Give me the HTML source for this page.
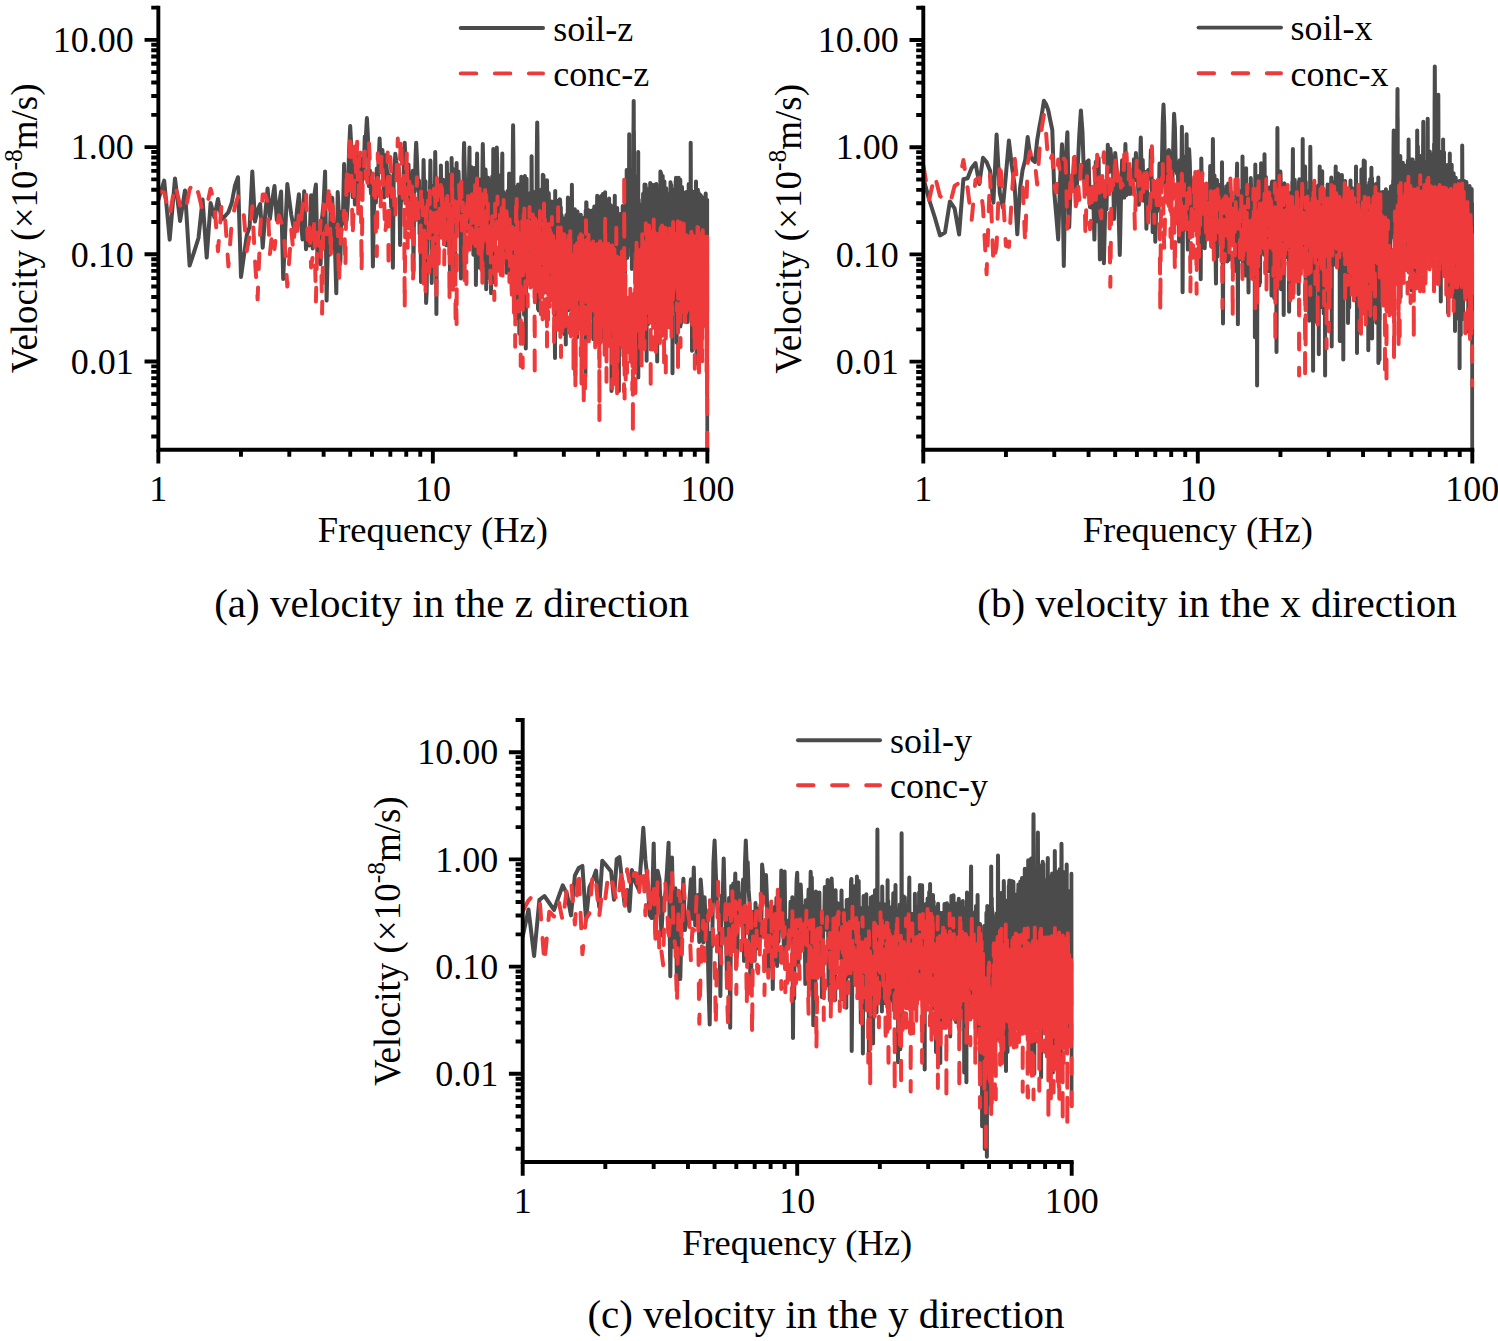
<!DOCTYPE html>
<html><head><meta charset="utf-8"><style>
html,body{margin:0;padding:0;background:#fff;}
svg{display:block;}
text{font-family:"Liberation Serif",serif;fill:#000;}
</style></head><body>
<svg width="1498" height="1341" viewBox="0 0 1498 1341">
<clipPath id="clipa"><rect x="158.35" y="-22.370415535178836" width="551.0" height="472.0704155351788"/></clipPath>
<g clip-path="url(#clipa)" fill="none" stroke-width="4.0" stroke-linejoin="round" stroke-linecap="round">
<path d="M158.3 200.0L164.2 180.6L169.7 239.7L175.0 178.4L180.1 220.9L185.0 190.4L189.6 265.6L194.1 252.0L198.5 238.0L202.6 199.4L206.7 257.6L210.6 203.0L214.4 217.3L218.0 199.0L221.6 219.5L225.1 216.0L228.4 212.2L231.7 203.0L234.9 186.0L238.0 177.2L241.0 277.0L243.9 256.0L246.8 235.2L249.6 226.8L252.3 171.5L255.0 221.6L257.6 210.0L260.2 204.0L262.7 247.7L265.2 215.0L267.6 188.5L269.9 219.0L272.3 200.0L274.5 186.0L276.8 220.0L278.9 205.0L281.1 191.5L283.2 279.0L285.3 230.0L287.3 184.0L289.3 200.0L291.3 215.0L293.2 225.0L295.1 231.7L297.0 210.0L298.9 194.2L300.7 217.3L302.5 239.4L304.2 191.2L306.0 249.3L307.7 233.0L309.4 245.4L311.1 195.3L312.7 248.4L314.3 195.5L315.9 184.5L317.5 258.8L319.1 260.4L320.6 264.3L322.1 217.4L323.6 202.7L325.1 171.4L326.6 300.6L328.0 239.1L329.4 254.8L330.8 202.8L332.2 197.6L333.6 229.7L335.0 248.2L336.3 293.2L337.7 192.0L339.0 216.2L340.3 263.4L341.6 211.7L342.8 223.7L344.1 164.0L345.4 202.5L346.6 220.5L347.8 203.7L349.0 152.2L350.2 126.1L351.4 149.3L352.6 197.1L353.7 160.2L354.9 204.5L356.0 148.2L357.2 203.8L358.3 157.2L359.4 169.9L360.5 166.6L361.6 190.3L362.7 158.2L363.7 171.2L364.8 136.6L365.8 138.1L366.9 118.0L367.9 136.4L368.9 186.1L369.9 170.5L371.0 193.5L372.0 187.7L372.9 266.5L373.9 210.6L374.9 186.2L375.9 202.5L376.8 168.4L377.8 180.3L378.7 159.7L379.6 138.6L380.6 162.7L381.5 163.6L382.4 149.9L383.3 163.7L384.2 197.5L385.1 191.5L386.0 155.1L386.9 170.6L387.7 173.2L388.6 189.0L389.5 175.3L390.3 183.4L391.2 206.8L392.0 194.2L392.9 267.7L393.7 174.9L394.5 170.3L395.3 153.7L396.1 160.6L397.0 165.5L397.8 167.3L398.6 167.3L399.3 182.9L400.1 244.9L400.9 199.1L401.7 200.9L402.5 197.5L403.2 184.4L404.0 162.3L404.7 142.7L405.5 161.0L406.2 155.4L407.0 186.1L407.7 169.6L408.5 164.6L409.2 192.3L409.9 219.6L410.6 180.9L411.4 219.9L412.1 197.7L412.8 170.8L413.5 271.0L414.2 189.9L414.9 182.9L415.6 155.7L416.2 142.7L416.9 157.7L417.6 176.3L418.3 191.2L419.0 180.4L419.6 233.9L420.3 192.0L421.0 282.0L421.6 209.9L422.3 216.4L422.9 202.3L423.6 159.9L424.2 194.1L424.8 262.0L425.5 181.2L426.1 302.9L426.7 291.5L427.4 193.2L428.0 214.1L428.6 195.2L429.2 195.5L429.8 204.2L430.4 160.5L431.0 204.0L431.7 283.0L432.3 190.5L432.9 226.7L433.4 201.4L434.0 185.5L434.6 253.2L435.2 152.0L435.8 192.4L436.4 313.9L437.0 189.7L437.5 241.5L438.1 214.0L438.7 234.9L439.2 216.2L439.8 196.9L440.4 229.3L440.9 165.5L441.5 202.8L442.0 197.8L442.6 205.1L443.1 179.8L443.7 187.7L444.2 211.5L444.8 199.2L445.3 234.0L445.8 215.1L446.4 245.3L446.9 162.4L447.4 215.1L447.9 192.9L448.5 233.4L449.0 190.4L449.5 174.9L450.0 280.1L450.5 210.7L451.1 232.6L451.6 158.1L452.1 216.6L452.6 168.6L453.1 186.1L453.6 222.3L454.1 213.6L454.6 184.0L455.1 274.5L455.6 183.7L456.1 209.3L456.6 163.0L457.0 227.1L457.5 193.3L458.0 182.2L458.5 171.6L459.0 185.9L459.5 187.3L459.9 211.8L460.4 205.7L460.9 278.5L461.3 276.8L461.8 237.3L462.3 223.3L462.7 245.0L463.2 269.7L463.7 158.5L464.1 143.1L464.6 164.3L465.0 178.9L465.5 217.5L465.9 193.3L466.4 193.6L466.8 195.4L467.3 179.7L467.7 231.3L468.2 222.3L468.6 218.5L469.1 170.5L469.5 147.6L469.9 225.8L470.4 185.7L470.8 202.6L471.2 167.0L471.7 178.4L472.1 190.8L472.5 204.8L473.0 208.3L473.4 254.7L473.8 198.3L474.2 167.9L474.7 243.7L475.1 176.1L475.5 180.1L475.9 285.0L476.3 234.0L476.7 200.1L477.1 153.6L477.6 203.6L478.0 200.4L478.4 253.2L478.8 205.9L479.2 179.3L479.6 267.8L480.0 221.5L480.4 183.3L480.8 183.0L481.2 209.6L481.6 180.8L482.0 222.6L482.4 171.8L482.8 144.0L483.2 164.6L483.5 239.6L483.9 265.2L484.3 226.7L484.7 229.0L485.1 188.1L485.5 169.4L485.9 177.6L486.2 289.2L486.6 224.9L487.0 278.9L487.4 202.3L487.8 236.7L488.1 177.7L488.5 188.6L488.9 197.4L489.3 217.4L489.6 218.0L490.0 213.6L490.4 208.1L490.7 219.7L491.1 293.2L491.5 210.8L491.8 249.9L492.2 176.4L492.5 205.7L492.9 218.9L493.3 149.0L493.6 195.9L494.0 206.9L494.3 282.1L494.7 227.0L495.1 221.4L495.4 178.0L495.8 175.9L496.1 193.1L496.5 186.6L496.8 147.6L497.2 162.1L497.5 205.0L497.8 177.0L498.2 227.0L498.5 175.0L498.9 178.6L499.2 180.3L499.6 198.2L499.9 221.6L500.2 247.1L500.6 198.0L500.9 199.3L501.3 250.5L501.6 239.2L501.9 185.9L502.3 153.6L502.6 252.0L502.9 190.9L503.3 226.8L503.6 192.6L503.9 196.5L504.2 215.7L504.6 218.0L504.9 214.6L505.2 219.7L505.5 194.2L505.9 244.6L506.2 199.5L506.5 272.7L506.8 217.8L507.2 201.6L507.5 191.0L507.8 215.6L508.1 207.3L508.4 227.6L508.7 216.8L509.1 173.4L509.4 254.4L509.7 176.4L510.0 253.6L510.3 251.1L510.6 278.3L510.9 232.2L511.2 190.1L511.5 212.8L511.9 212.7L512.2 229.2L512.5 208.3L512.8 155.2L513.1 125.2L513.4 154.9L513.7 221.4L514.0 212.1L514.3 186.4L514.6 303.0L514.9 235.9L515.2 256.1L515.5 206.9L515.8 289.6L516.1 252.7L516.4 318.6L516.7 194.2L517.0 216.7L517.3 209.5L517.6 228.7L517.8 198.9L518.1 184.5L518.4 217.0L518.7 231.5L519.0 209.8L519.3 333.8L519.6 211.7L519.9 203.4L520.2 254.2L520.4 216.7L520.7 201.5L521.0 202.7L521.3 176.7L521.6 302.4L521.9 233.1L522.1 202.3L522.4 240.4L522.7 197.3L523.0 206.0L523.3 223.7L523.5 212.3L523.8 208.5L524.1 314.7L524.4 193.4L524.7 230.7L524.9 176.0L525.2 185.0L525.5 197.3L525.8 348.4L526.0 243.3L526.3 266.9L526.6 178.7L526.8 238.2L527.1 216.3L527.4 214.5L527.7 241.5L527.9 206.1L528.2 222.6L528.5 202.4L528.7 212.9L529.0 224.5L529.3 193.4L529.5 203.9L529.8 215.4L530.1 219.7L530.3 254.9L530.6 235.2L530.8 227.6L531.1 268.8L531.4 197.6L531.6 156.3L531.9 213.8L532.1 191.9L532.4 227.4L532.7 229.1L532.9 191.5L533.2 244.0L533.4 227.7L533.7 216.6L533.9 283.7L534.2 266.6L534.5 200.4L534.7 195.5L535.0 283.3L535.2 194.7L535.5 250.0L535.7 208.3L536.0 212.3L536.2 228.2L536.5 287.8L536.7 165.6L537.0 137.8L537.2 122.4L537.5 141.1L537.7 206.8L538.0 309.1L538.2 205.0L538.5 245.3L538.7 310.5L538.9 251.8L539.2 244.9L539.4 246.7L539.7 258.6L539.9 206.0L540.2 236.2L540.4 258.4L540.6 276.5L540.9 281.9L541.1 281.4L541.4 189.4L541.6 214.9L541.8 221.4L542.1 278.0L542.3 218.6L542.6 206.3L542.8 174.8L543.0 208.6L543.3 255.9L543.5 175.5L543.7 198.3L544.0 211.0L544.2 229.1L544.4 215.5L544.7 276.5L544.9 203.1L545.1 232.3L545.4 256.5L545.6 292.3L545.8 274.6L546.1 197.0L546.3 259.0L546.5 244.2L546.8 221.6L547.0 180.2L547.2 201.1L547.4 253.5L547.7 192.0L547.9 213.8L548.1 209.4L548.4 253.5L548.6 217.9L548.8 193.3L549.0 219.1L549.3 215.9L549.5 250.5L549.7 215.6L549.9 248.0L550.2 233.2L550.4 280.0L550.6 253.0L550.8 223.1L551.0 229.3L551.3 228.4L551.5 276.4L551.7 201.4L551.9 225.1L552.1 234.1L552.4 226.3L552.6 239.9L552.8 231.5L553.0 225.0L553.2 249.0L553.4 218.9L553.7 241.3L553.9 254.1L554.1 202.4L554.3 219.2L554.5 302.2L554.7 316.0L555.0 358.0L555.2 191.1L555.4 269.0L555.6 298.0L555.8 286.1L556.0 253.6L556.2 249.4L556.4 254.4L556.7 240.2L556.9 263.5L557.1 234.4L557.3 213.4L557.5 200.9L557.7 288.7L557.9 259.4L558.1 209.9L558.3 269.6L558.5 220.1L558.7 246.9L559.0 224.5L559.2 213.8L559.4 210.6L559.6 199.4L559.8 200.1L560.0 199.4L560.2 202.4L560.4 272.5L560.6 237.8L560.8 207.2L561.0 238.6L561.2 240.2L561.4 236.6L561.6 214.9L561.8 232.2L562.0 280.5L562.2 228.7L562.4 237.8L562.6 298.2L562.8 217.9L563.0 258.5L563.2 236.8L563.4 266.5L563.6 227.9L563.8 241.7L564.0 228.7L564.2 280.4L564.4 293.3L564.6 249.6L564.8 334.5L565.0 260.1L565.2 274.0L565.4 287.8L565.6 222.1L565.8 344.6L566.0 231.0L566.2 239.0L566.4 215.0L566.6 273.1L566.8 227.3L567.0 256.2L567.2 218.4L567.3 228.6L567.5 231.0L567.7 220.1L567.9 197.5L568.1 266.1L568.3 310.2L568.5 219.5L568.7 214.1L568.9 228.8L569.1 205.7L569.3 253.1L569.4 230.5L569.6 245.4L569.8 293.1L570.0 282.1L570.2 298.4L570.4 303.8L570.6 248.1L570.8 241.0L571.0 198.8L571.1 208.7L571.3 242.9L571.5 281.6L571.7 236.0L571.9 184.8L572.1 219.4L572.3 266.5L572.4 214.8L572.6 218.5L572.8 225.4L573.0 250.7L573.2 278.5L573.4 220.4L573.5 250.0L573.7 244.2L573.9 237.7L574.1 248.6L574.3 275.2L574.5 220.6L574.6 242.0L574.8 209.2L575.0 243.3L575.2 272.0L575.4 375.1L575.5 240.6L575.7 227.2L575.9 249.2L576.1 232.9L576.3 211.8L576.4 244.8L576.6 273.8L576.8 292.1L577.0 337.4L577.2 233.0L577.3 224.2L577.5 211.5L577.7 238.3L577.9 275.5L578.0 223.1L578.2 283.2L578.4 263.1L578.6 220.4L578.7 254.9L578.9 278.1L579.1 307.1L579.3 217.2L579.4 278.7L579.6 271.6L579.8 224.3L580.0 228.4L580.1 320.3L580.3 233.6L580.5 228.1L580.7 264.9L580.8 214.8L581.0 243.1L581.2 233.6L581.3 248.1L581.5 253.3L581.7 256.8L581.9 239.4L582.0 293.4L582.2 282.3L582.4 308.9L582.5 240.7L582.7 266.9L582.9 239.6L583.0 228.1L583.2 258.6L583.4 315.4L583.6 277.5L583.7 228.8L583.9 224.3L584.1 272.8L584.2 264.6L584.4 288.8L584.6 217.2L584.7 288.6L584.9 240.5L585.1 228.3L585.2 233.8L585.4 376.2L585.6 322.3L585.7 210.4L585.9 231.8L586.1 267.0L586.2 202.2L586.4 202.4L586.5 204.4L586.7 290.9L586.9 233.6L587.0 232.5L587.2 277.3L587.4 232.6L587.5 269.8L587.7 236.6L587.9 231.1L588.0 238.0L588.2 220.4L588.3 209.9L588.5 292.4L588.7 291.8L588.8 244.0L589.0 264.6L589.1 290.7L589.3 238.7L589.5 267.4L589.6 272.8L589.8 210.8L589.9 218.0L590.1 272.4L590.3 267.0L590.4 222.6L590.6 284.2L590.7 279.9L590.9 234.8L591.1 235.4L591.2 215.3L591.4 243.6L591.5 215.3L591.7 251.7L591.8 259.1L592.0 255.2L592.2 210.5L592.3 259.0L592.5 273.6L592.6 219.1L592.8 256.7L592.9 283.8L593.1 224.2L593.2 306.3L593.4 339.2L593.6 268.9L593.7 294.8L593.9 231.0L594.0 264.0L594.2 311.5L594.3 206.4L594.5 284.8L594.6 228.3L594.8 281.6L594.9 262.0L595.1 281.8L595.2 241.5L595.4 245.4L595.6 311.4L595.7 211.4L595.9 221.5L596.0 341.5L596.2 307.6L596.3 220.7L596.5 342.4L596.6 231.3L596.8 301.3L596.9 305.2L597.1 201.8L597.2 195.8L597.4 236.4L597.5 315.1L597.7 281.2L597.8 241.2L598.0 293.5L598.1 235.1L598.3 238.2L598.4 225.4L598.6 330.9L598.7 283.3L598.9 247.2L599.0 231.6L599.2 335.9L599.3 242.0L599.4 227.1L599.6 244.1L599.7 271.4L599.9 278.1L600.0 216.9L600.2 322.2L600.3 266.3L600.5 210.5L600.6 289.0L600.8 341.2L600.9 289.0L601.1 195.9L601.2 247.8L601.3 257.7L601.5 300.3L601.6 250.2L601.8 212.7L601.9 315.8L602.1 325.2L602.2 248.8L602.4 208.8L602.5 289.0L602.6 273.8L602.8 340.1L602.9 194.0L603.1 244.6L603.2 232.8L603.4 216.5L603.5 272.9L603.6 237.3L603.8 205.8L603.9 219.4L604.1 283.0L604.2 258.9L604.4 227.0L604.5 268.1L604.6 219.0L604.8 265.6L604.9 263.7L605.1 192.3L605.2 250.6L605.3 271.6L605.5 275.7L605.6 269.1L605.8 298.9L605.9 275.4L606.0 310.5L606.2 242.7L606.3 204.5L606.5 223.8L606.6 232.8L606.7 206.2L606.9 216.3L607.0 251.0L607.2 229.9L607.3 232.6L607.4 273.2L607.6 291.5L607.7 293.1L607.8 239.1L608.0 269.3L608.1 290.9L608.3 220.8L608.4 225.4L608.5 262.5L608.7 230.8L608.8 224.7L608.9 238.8L609.1 198.6L609.2 244.3L609.3 207.2L609.5 229.1L609.6 226.8L609.7 235.8L609.9 218.0L610.0 246.8L610.2 266.6L610.3 236.5L610.4 311.8L610.6 292.2L610.7 233.9L610.8 205.3L611.0 276.4L611.1 228.6L611.2 235.9L611.4 255.7L611.5 390.9L611.6 233.3L611.8 246.4L611.9 260.1L612.0 265.8L612.2 226.1L612.3 257.1L612.4 252.5L612.6 263.2L612.7 216.7L612.8 217.9L612.9 342.9L613.1 284.4L613.2 285.5L613.3 314.3L613.5 329.2L613.6 240.3L613.7 274.1L613.9 261.3L614.0 253.7L614.1 265.2L614.3 234.6L614.4 292.2L614.5 241.3L614.6 220.0L614.8 195.8L614.9 260.9L615.0 227.5L615.2 325.8L615.3 224.4L615.4 234.2L615.6 354.8L615.7 250.1L615.8 309.0L615.9 277.6L616.1 216.8L616.2 226.1L616.3 239.6L616.4 296.3L616.6 235.5L616.7 245.5L616.8 246.8L617.0 234.8L617.1 278.2L617.2 208.0L617.3 226.8L617.5 284.4L617.6 258.4L617.7 249.3L617.8 238.1L618.0 217.9L618.1 244.8L618.2 360.2L618.4 256.4L618.5 254.7L618.6 367.6L618.7 297.1L618.9 390.9L619.0 323.6L619.1 263.3L619.2 233.0L619.4 259.4L619.5 236.3L619.6 281.7L619.7 218.5L619.9 245.1L620.0 287.0L620.1 244.4L620.2 256.7L620.3 214.1L620.5 231.3L620.6 323.8L620.7 262.1L620.8 237.5L621.0 249.3L621.1 276.0L621.2 277.8L621.3 284.4L621.5 231.6L621.6 227.5L621.7 260.1L621.8 250.1L621.9 253.3L622.1 225.5L622.2 233.8L622.3 272.8L622.4 236.8L622.6 273.4L622.7 206.1L622.8 321.3L622.9 224.9L623.0 246.0L623.2 307.4L623.3 228.6L623.4 226.4L623.5 356.1L623.6 301.8L623.8 250.3L623.9 208.6L624.0 256.6L624.1 228.4L624.2 225.2L624.4 311.7L624.5 257.9L624.6 243.2L624.7 208.8L624.8 235.0L625.0 283.5L625.1 224.7L625.2 223.6L625.3 241.5L625.4 213.7L625.5 231.6L625.7 247.2L625.8 208.6L625.9 217.3L626.0 221.1L626.1 205.5L626.3 195.0L626.4 185.4L626.5 208.6L626.6 245.7L626.7 170.0L626.8 230.9L627.0 255.3L627.1 204.4L627.2 258.1L627.3 214.6L627.4 204.5L627.5 200.2L627.7 200.3L627.8 212.9L627.9 188.5L628.0 215.4L628.1 201.6L628.2 212.4L628.4 246.6L628.5 188.5L628.6 197.1L628.7 190.7L628.8 175.6L628.9 209.0L629.0 209.4L629.2 134.2L629.3 207.7L629.4 196.7L629.5 236.7L629.6 169.2L629.7 192.1L629.9 218.2L630.0 184.3L630.1 195.0L630.2 228.4L630.3 194.2L630.4 189.0L630.5 234.7L630.6 178.2L630.8 229.4L630.9 192.7L631.0 187.1L631.1 201.4L631.2 201.1L631.3 255.9L631.4 218.2L631.6 199.9L631.7 205.2L631.8 192.8L631.9 269.1L632.0 196.2L632.1 233.7L632.2 211.0L632.3 239.6L632.4 194.6L632.6 197.7L632.7 195.4L632.8 225.5L632.9 250.5L633.0 225.2L633.1 199.4L633.2 225.7L633.3 156.8L633.4 136.5L633.6 120.1L633.7 100.9L633.8 130.7L633.9 131.2L634.0 150.1L634.1 222.9L634.2 210.8L634.3 208.0L634.4 191.2L634.6 184.1L634.7 175.9L634.8 178.8L634.9 195.6L635.0 217.1L635.1 210.4L635.2 198.0L635.3 206.1L635.4 218.2L635.5 250.9L635.6 237.4L635.8 186.6L635.9 227.0L636.0 206.1L636.1 273.7L636.2 280.7L636.3 236.7L636.4 255.0L636.5 249.3L636.6 266.6L636.7 215.1L636.8 211.1L636.9 256.2L637.1 310.6L637.2 211.2L637.3 237.8L637.4 235.8L637.5 222.4L637.6 256.7L637.7 202.2L637.8 222.2L637.9 226.7L638.0 306.5L638.1 248.9L638.2 152.0L638.3 377.5L638.4 210.9L638.5 240.9L638.7 199.6L638.8 205.3L638.9 250.2L639.0 268.0L639.1 243.9L639.2 238.8L639.3 262.2L639.4 308.3L639.5 293.0L639.6 265.0L639.7 226.8L639.8 258.7L639.9 211.5L640.0 285.6L640.1 215.2L640.2 330.8L640.3 216.9L640.4 213.9L640.5 219.5L640.7 230.9L640.8 208.7L640.9 213.9L641.0 280.0L641.1 295.2L641.2 204.6L641.3 227.5L641.4 225.8L641.5 268.1L641.6 246.3L641.7 224.9L641.8 261.7L641.9 240.9L642.0 209.5L642.1 262.3L642.2 229.3L642.3 280.6L642.4 246.7L642.5 204.3L642.6 257.2L642.7 238.8L642.8 235.4L642.9 225.8L643.0 246.4L643.1 193.8L643.2 232.3L643.3 296.7L643.4 209.1L643.5 202.9L643.6 225.1L643.7 233.5L643.8 222.5L643.9 230.7L644.0 247.6L644.1 262.1L644.2 191.9L644.3 222.9L644.4 242.1L644.5 184.5L644.7 303.3L644.8 244.2L644.9 230.8L645.0 227.9L645.1 203.9L645.2 194.3L645.3 248.2L645.4 291.7L645.5 262.0L645.6 184.8L645.7 189.4L645.8 232.9L645.9 238.0L646.0 240.9L646.1 277.4L646.2 283.1L646.3 346.4L646.4 219.3L646.5 229.4L646.6 360.7L646.7 250.2L646.8 193.0L646.8 286.5L646.9 241.8L647.0 208.2L647.1 220.3L647.2 238.3L647.3 245.2L647.4 225.0L647.5 255.3L647.6 234.5L647.7 322.4L647.8 272.3L647.9 204.2L648.0 199.3L648.1 272.3L648.2 240.9L648.3 323.9L648.4 226.9L648.5 206.9L648.6 189.1L648.7 258.3L648.8 196.9L648.9 244.2L649.0 237.0L649.1 254.6L649.2 299.8L649.3 211.8L649.4 230.4L649.5 256.1L649.6 209.0L649.7 198.0L649.8 203.1L649.9 294.2L650.0 261.2L650.1 208.8L650.2 182.9L650.3 243.6L650.4 218.3L650.5 211.1L650.6 208.7L650.6 229.6L650.7 219.9L650.8 297.8L650.9 237.1L651.0 283.2L651.1 291.2L651.2 283.2L651.3 231.6L651.4 238.6L651.5 234.5L651.6 184.6L651.7 300.8L651.8 204.4L651.9 236.0L652.0 248.0L652.1 260.6L652.2 235.1L652.3 243.6L652.4 267.0L652.5 244.0L652.6 246.3L652.6 272.0L652.7 195.6L652.8 233.2L652.9 186.7L653.0 204.4L653.1 187.2L653.2 274.5L653.3 218.9L653.4 233.4L653.5 260.6L653.6 248.5L653.7 291.5L653.8 230.9L653.9 250.0L654.0 274.8L654.1 199.9L654.1 229.3L654.2 197.6L654.3 236.2L654.4 217.7L654.5 269.2L654.6 229.2L654.7 205.5L654.8 275.9L654.9 226.0L655.0 184.6L655.1 214.3L655.2 222.8L655.3 186.7L655.4 203.4L655.4 216.4L655.5 219.5L655.6 226.9L655.7 216.5L655.8 218.2L655.9 228.7L656.0 220.5L656.1 255.4L656.2 259.5L656.3 183.9L656.4 205.5L656.5 199.3L656.5 220.6L656.6 220.8L656.7 255.3L656.8 252.9L656.9 277.9L657.0 247.7L657.1 239.4L657.2 361.4L657.3 243.6L657.4 223.3L657.5 217.0L657.5 189.2L657.6 298.8L657.7 255.6L657.8 222.3L657.9 276.0L658.0 256.9L658.1 228.9L658.2 305.2L658.3 280.3L658.4 227.4L658.4 226.0L658.5 204.5L658.6 199.4L658.7 220.9L658.8 210.0L658.9 195.1L659.0 253.4L659.1 308.6L659.2 248.1L659.3 284.4L659.3 274.8L659.4 243.9L659.5 233.3L659.6 220.9L659.7 231.1L659.8 218.2L659.9 206.4L660.0 231.1L660.1 245.4L660.1 238.4L660.2 253.6L660.3 219.3L660.4 171.4L660.5 209.9L660.6 215.9L660.7 235.7L660.8 223.2L660.8 245.0L660.9 210.8L661.0 229.0L661.1 173.1L661.2 247.8L661.3 273.5L661.4 272.1L661.5 275.6L661.5 208.5L661.6 328.3L661.7 235.5L661.8 207.6L661.9 198.2L662.0 195.5L662.1 242.9L662.2 242.2L662.2 259.9L662.3 245.0L662.4 232.9L662.5 205.6L662.6 253.1L662.7 175.9L662.8 245.1L662.9 205.9L662.9 205.3L663.0 283.6L663.1 290.7L663.2 251.4L663.3 211.2L663.4 229.1L663.5 220.0L663.5 201.2L663.6 211.8L663.7 193.6L663.8 317.1L663.9 211.8L664.0 223.0L664.1 212.6L664.1 244.2L664.2 236.3L664.3 256.8L664.4 181.6L664.5 209.2L664.6 239.4L664.7 237.5L664.7 265.5L664.8 196.9L664.9 221.8L665.0 224.2L665.1 232.3L665.2 220.4L665.3 252.9L665.3 199.8L665.4 194.1L665.5 217.6L665.6 198.0L665.7 223.3L665.8 237.6L665.8 197.4L665.9 228.3L666.0 235.7L666.1 236.4L666.2 188.2L666.3 257.7L666.4 251.4L666.4 216.4L666.5 229.1L666.6 253.4L666.7 267.0L666.8 212.7L666.9 257.3L666.9 225.6L667.0 302.3L667.1 275.9L667.2 220.8L667.3 220.9L667.4 230.2L667.4 307.0L667.5 203.9L667.6 235.1L667.7 243.7L667.8 251.1L667.9 195.1L667.9 239.3L668.0 227.5L668.1 219.5L668.2 314.7L668.3 200.1L668.4 249.8L668.4 209.2L668.5 299.3L668.6 231.3L668.7 227.7L668.8 212.7L668.8 233.9L668.9 272.6L669.0 195.9L669.1 244.6L669.2 204.2L669.3 210.9L669.3 270.4L669.4 195.9L669.5 252.3L669.6 193.8L669.7 231.9L669.8 241.4L669.8 204.3L669.9 261.5L670.0 210.6L670.1 229.3L670.2 212.1L670.2 256.2L670.3 212.9L670.4 213.8L670.5 182.2L670.6 281.0L670.6 189.2L670.7 217.6L670.8 243.5L670.9 218.9L671.0 239.0L671.1 221.2L671.1 275.8L671.2 205.4L671.3 184.9L671.4 199.4L671.5 233.0L671.5 238.5L671.6 266.5L671.7 302.5L671.8 223.9L671.9 264.8L671.9 224.1L672.0 221.7L672.1 202.9L672.2 273.2L672.3 219.2L672.3 243.4L672.4 232.4L672.5 373.2L672.6 213.3L672.7 235.1L672.7 259.5L672.8 208.2L672.9 264.6L673.0 235.7L673.1 199.9L673.1 311.7L673.2 224.6L673.3 229.2L673.4 258.7L673.5 309.0L673.5 212.5L673.6 203.3L673.7 253.6L673.8 246.2L673.8 227.1L673.9 243.4L674.0 296.6L674.1 267.7L674.2 236.4L674.2 283.1L674.3 284.4L674.4 256.9L674.5 201.5L674.6 235.9L674.6 239.7L674.7 275.3L674.8 232.3L674.9 240.2L674.9 250.1L675.0 197.6L675.1 193.7L675.2 188.6L675.3 200.3L675.3 213.3L675.4 192.3L675.5 238.7L675.6 236.7L675.6 227.7L675.7 180.7L675.8 232.5L675.9 202.3L676.0 177.8L676.0 260.2L676.1 283.5L676.2 196.1L676.3 244.3L676.3 193.2L676.4 237.5L676.5 241.1L676.6 237.9L676.7 342.7L676.7 240.2L676.8 206.1L676.9 291.2L677.0 216.5L677.0 234.0L677.1 226.0L677.2 261.6L677.3 197.7L677.3 221.4L677.4 226.7L677.5 238.7L677.6 282.5L677.7 216.6L677.7 219.8L677.8 245.5L677.9 209.7L678.0 231.7L678.0 217.9L678.1 241.0L678.2 237.3L678.3 246.9L678.3 225.8L678.4 211.6L678.5 183.7L678.6 239.0L678.6 210.9L678.7 177.7L678.8 221.9L678.9 214.6L678.9 246.5L679.0 216.4L679.1 221.3L679.2 250.8L679.2 245.6L679.3 205.6L679.4 237.8L679.5 290.9L679.6 282.7L679.6 268.6L679.7 215.2L679.8 304.4L679.9 208.9L679.9 223.8L680.0 201.2L680.1 236.0L680.2 250.6L680.2 246.9L680.3 179.8L680.4 326.4L680.4 217.2L680.5 252.7L680.6 288.3L680.7 257.6L680.7 232.6L680.8 233.8L680.9 204.1L681.0 222.3L681.0 263.8L681.1 246.2L681.2 244.5L681.3 246.2L681.3 220.0L681.4 323.0L681.5 219.1L681.6 207.9L681.6 245.0L681.7 206.4L681.8 317.1L681.9 236.7L681.9 201.8L682.0 187.0L682.1 238.9L682.2 191.4L682.2 193.2L682.3 224.5L682.4 227.0L682.4 264.7L682.5 202.7L682.6 272.1L682.7 223.9L682.7 269.0L682.8 204.8L682.9 192.5L683.0 226.1L683.0 210.2L683.1 229.2L683.2 263.3L683.3 275.9L683.3 198.1L683.4 213.4L683.5 216.8L683.5 206.8L683.6 228.4L683.7 193.5L683.8 208.7L683.8 195.3L683.9 227.6L684.0 293.3L684.1 205.0L684.1 276.2L684.2 217.6L684.3 253.2L684.3 266.9L684.4 239.1L684.5 250.0L684.6 241.4L684.6 289.3L684.7 257.1L684.8 225.0L684.8 215.8L684.9 205.3L685.0 231.7L685.1 211.3L685.1 211.7L685.2 274.9L685.3 247.9L685.4 233.7L685.4 266.9L685.5 232.6L685.6 223.1L685.6 246.4L685.7 239.4L685.8 209.7L685.9 217.8L685.9 235.4L686.0 210.4L686.1 284.3L686.1 191.9L686.2 273.5L686.3 321.8L686.4 239.9L686.4 209.9L686.5 261.4L686.6 226.4L686.6 249.1L686.7 218.1L686.8 210.7L686.8 300.1L686.9 196.8L687.0 194.3L687.1 257.5L687.1 256.5L687.2 217.3L687.3 221.7L687.3 246.6L687.4 238.5L687.5 242.8L687.6 226.0L687.6 322.0L687.7 204.6L687.8 241.3L687.8 209.5L687.9 218.9L688.0 216.3L688.0 263.7L688.1 236.8L688.2 218.6L688.3 233.3L688.3 227.8L688.4 234.0L688.5 211.9L688.5 221.7L688.6 227.6L688.7 197.8L688.7 184.1L688.8 237.9L688.9 209.6L689.0 260.1L689.0 187.7L689.1 210.8L689.2 241.0L689.2 203.1L689.3 224.9L689.4 216.3L689.4 214.2L689.5 211.7L689.6 316.5L689.6 217.8L689.7 201.7L689.8 283.4L689.9 205.5L689.9 251.6L690.0 243.6L690.1 249.5L690.1 256.0L690.2 207.4L690.3 190.7L690.3 225.6L690.4 226.6L690.5 211.8L690.5 261.1L690.6 200.8L690.7 163.4L690.7 142.7L690.8 170.4L690.9 261.2L691.0 220.5L691.0 227.5L691.1 205.7L691.2 223.4L691.2 227.1L691.3 238.6L691.4 190.3L691.4 225.3L691.5 229.7L691.6 298.5L691.6 238.0L691.7 246.1L691.8 226.2L691.8 230.1L691.9 324.5L692.0 224.5L692.0 350.8L692.1 239.1L692.2 283.5L692.2 236.4L692.3 262.8L692.4 262.8L692.4 222.4L692.5 218.5L692.6 292.1L692.7 218.5L692.7 257.2L692.8 207.2L692.9 229.7L692.9 221.9L693.0 214.7L693.1 211.9L693.1 306.4L693.2 244.4L693.3 228.0L693.3 236.1L693.4 266.7L693.5 245.1L693.5 202.8L693.6 209.9L693.7 276.3L693.7 234.9L693.8 237.5L693.9 206.0L693.9 203.6L694.0 210.3L694.1 218.2L694.1 234.9L694.2 221.5L694.3 245.2L694.3 225.5L694.4 231.5L694.5 297.8L694.5 191.8L694.6 241.4L694.7 251.3L694.7 207.4L694.8 269.4L694.9 202.3L694.9 260.6L695.0 208.5L695.1 225.3L695.1 223.1L695.2 236.1L695.3 241.3L695.3 191.7L695.4 261.6L695.5 232.6L695.5 283.9L695.6 206.8L695.6 226.7L695.7 299.7L695.8 241.4L695.8 231.3L695.9 228.6L696.0 282.8L696.0 181.5L696.1 339.3L696.2 228.7L696.2 262.7L696.3 229.7L696.4 263.6L696.4 200.4L696.5 225.6L696.6 255.6L696.6 363.5L696.7 231.9L696.8 197.6L696.8 252.9L696.9 242.9L697.0 205.6L697.0 210.6L697.1 231.2L697.2 207.1L697.2 283.3L697.3 339.7L697.3 253.5L697.4 266.6L697.5 219.5L697.5 201.7L697.6 250.9L697.7 258.9L697.7 247.4L697.8 208.3L697.9 189.8L697.9 235.4L698.0 206.1L698.1 217.1L698.1 229.7L698.2 214.1L698.2 289.0L698.3 219.1L698.4 236.0L698.4 312.3L698.5 245.3L698.6 223.5L698.6 253.8L698.7 209.9L698.8 201.9L698.8 192.9L698.9 245.1L699.0 244.2L699.0 245.4L699.1 245.6L699.1 237.9L699.2 292.7L699.3 228.8L699.3 204.1L699.4 214.4L699.5 225.3L699.5 240.3L699.6 221.9L699.7 227.3L699.7 217.6L699.8 251.2L699.8 267.0L699.9 220.8L700.0 260.1L700.0 210.7L700.1 314.0L700.2 222.0L700.2 244.7L700.3 239.7L700.4 200.1L700.4 238.4L700.5 195.1L700.5 231.0L700.6 234.7L700.7 297.6L700.7 209.8L700.8 195.6L700.9 241.9L700.9 219.1L701.0 235.8L701.0 215.4L701.1 247.6L701.2 205.1L701.2 233.0L701.3 256.5L701.4 276.8L701.4 220.5L701.5 235.8L701.5 298.2L701.6 206.4L701.7 264.7L701.7 252.1L701.8 306.2L701.9 231.5L701.9 229.3L702.0 235.7L702.0 222.9L702.1 197.7L702.2 237.5L702.2 224.9L702.3 232.9L702.4 248.8L702.4 225.2L702.5 208.8L702.5 264.9L702.6 293.7L702.7 214.5L702.7 241.0L702.8 224.3L702.9 249.1L702.9 197.5L703.0 284.4L703.0 269.0L703.1 207.0L703.2 243.6L703.2 221.3L703.3 212.9L703.3 267.8L703.4 254.6L703.5 238.5L703.5 241.9L703.6 272.0L703.7 222.1L703.7 232.4L703.8 214.5L703.8 229.6L703.9 210.1L704.0 222.5L704.0 244.0L704.1 217.9L704.1 244.8L704.2 260.2L704.3 242.9L704.3 230.9L704.4 225.6L704.5 200.6L704.5 256.4L704.6 299.3L704.6 215.6L704.7 248.9L704.8 240.8L704.8 262.5L704.9 247.7L704.9 212.4L705.0 207.4L705.1 222.3L705.1 211.7L705.2 240.8L705.2 202.8L705.3 247.1L705.4 258.8L705.4 196.4L705.5 275.9L705.5 263.7L705.6 196.7L705.7 236.8L705.7 193.6L705.8 231.8L705.9 202.3L705.9 239.0L706.0 201.9L706.0 203.3L706.1 309.6L706.2 262.1L706.2 247.0L706.3 259.2L706.3 214.3L706.4 205.0L706.5 221.7L706.5 256.1L706.6 255.4L706.6 251.4L706.7 228.1L706.8 234.3L706.8 253.8L706.9 240.1L706.9 215.0L707.0 231.7L707.1 289.8L707.1 302.5L707.2 202.4L707.2 206.9L707.3 199.9L707.4 449.7" stroke="#4b4b4b"/>
<path d="M158.3 191.0L164.2 192.6L169.7 215.6L175.0 184.2L180.1 205.3L185.0 212.7L189.6 189.4L194.1 181.4L198.5 193.6L202.6 211.3L206.7 206.9L210.6 188.7L214.4 203.2L218.0 251.2L221.6 204.7L225.1 217.1L228.4 266.4L231.7 222.8L234.9 206.9L238.0 196.5L241.0 206.1L243.9 215.6L246.8 251.0L249.6 235.8L252.3 206.3L255.0 260.2L257.6 299.3L260.2 230.4L262.7 194.4L265.2 194.6L267.6 201.8L269.9 254.1L272.3 231.3L274.5 249.1L276.8 229.4L278.9 215.2L281.1 221.8L283.2 227.0L285.3 253.0L287.3 286.6L289.3 259.1L291.3 229.7L293.2 250.1L295.1 222.9L297.0 236.8L298.9 214.0L300.7 225.2L302.5 206.7L304.2 197.9L306.0 190.2L307.7 239.8L309.4 222.2L311.1 267.5L312.7 256.3L314.3 218.4L315.9 301.5L317.5 232.7L319.1 248.8L320.6 220.5L322.1 313.6L323.6 204.7L325.1 205.1L326.6 234.1L328.0 198.3L329.4 183.6L330.8 258.2L332.2 195.7L333.6 221.5L335.0 223.9L336.3 233.7L337.7 224.4L339.0 283.3L340.3 245.8L341.6 229.0L342.8 232.2L344.1 210.7L345.4 268.2L346.6 167.5L347.8 199.5L349.0 160.0L350.2 132.1L351.4 160.4L352.6 237.1L353.7 210.0L354.9 142.6L356.0 172.5L357.2 141.8L358.3 216.3L359.4 158.7L360.5 152.6L361.6 271.7L362.7 182.4L363.7 174.3L364.8 151.4L365.8 179.0L366.9 177.5L367.9 188.0L368.9 141.8L369.9 162.3L371.0 167.2L372.0 182.6L372.9 173.6L373.9 195.1L374.9 172.6L375.9 234.6L376.8 256.1L377.8 153.2L378.7 167.4L379.6 191.6L380.6 210.7L381.5 153.9L382.4 165.7L383.3 184.3L384.2 200.5L385.1 233.9L386.0 225.8L386.9 214.2L387.7 152.4L388.6 269.8L389.5 196.3L390.3 156.9L391.2 171.2L392.0 196.9L392.9 180.1L393.7 184.2L394.5 216.3L395.3 219.3L396.1 191.4L397.0 161.7L397.8 138.6L398.6 168.1L399.3 196.2L400.1 158.6L400.9 136.7L401.7 157.8L402.5 192.8L403.2 206.2L404.0 168.8L404.7 308.8L405.5 179.2L406.2 166.1L407.0 150.0L407.7 247.8L408.5 214.4L409.2 181.5L409.9 187.0L410.6 203.1L411.4 237.2L412.1 177.9L412.8 283.6L413.5 269.7L414.2 189.6L414.9 219.0L415.6 198.4L416.2 225.0L416.9 177.2L417.6 207.1L418.3 216.4L419.0 219.9L419.6 226.4L420.3 255.9L421.0 193.0L421.6 186.4L422.3 204.1L422.9 217.3L423.6 284.0L424.2 230.6L424.8 233.9L425.5 294.4L426.1 197.7L426.7 197.4L427.4 209.0L428.0 200.6L428.6 227.2L429.2 281.7L429.8 190.8L430.4 217.4L431.0 230.9L431.7 216.3L432.3 268.2L432.9 238.0L433.4 260.4L434.0 188.6L434.6 196.1L435.2 183.3L435.8 250.7L436.4 294.7L437.0 172.1L437.5 245.1L438.1 237.7L438.7 267.9L439.2 202.1L439.8 236.5L440.4 199.8L440.9 185.1L441.5 240.1L442.0 180.0L442.6 235.3L443.1 203.4L443.7 217.7L444.2 264.4L444.8 200.7L445.3 216.5L445.8 208.7L446.4 196.7L446.9 217.1L447.4 196.1L447.9 247.9L448.5 228.2L449.0 203.9L449.5 302.0L450.0 208.4L450.5 233.6L451.1 240.1L451.6 202.9L452.1 172.0L452.6 266.1L453.1 290.1L453.6 195.7L454.1 194.3L454.6 215.0L455.1 227.6L455.6 326.4L456.1 295.4L456.6 324.1L457.0 202.0L457.5 228.0L458.0 215.6L458.5 201.0L459.0 185.0L459.5 196.1L459.9 210.4L460.4 188.1L460.9 194.6L461.3 181.8L461.8 230.6L462.3 220.2L462.7 202.4L463.2 222.8L463.7 215.4L464.1 234.2L464.6 280.6L465.0 210.5L465.5 233.0L465.9 200.8L466.4 284.0L466.8 230.7L467.3 195.9L467.7 203.8L468.2 196.0L468.6 197.8L469.1 207.6L469.5 254.7L469.9 218.4L470.4 205.6L470.8 215.8L471.2 204.9L471.7 242.8L472.1 185.0L472.5 206.7L473.0 209.2L473.4 198.4L473.8 243.6L474.2 198.4L474.7 207.7L475.1 184.9L475.5 245.9L475.9 212.4L476.3 235.3L476.7 201.6L477.1 177.6L477.6 209.6L478.0 249.3L478.4 258.3L478.8 211.6L479.2 260.2L479.6 184.2L480.0 224.4L480.4 205.1L480.8 218.3L481.2 202.4L481.6 270.9L482.0 209.0L482.4 289.6L482.8 193.3L483.2 218.9L483.5 220.1L483.9 243.0L484.3 213.6L484.7 224.5L485.1 190.1L485.5 211.9L485.9 245.9L486.2 195.3L486.6 223.5L487.0 207.4L487.4 201.8L487.8 197.9L488.1 258.8L488.5 243.4L488.9 218.9L489.3 220.0L489.6 248.5L490.0 236.6L490.4 282.3L490.7 283.6L491.1 227.7L491.5 242.5L491.8 232.9L492.2 216.2L492.5 226.5L492.9 249.6L493.3 234.4L493.6 241.3L494.0 229.9L494.3 300.0L494.7 257.3L495.1 203.7L495.4 263.1L495.8 285.8L496.1 263.9L496.5 221.2L496.8 223.2L497.2 214.5L497.5 196.4L497.8 231.2L498.2 270.8L498.5 258.6L498.9 247.3L499.2 270.8L499.6 247.4L499.9 214.8L500.2 264.3L500.6 225.6L500.9 280.8L501.3 223.1L501.6 204.0L501.9 256.0L502.3 206.2L502.6 277.3L502.9 230.2L503.3 262.8L503.6 200.0L503.9 240.4L504.2 251.9L504.6 210.0L504.9 246.2L505.2 211.7L505.5 224.3L505.9 228.8L506.2 247.9L506.5 211.3L506.8 216.3L507.2 265.3L507.5 257.8L507.8 236.2L508.1 224.4L508.4 255.9L508.7 237.8L509.1 227.1L509.4 282.0L509.7 219.5L510.0 270.1L510.3 250.3L510.6 252.9L510.9 256.4L511.2 263.6L511.5 284.6L511.9 295.6L512.2 225.2L512.5 218.3L512.8 289.0L513.1 221.9L513.4 223.5L513.7 272.4L514.0 318.7L514.3 279.0L514.6 245.0L514.9 235.3L515.2 346.8L515.5 264.8L515.8 254.5L516.1 197.7L516.4 223.2L516.7 199.0L517.0 294.3L517.3 226.7L517.6 221.7L517.8 251.7L518.1 224.6L518.4 249.2L518.7 311.6L519.0 285.4L519.3 228.2L519.6 298.7L519.9 239.3L520.2 248.3L520.4 234.4L520.7 366.1L521.0 233.4L521.3 268.0L521.6 256.7L521.9 263.2L522.1 217.3L522.4 250.4L522.7 367.7L523.0 252.7L523.3 226.2L523.5 211.0L523.8 236.2L524.1 270.5L524.4 205.5L524.7 210.8L524.9 261.7L525.2 293.0L525.5 244.6L525.8 259.2L526.0 232.0L526.3 233.2L526.6 247.8L526.8 229.4L527.1 246.5L527.4 223.7L527.7 306.5L527.9 262.4L528.2 218.5L528.5 228.0L528.7 284.7L529.0 241.5L529.3 233.6L529.5 206.9L529.8 266.0L530.1 256.8L530.3 287.6L530.6 226.9L530.8 275.0L531.1 285.7L531.4 285.4L531.6 274.7L531.9 247.9L532.1 213.3L532.4 264.4L532.7 208.7L532.9 219.3L533.2 246.1L533.4 223.5L533.7 249.4L533.9 291.6L534.2 228.8L534.5 283.1L534.7 377.5L535.0 212.4L535.2 248.0L535.5 272.3L535.7 275.1L536.0 237.9L536.2 285.7L536.5 244.8L536.7 232.1L537.0 255.9L537.2 263.9L537.5 291.2L537.7 269.0L538.0 220.9L538.2 261.1L538.5 243.7L538.7 273.7L538.9 215.4L539.2 269.1L539.4 284.9L539.7 214.7L539.9 207.8L540.2 304.4L540.4 305.5L540.6 231.7L540.9 314.2L541.1 249.5L541.4 258.1L541.6 254.5L541.8 244.6L542.1 303.6L542.3 266.3L542.6 319.2L542.8 267.6L543.0 316.5L543.3 258.7L543.5 255.7L543.7 263.6L544.0 203.6L544.2 284.1L544.4 229.8L544.7 325.7L544.9 217.5L545.1 277.4L545.4 284.9L545.6 262.0L545.8 225.6L546.1 291.6L546.3 245.5L546.5 243.1L546.8 276.5L547.0 346.4L547.2 226.1L547.4 254.6L547.7 275.0L547.9 242.9L548.1 319.7L548.4 268.6L548.6 224.0L548.8 233.0L549.0 232.0L549.3 256.9L549.5 315.4L549.7 229.0L549.9 233.1L550.2 238.6L550.4 266.9L550.6 255.6L550.8 254.8L551.0 233.0L551.3 296.6L551.5 259.8L551.7 304.9L551.9 216.9L552.1 258.4L552.4 251.7L552.6 300.4L552.8 279.6L553.0 263.8L553.2 235.4L553.4 278.9L553.7 313.6L553.9 290.6L554.1 346.9L554.3 270.5L554.5 248.6L554.7 241.3L555.0 294.5L555.2 296.6L555.4 275.0L555.6 292.3L555.8 262.3L556.0 304.3L556.2 281.6L556.4 243.7L556.7 271.3L556.9 277.9L557.1 240.7L557.3 329.8L557.5 296.9L557.7 235.7L557.9 242.5L558.1 207.3L558.3 332.1L558.5 238.8L558.7 302.4L559.0 265.9L559.2 225.2L559.4 242.4L559.6 246.4L559.8 292.0L560.0 255.1L560.2 236.4L560.4 336.9L560.6 266.9L560.8 227.4L561.0 357.1L561.2 282.0L561.4 261.4L561.6 237.3L561.8 284.3L562.0 232.1L562.2 334.4L562.4 291.6L562.6 287.0L562.8 294.4L563.0 310.9L563.2 264.4L563.4 301.1L563.6 234.3L563.8 286.1L564.0 292.4L564.2 244.4L564.4 234.6L564.6 326.5L564.8 318.6L565.0 234.6L565.2 275.3L565.4 242.0L565.6 244.2L565.8 331.7L566.0 282.7L566.2 294.1L566.4 250.8L566.6 296.6L566.8 283.6L567.0 256.0L567.2 267.9L567.3 248.4L567.5 276.5L567.7 243.1L567.9 264.2L568.1 310.9L568.3 282.9L568.5 277.5L568.7 235.7L568.9 304.7L569.1 279.3L569.3 342.2L569.4 334.9L569.6 334.1L569.8 271.8L570.0 296.8L570.2 234.9L570.4 226.2L570.6 299.4L570.8 285.2L571.0 342.1L571.1 253.8L571.3 268.9L571.5 299.8L571.7 279.0L571.9 310.8L572.1 261.1L572.3 310.2L572.4 313.7L572.6 324.7L572.8 261.6L573.0 326.5L573.2 254.7L573.4 278.1L573.5 371.4L573.7 283.1L573.9 278.1L574.1 259.1L574.3 271.3L574.5 269.4L574.6 286.9L574.8 273.7L575.0 256.0L575.2 245.4L575.4 385.4L575.5 281.2L575.7 243.9L575.9 257.7L576.1 284.4L576.3 249.8L576.4 323.7L576.6 274.3L576.8 287.9L577.0 286.1L577.2 243.1L577.3 337.0L577.5 312.0L577.7 241.7L577.9 277.2L578.0 273.6L578.2 256.1L578.4 261.3L578.6 252.1L578.7 283.3L578.9 265.7L579.1 236.9L579.3 249.6L579.4 242.7L579.6 283.4L579.8 276.4L580.0 263.1L580.1 275.8L580.3 283.5L580.5 249.0L580.7 230.6L580.8 355.6L581.0 246.3L581.2 251.4L581.3 291.9L581.5 384.7L581.7 240.3L581.9 264.4L582.0 315.6L582.2 235.6L582.4 252.4L582.5 282.7L582.7 310.5L582.9 238.1L583.0 265.8L583.2 280.8L583.4 276.8L583.6 275.8L583.7 406.2L583.9 382.3L584.1 249.4L584.2 253.3L584.4 264.9L584.6 238.3L584.7 243.5L584.9 278.8L585.1 388.5L585.2 256.7L585.4 248.6L585.6 283.8L585.7 257.1L585.9 220.3L586.1 237.7L586.2 322.2L586.4 239.7L586.5 286.6L586.7 267.0L586.9 302.0L587.0 274.5L587.2 252.0L587.4 250.3L587.5 252.4L587.7 252.3L587.9 253.8L588.0 257.9L588.2 282.8L588.3 276.5L588.5 234.7L588.7 267.7L588.8 340.1L589.0 344.6L589.1 259.8L589.3 245.5L589.5 257.7L589.6 243.2L589.8 255.0L589.9 338.3L590.1 323.3L590.3 270.7L590.4 279.0L590.6 294.2L590.7 294.4L590.9 293.5L591.1 298.8L591.2 283.0L591.4 243.7L591.5 292.9L591.7 291.0L591.8 246.9L592.0 250.0L592.2 287.7L592.3 265.9L592.5 310.3L592.6 257.3L592.8 291.0L592.9 285.8L593.1 241.6L593.2 257.5L593.4 263.6L593.6 259.5L593.7 239.2L593.9 254.1L594.0 278.9L594.2 253.3L594.3 288.3L594.5 268.8L594.6 272.2L594.8 251.8L594.9 307.1L595.1 237.6L595.2 349.3L595.4 284.0L595.6 349.4L595.7 280.4L595.9 264.1L596.0 265.6L596.2 342.4L596.3 278.1L596.5 267.7L596.6 247.4L596.8 247.0L596.9 269.6L597.1 272.5L597.2 310.7L597.4 243.9L597.5 272.8L597.7 245.3L597.8 256.7L598.0 276.2L598.1 325.8L598.3 245.3L598.4 249.7L598.6 297.2L598.7 279.2L598.9 240.0L599.0 294.3L599.2 358.9L599.3 301.2L599.4 420.1L599.6 301.8L599.7 263.1L599.9 310.3L600.0 283.0L600.2 240.8L600.3 265.9L600.5 351.1L600.6 291.5L600.8 266.5L600.9 297.5L601.1 294.6L601.2 248.6L601.3 273.9L601.5 311.2L601.6 244.2L601.8 281.3L601.9 244.5L602.1 259.1L602.2 305.1L602.4 265.8L602.5 314.1L602.6 299.7L602.8 289.7L602.9 248.1L603.1 273.4L603.2 326.0L603.4 289.4L603.5 238.2L603.6 277.6L603.8 274.7L603.9 276.3L604.1 270.5L604.2 312.5L604.4 280.2L604.5 321.2L604.6 354.9L604.8 330.5L604.9 305.6L605.1 228.1L605.2 216.7L605.3 250.6L605.5 279.0L605.6 261.6L605.8 246.7L605.9 341.2L606.0 271.9L606.2 253.3L606.3 278.6L606.5 381.8L606.6 299.5L606.7 340.3L606.9 245.2L607.0 301.8L607.2 264.8L607.3 266.6L607.4 274.2L607.6 274.7L607.7 308.8L607.8 261.7L608.0 274.7L608.1 272.4L608.3 288.7L608.4 282.8L608.5 235.5L608.7 320.1L608.8 290.7L608.9 249.4L609.1 277.6L609.2 331.7L609.3 326.8L609.5 270.3L609.6 257.3L609.7 353.2L609.9 301.1L610.0 292.9L610.2 270.8L610.3 322.5L610.4 253.5L610.6 315.0L610.7 310.3L610.8 279.9L611.0 267.4L611.1 295.4L611.2 269.3L611.4 271.3L611.5 260.1L611.6 307.7L611.8 250.1L611.9 277.8L612.0 273.6L612.2 388.4L612.3 245.5L612.4 283.8L612.6 256.4L612.7 352.0L612.8 247.4L612.9 336.7L613.1 291.3L613.2 253.8L613.3 271.6L613.5 260.9L613.6 276.6L613.7 314.4L613.9 276.9L614.0 386.2L614.1 335.0L614.3 256.2L614.4 248.4L614.5 295.3L614.6 267.6L614.8 260.3L614.9 339.9L615.0 285.1L615.2 260.6L615.3 283.8L615.4 282.7L615.6 310.1L615.7 271.7L615.8 278.9L615.9 250.7L616.1 318.9L616.2 337.5L616.3 218.9L616.4 303.9L616.6 369.0L616.7 321.0L616.8 310.2L617.0 256.5L617.1 398.8L617.2 268.9L617.3 320.7L617.5 307.0L617.6 287.9L617.7 361.3L617.8 355.7L618.0 274.4L618.1 276.6L618.2 332.0L618.4 275.0L618.5 323.1L618.6 257.8L618.7 259.9L618.9 270.2L619.0 264.3L619.1 275.2L619.2 257.4L619.4 252.4L619.5 269.8L619.6 253.7L619.7 267.0L619.9 271.0L620.0 347.1L620.1 273.5L620.2 288.0L620.3 340.5L620.5 277.1L620.6 264.9L620.7 287.8L620.8 317.7L621.0 267.1L621.1 306.1L621.2 282.8L621.3 287.0L621.5 297.5L621.6 283.2L621.7 262.3L621.8 266.6L621.9 247.6L622.1 333.2L622.2 300.9L622.3 352.5L622.4 275.6L622.6 294.1L622.7 295.6L622.8 262.8L622.9 295.3L623.0 299.9L623.2 286.8L623.3 281.3L623.4 273.5L623.5 259.0L623.6 301.6L623.8 271.9L623.9 261.0L624.0 392.0L624.1 341.9L624.2 174.1L624.4 294.4L624.5 275.6L624.6 398.6L624.7 283.8L624.8 333.9L625.0 323.3L625.1 261.7L625.2 270.0L625.3 304.4L625.4 274.7L625.5 357.3L625.7 379.8L625.8 323.5L625.9 308.1L626.0 305.4L626.1 303.2L626.3 326.3L626.4 304.6L626.5 308.3L626.6 336.3L626.7 352.0L626.8 330.3L627.0 372.9L627.1 345.3L627.2 319.2L627.3 315.4L627.4 307.1L627.5 343.7L627.7 322.9L627.8 353.0L627.9 322.3L628.0 352.8L628.1 336.5L628.2 326.5L628.4 337.7L628.5 337.5L628.6 295.4L628.7 344.3L628.8 301.3L628.9 324.8L629.0 321.9L629.2 339.7L629.3 308.2L629.4 334.6L629.5 342.2L629.6 314.7L629.7 327.0L629.9 318.2L630.0 339.1L630.1 353.9L630.2 323.1L630.3 288.7L630.4 361.4L630.5 327.4L630.6 306.1L630.8 337.2L630.9 320.2L631.0 305.7L631.1 314.6L631.2 328.7L631.3 314.2L631.4 303.6L631.6 296.6L631.7 316.8L631.8 336.9L631.9 314.8L632.0 318.0L632.1 343.5L632.2 330.5L632.3 390.3L632.4 346.9L632.6 366.3L632.7 323.0L632.8 340.6L632.9 433.5L633.0 288.7L633.1 321.0L633.2 338.0L633.3 308.9L633.4 298.2L633.6 322.7L633.7 297.6L633.8 304.7L633.9 296.0L634.0 336.9L634.1 295.9L634.2 360.9L634.3 325.7L634.4 314.9L634.6 298.3L634.7 309.1L634.8 299.1L634.9 340.4L635.0 307.6L635.1 269.2L635.2 350.6L635.3 382.6L635.4 392.9L635.5 280.8L635.6 291.8L635.8 305.3L635.9 260.7L636.0 279.5L636.1 270.2L636.2 316.7L636.3 243.1L636.4 331.3L636.5 240.9L636.6 330.7L636.7 277.6L636.8 259.9L636.9 268.3L637.1 334.8L637.2 259.8L637.3 307.5L637.4 320.1L637.5 266.5L637.6 284.9L637.7 280.3L637.8 331.8L637.9 258.4L638.0 270.5L638.1 290.4L638.2 254.6L638.3 262.8L638.4 299.9L638.5 288.1L638.7 281.8L638.8 313.5L638.9 260.9L639.0 324.0L639.1 265.8L639.2 323.8L639.3 294.1L639.4 293.4L639.5 283.7L639.6 298.8L639.7 264.0L639.8 293.9L639.9 249.9L640.0 286.3L640.1 348.1L640.2 341.1L640.3 258.7L640.4 317.2L640.5 281.0L640.7 270.3L640.8 266.7L640.9 270.8L641.0 270.7L641.1 332.7L641.2 294.3L641.3 251.4L641.4 296.2L641.5 279.7L641.6 372.0L641.7 259.3L641.8 291.2L641.9 273.4L642.0 254.9L642.1 246.8L642.2 313.3L642.3 231.9L642.4 256.1L642.5 269.5L642.6 258.2L642.7 274.4L642.8 250.4L642.9 293.3L643.0 276.0L643.1 280.5L643.2 344.0L643.3 249.0L643.4 267.7L643.5 247.8L643.6 257.1L643.7 269.4L643.8 289.6L643.9 249.1L644.0 295.4L644.1 286.0L644.2 266.9L644.3 304.6L644.4 263.5L644.5 349.1L644.7 333.4L644.8 262.6L644.9 328.0L645.0 289.0L645.1 269.1L645.2 274.8L645.3 292.0L645.4 329.0L645.5 309.4L645.6 326.9L645.7 260.2L645.8 223.3L645.9 242.7L646.0 258.5L646.1 238.8L646.2 268.3L646.3 240.6L646.4 253.2L646.5 253.1L646.6 308.9L646.7 262.9L646.8 239.9L646.8 284.8L646.9 316.8L647.0 280.7L647.1 220.1L647.2 295.9L647.3 247.3L647.4 292.4L647.5 292.6L647.6 278.1L647.7 236.3L647.8 256.9L647.9 241.0L648.0 287.3L648.1 235.3L648.2 261.4L648.3 283.6L648.4 293.0L648.5 260.3L648.6 237.0L648.7 301.6L648.8 252.6L648.9 264.4L649.0 217.5L649.1 252.9L649.2 318.1L649.3 282.1L649.4 280.9L649.5 269.2L649.6 241.9L649.7 248.0L649.8 322.8L649.9 239.7L650.0 276.4L650.1 257.2L650.2 282.2L650.3 242.5L650.4 239.2L650.5 267.7L650.6 250.2L650.6 288.1L650.7 390.9L650.8 242.0L650.9 249.7L651.0 244.7L651.1 258.2L651.2 248.7L651.3 272.2L651.4 257.4L651.5 266.1L651.6 298.2L651.7 298.3L651.8 244.9L651.9 250.5L652.0 269.4L652.1 263.1L652.2 230.2L652.3 282.6L652.4 288.4L652.5 260.7L652.6 240.8L652.6 279.1L652.7 235.0L652.8 234.8L652.9 269.6L653.0 260.9L653.1 349.6L653.2 249.8L653.3 245.2L653.4 254.2L653.5 300.2L653.6 278.9L653.7 219.6L653.8 241.3L653.9 321.4L654.0 269.2L654.1 259.7L654.1 236.3L654.2 248.1L654.3 226.8L654.4 296.0L654.5 314.3L654.6 267.0L654.7 288.4L654.8 242.0L654.9 251.5L655.0 272.6L655.1 277.6L655.2 271.6L655.3 237.9L655.4 314.4L655.4 249.7L655.5 277.8L655.6 298.1L655.7 241.6L655.8 262.2L655.9 272.6L656.0 356.0L656.1 279.7L656.2 260.5L656.3 278.7L656.4 265.6L656.5 239.7L656.5 247.7L656.6 273.1L656.7 277.0L656.8 261.0L656.9 250.4L657.0 234.0L657.1 283.5L657.2 246.5L657.3 280.3L657.4 317.4L657.5 292.0L657.5 270.7L657.6 233.7L657.7 279.4L657.8 342.5L657.9 253.1L658.0 294.2L658.1 267.1L658.2 287.0L658.3 281.5L658.4 252.9L658.4 263.5L658.5 238.4L658.6 240.5L658.7 252.0L658.8 280.2L658.9 258.3L659.0 298.1L659.1 275.8L659.2 309.5L659.3 287.9L659.3 261.0L659.4 239.3L659.5 264.0L659.6 265.5L659.7 239.8L659.8 243.0L659.9 343.1L660.0 292.5L660.1 256.3L660.1 229.4L660.2 250.8L660.3 267.8L660.4 329.9L660.5 228.4L660.6 280.5L660.7 324.6L660.8 327.9L660.8 270.8L660.9 287.2L661.0 277.2L661.1 227.1L661.2 251.2L661.3 316.8L661.4 238.9L661.5 243.8L661.5 272.4L661.6 303.8L661.7 256.8L661.8 271.2L661.9 339.0L662.0 293.7L662.1 225.4L662.2 276.8L662.2 239.7L662.3 322.7L662.4 280.5L662.5 306.0L662.6 264.0L662.7 234.5L662.8 247.1L662.9 237.3L662.9 283.8L663.0 300.2L663.1 261.7L663.2 293.6L663.3 247.6L663.4 260.8L663.5 259.8L663.5 263.9L663.6 229.9L663.7 244.5L663.8 239.5L663.9 274.5L664.0 263.2L664.1 368.5L664.1 273.6L664.2 246.8L664.3 239.4L664.4 277.3L664.5 291.5L664.6 241.8L664.7 265.6L664.7 323.6L664.8 305.5L664.9 240.2L665.0 264.1L665.1 299.2L665.2 271.4L665.3 227.8L665.3 255.6L665.4 251.6L665.5 255.0L665.6 337.0L665.7 290.7L665.8 381.3L665.8 287.9L665.9 329.9L666.0 259.5L666.1 314.7L666.2 267.3L666.3 290.0L666.4 246.7L666.4 299.8L666.5 258.4L666.6 316.4L666.7 253.1L666.8 258.3L666.9 265.1L666.9 301.1L667.0 281.4L667.1 250.4L667.2 264.4L667.3 295.2L667.4 301.8L667.4 282.5L667.5 254.4L667.6 309.9L667.7 257.7L667.8 281.1L667.9 289.0L667.9 277.4L668.0 233.8L668.1 247.4L668.2 286.3L668.3 274.7L668.4 294.5L668.4 278.8L668.5 277.4L668.6 300.3L668.7 311.8L668.8 251.9L668.8 292.7L668.9 327.2L669.0 240.7L669.1 260.9L669.2 267.1L669.3 268.3L669.3 297.9L669.4 223.2L669.5 235.6L669.6 286.3L669.7 251.3L669.8 262.1L669.8 242.8L669.9 323.7L670.0 264.0L670.1 235.9L670.2 305.6L670.2 270.1L670.3 250.0L670.4 238.3L670.5 230.2L670.6 297.7L670.6 240.9L670.7 247.9L670.8 267.8L670.9 235.6L671.0 280.3L671.1 274.1L671.1 274.3L671.2 256.0L671.3 251.8L671.4 285.0L671.5 339.5L671.5 270.5L671.6 307.2L671.7 243.7L671.8 284.1L671.9 248.8L671.9 251.4L672.0 230.4L672.1 314.5L672.2 243.2L672.3 248.4L672.3 255.4L672.4 260.2L672.5 289.9L672.6 237.2L672.7 236.3L672.7 247.9L672.8 299.8L672.9 291.6L673.0 303.5L673.1 264.8L673.1 222.1L673.2 271.2L673.3 251.5L673.4 241.8L673.5 252.7L673.5 280.4L673.6 269.9L673.7 281.7L673.8 272.4L673.8 269.9L673.9 267.5L674.0 285.2L674.1 276.9L674.2 275.7L674.2 255.2L674.3 247.6L674.4 285.5L674.5 273.1L674.6 283.8L674.6 253.7L674.7 227.2L674.8 285.9L674.9 244.6L674.9 282.9L675.0 234.1L675.1 238.7L675.2 240.6L675.3 242.6L675.3 289.5L675.4 229.1L675.5 253.0L675.6 267.3L675.6 266.4L675.7 276.4L675.8 266.5L675.9 242.1L676.0 237.0L676.0 285.4L676.1 251.9L676.2 243.1L676.3 252.0L676.3 241.2L676.4 284.1L676.5 247.4L676.6 269.5L676.7 259.1L676.7 269.1L676.8 310.9L676.9 263.5L677.0 242.1L677.0 277.2L677.1 253.1L677.2 250.5L677.3 290.4L677.3 248.7L677.4 252.3L677.5 260.4L677.6 285.1L677.7 284.9L677.7 257.9L677.8 223.7L677.9 221.3L678.0 240.4L678.0 372.7L678.1 260.7L678.2 264.1L678.3 278.0L678.3 263.7L678.4 244.1L678.5 279.0L678.6 245.3L678.6 255.0L678.7 229.0L678.8 273.1L678.9 288.4L678.9 254.6L679.0 234.1L679.1 255.4L679.2 244.3L679.2 247.4L679.3 275.0L679.4 272.0L679.5 270.9L679.6 259.6L679.6 270.3L679.7 261.9L679.8 257.2L679.9 237.6L679.9 297.6L680.0 256.8L680.1 293.1L680.2 300.5L680.2 258.4L680.3 274.5L680.4 265.4L680.4 288.2L680.5 347.0L680.6 219.7L680.7 296.9L680.7 248.8L680.8 247.3L680.9 278.4L681.0 249.1L681.0 264.0L681.1 242.0L681.2 226.4L681.3 263.2L681.3 244.0L681.4 305.6L681.5 230.2L681.6 240.8L681.6 312.3L681.7 250.2L681.8 272.0L681.9 231.9L681.9 277.8L682.0 265.4L682.1 290.3L682.2 278.2L682.2 275.5L682.3 263.4L682.4 269.1L682.4 285.0L682.5 257.0L682.6 276.0L682.7 242.4L682.7 297.2L682.8 271.9L682.9 244.0L683.0 249.0L683.0 255.3L683.1 237.4L683.2 264.1L683.3 266.3L683.3 268.2L683.4 259.4L683.5 247.3L683.5 282.4L683.6 261.5L683.7 223.8L683.8 283.4L683.8 233.3L683.9 272.3L684.0 267.7L684.1 308.2L684.1 306.1L684.2 256.8L684.3 270.0L684.3 242.5L684.4 267.1L684.5 253.8L684.6 260.4L684.6 258.3L684.7 307.1L684.8 269.9L684.8 294.3L684.9 261.8L685.0 256.3L685.1 322.0L685.1 255.1L685.2 234.8L685.3 249.4L685.4 282.8L685.4 261.8L685.5 286.9L685.6 278.4L685.6 305.2L685.7 245.2L685.8 301.4L685.9 247.6L685.9 261.8L686.0 314.9L686.1 256.1L686.1 270.7L686.2 257.7L686.3 241.9L686.4 266.6L686.4 236.9L686.5 235.2L686.6 262.6L686.6 256.1L686.7 292.5L686.8 264.7L686.8 256.9L686.9 252.0L687.0 303.2L687.1 288.5L687.1 270.4L687.2 243.7L687.3 268.8L687.3 237.1L687.4 243.1L687.5 259.2L687.6 237.6L687.6 237.6L687.7 268.9L687.8 289.8L687.8 251.1L687.9 294.7L688.0 245.0L688.0 262.1L688.1 258.5L688.2 287.3L688.3 269.8L688.3 270.4L688.4 239.4L688.5 247.7L688.5 252.7L688.6 280.1L688.7 298.5L688.7 310.5L688.8 295.8L688.9 292.7L689.0 294.6L689.0 276.3L689.1 236.6L689.2 242.6L689.2 237.9L689.3 280.9L689.4 279.8L689.4 246.1L689.5 253.8L689.6 245.3L689.6 296.1L689.7 287.8L689.8 279.9L689.9 273.6L689.9 266.7L690.0 263.8L690.1 244.8L690.1 267.4L690.2 271.6L690.3 276.3L690.3 240.4L690.4 310.4L690.5 280.2L690.5 278.0L690.6 252.7L690.7 267.0L690.7 275.4L690.8 249.6L690.9 278.0L691.0 272.8L691.0 288.3L691.1 269.8L691.2 279.9L691.2 320.8L691.3 277.4L691.4 224.1L691.4 238.9L691.5 261.2L691.6 263.9L691.6 274.6L691.7 262.7L691.8 263.0L691.8 239.0L691.9 294.7L692.0 267.8L692.0 316.2L692.1 308.6L692.2 327.2L692.2 277.5L692.3 238.2L692.4 262.3L692.4 268.1L692.5 252.7L692.6 235.2L692.7 284.9L692.7 289.0L692.8 249.1L692.9 228.7L692.9 283.8L693.0 279.9L693.1 246.0L693.1 249.0L693.2 252.4L693.3 277.9L693.3 300.1L693.4 294.8L693.5 249.3L693.5 258.2L693.6 270.1L693.7 276.3L693.7 252.9L693.8 259.6L693.9 274.7L693.9 277.4L694.0 286.4L694.1 271.1L694.1 233.4L694.2 252.6L694.3 271.4L694.3 257.1L694.4 345.9L694.5 254.1L694.5 301.4L694.6 251.2L694.7 288.8L694.7 282.4L694.8 368.8L694.9 279.9L694.9 314.7L695.0 303.8L695.1 260.7L695.1 271.7L695.2 243.8L695.3 251.7L695.3 304.5L695.4 251.4L695.5 258.9L695.5 250.6L695.6 294.3L695.6 248.1L695.7 275.3L695.8 248.9L695.8 298.5L695.9 247.8L696.0 275.9L696.0 327.1L696.1 281.0L696.2 273.3L696.2 286.5L696.3 264.4L696.4 244.7L696.4 284.7L696.5 303.8L696.6 254.7L696.6 267.0L696.7 297.2L696.8 255.8L696.8 259.0L696.9 259.7L697.0 248.0L697.0 309.5L697.1 278.9L697.2 280.7L697.2 289.2L697.3 302.0L697.3 270.6L697.4 333.1L697.5 226.9L697.5 254.4L697.6 250.5L697.7 275.5L697.7 287.9L697.8 298.0L697.9 347.6L697.9 316.0L698.0 267.8L698.1 269.6L698.1 271.2L698.2 222.3L698.2 267.8L698.3 284.4L698.4 240.2L698.4 257.4L698.5 248.2L698.6 244.5L698.6 260.0L698.7 266.5L698.8 246.4L698.8 279.9L698.9 280.5L699.0 376.2L699.0 284.9L699.1 233.8L699.1 247.5L699.2 314.2L699.3 249.3L699.3 253.0L699.4 267.8L699.5 293.9L699.5 268.3L699.6 234.5L699.7 262.3L699.7 328.8L699.8 254.3L699.8 283.1L699.9 258.7L700.0 239.8L700.0 261.7L700.1 269.3L700.2 302.7L700.2 251.5L700.3 305.3L700.4 248.1L700.4 260.0L700.5 266.3L700.5 329.4L700.6 263.2L700.7 260.9L700.7 237.6L700.8 255.2L700.9 279.7L700.9 286.5L701.0 266.4L701.0 319.4L701.1 237.4L701.2 279.8L701.2 263.7L701.3 271.4L701.4 260.7L701.4 248.6L701.5 249.8L701.5 245.2L701.6 275.2L701.7 349.6L701.7 248.6L701.8 305.9L701.9 282.4L701.9 258.6L702.0 250.0L702.0 252.7L702.1 338.4L702.2 276.6L702.2 361.3L702.3 257.4L702.4 249.0L702.4 274.5L702.5 245.0L702.5 269.8L702.6 272.7L702.7 327.3L702.7 286.1L702.8 230.3L702.9 239.1L702.9 229.9L703.0 275.0L703.0 276.8L703.1 275.9L703.2 308.2L703.2 254.9L703.3 274.1L703.3 305.6L703.4 286.4L703.5 264.6L703.5 243.1L703.6 245.3L703.7 333.6L703.7 249.9L703.8 239.6L703.8 295.4L703.9 276.3L704.0 269.7L704.0 283.2L704.1 257.4L704.1 265.5L704.2 259.8L704.3 252.1L704.3 286.0L704.4 265.9L704.5 266.6L704.5 278.1L704.6 283.4L704.6 295.0L704.7 286.8L704.8 260.9L704.8 245.5L704.9 280.3L704.9 255.3L705.0 267.5L705.1 308.7L705.1 243.0L705.2 265.7L705.2 256.4L705.3 273.3L705.4 275.3L705.4 259.2L705.5 325.5L705.5 278.1L705.6 250.7L705.7 297.1L705.7 285.6L705.8 267.2L705.9 294.9L705.9 294.0L706.0 264.7L706.0 317.0L706.1 284.4L706.2 243.8L706.2 255.2L706.3 236.7L706.3 283.9L706.4 249.9L706.5 272.3L706.5 274.2L706.6 244.1L706.6 371.5L706.7 326.8L706.8 372.9L706.8 265.9L706.9 262.1L706.9 252.3L707.0 401.2L707.1 296.7L707.1 251.9L707.2 230.7L707.2 303.0L707.3 261.3L707.4 449.7" stroke="#ee3a3a" stroke-dasharray="15.5 18.6"/>
</g>
<path d="M158.35 7.63V449.70H707.35" fill="none" stroke="#000" stroke-width="3.9" stroke-linecap="square" stroke-linejoin="miter"/>
<path d="M158.35 436.43h-7.1M158.35 417.55h-7.1M158.35 404.16h-7.1M158.35 393.77h-7.1M158.35 385.28h-7.1M158.35 378.11h-7.1M158.35 371.89h-7.1M158.35 366.41h-7.1M158.35 361.50h-13.8M158.35 329.23h-7.1M158.35 310.35h-7.1M158.35 296.96h-7.1M158.35 286.57h-7.1M158.35 278.08h-7.1M158.35 270.91h-7.1M158.35 264.69h-7.1M158.35 259.21h-7.1M158.35 254.30h-13.8M158.35 222.03h-7.1M158.35 203.15h-7.1M158.35 189.76h-7.1M158.35 179.37h-7.1M158.35 170.88h-7.1M158.35 163.71h-7.1M158.35 157.49h-7.1M158.35 152.01h-7.1M158.35 147.10h-13.8M158.35 114.83h-7.1M158.35 95.95h-7.1M158.35 82.56h-7.1M158.35 72.17h-7.1M158.35 63.68h-7.1M158.35 56.51h-7.1M158.35 50.29h-7.1M158.35 44.81h-7.1M158.35 39.90h-13.8M158.35 7.63h-7.1M158.35 449.70v13.8M240.98 449.70v7.1M289.32 449.70v7.1M323.62 449.70v7.1M350.22 449.70v7.1M371.95 449.70v7.1M390.33 449.70v7.1M406.25 449.70v7.1M420.29 449.70v7.1M432.85 449.70v13.8M515.48 449.70v7.1M563.82 449.70v7.1M598.12 449.70v7.1M624.72 449.70v7.1M646.45 449.70v7.1M664.83 449.70v7.1M680.75 449.70v7.1M694.79 449.70v7.1M707.35 449.70v13.8" fill="none" stroke="#000" stroke-width="3.9"/>
<text x="133.8" y="52.1" font-size="36" text-anchor="end" >10.00</text>
<text x="133.8" y="159.3" font-size="36" text-anchor="end" >1.00</text>
<text x="133.8" y="266.5" font-size="36" text-anchor="end" >0.10</text>
<text x="133.8" y="373.7" font-size="36" text-anchor="end" >0.01</text>
<text x="158.3" y="500.5" font-size="36" text-anchor="middle" >1</text>
<text x="432.9" y="500.5" font-size="36" text-anchor="middle" >10</text>
<text x="707.4" y="500.5" font-size="36" text-anchor="middle" >100</text>
<text x="432.9" y="542.2" font-size="36.5" text-anchor="middle" >Frequency (Hz)</text>
<clipPath id="clipb"><rect x="923.3" y="-22.270415535178813" width="551.0" height="472.0704155351788"/></clipPath>
<g clip-path="url(#clipb)" fill="none" stroke-width="4.0" stroke-linejoin="round" stroke-linecap="round">
<path d="M923.3 178.0L929.1 199.5L934.7 217.0L940.0 235.4L945.0 232.5L949.9 201.5L954.6 208.3L959.1 234.5L963.4 179.2L967.6 178.2L971.6 168.0L975.5 163.0L979.3 184.0L983.0 157.8L986.6 162.0L990.0 170.4L993.4 202.7L996.6 134.6L999.8 193.0L1002.9 207.5L1005.9 175.0L1008.9 140.6L1011.7 165.0L1014.6 185.0L1017.3 234.3L1020.0 188.4L1022.6 170.0L1025.2 160.0L1027.7 137.0L1030.1 155.0L1032.5 160.0L1034.9 162.0L1037.2 140.0L1039.5 126.3L1041.7 115.0L1043.9 100.7L1046.0 104.0L1048.2 110.0L1050.2 120.0L1052.3 130.0L1054.3 192.5L1056.2 215.0L1058.2 239.4L1060.1 180.0L1062.0 144.3L1063.8 266.0L1065.6 160.0L1067.4 132.2L1069.2 227.2L1070.9 178.8L1072.6 185.1L1074.3 158.6L1076.0 204.2L1077.6 170.4L1079.3 134.5L1080.9 110.5L1082.5 132.4L1084.0 177.5L1085.5 194.1L1087.1 161.8L1088.6 160.3L1090.0 207.1L1091.5 207.5L1093.0 189.0L1094.4 239.6L1095.8 161.7L1097.2 221.2L1098.6 158.3L1099.9 259.4L1101.3 192.5L1102.6 190.8L1103.9 263.2L1105.2 209.2L1106.5 209.4L1107.8 144.8L1109.1 172.1L1110.3 148.8L1111.5 159.1L1112.8 160.5L1114.0 218.9L1115.2 152.9L1116.4 166.3L1117.5 179.9L1118.7 216.7L1119.8 255.0L1121.0 197.9L1122.1 160.3L1123.2 183.7L1124.3 197.6L1125.4 144.1L1126.5 194.9L1127.6 171.2L1128.7 187.1L1129.7 193.9L1130.8 193.8L1131.8 182.0L1132.9 184.3L1133.9 159.3L1134.9 179.9L1135.9 153.1L1136.9 178.9L1137.9 182.9L1138.9 204.8L1139.8 172.9L1140.8 137.5L1141.8 182.2L1142.7 159.9L1143.7 200.8L1144.6 172.6L1145.5 172.0L1146.4 228.8L1147.4 172.9L1148.3 169.9L1149.2 169.9L1150.1 178.8L1150.9 150.1L1151.8 183.5L1152.7 232.1L1153.6 184.6L1154.4 200.8L1155.3 241.8L1156.1 213.9L1157.0 200.7L1157.8 209.3L1158.6 210.3L1159.5 163.6L1160.3 178.8L1161.1 169.5L1161.9 164.1L1162.7 123.1L1163.5 104.5L1164.3 126.1L1165.1 185.9L1165.9 151.6L1166.6 176.1L1167.4 172.6L1168.2 196.5L1168.9 150.0L1169.7 157.4L1170.5 180.8L1171.2 173.6L1171.9 193.1L1172.7 170.0L1173.4 137.7L1174.1 113.8L1174.9 127.4L1175.6 159.0L1176.3 169.2L1177.0 173.7L1177.7 166.5L1178.4 187.7L1179.1 241.6L1179.8 160.3L1180.5 181.1L1181.2 200.0L1181.9 126.8L1182.6 292.2L1183.2 164.5L1183.9 191.7L1184.6 229.6L1185.2 156.3L1185.9 197.2L1186.6 134.3L1187.2 215.3L1187.9 249.6L1188.5 196.8L1189.1 149.2L1189.8 162.8L1190.4 190.8L1191.1 231.5L1191.7 180.4L1192.3 211.9L1192.9 193.1L1193.6 184.5L1194.2 217.5L1194.8 188.9L1195.4 193.8L1196.0 226.4L1196.6 203.6L1197.2 230.3L1197.8 206.6L1198.4 181.6L1199.0 201.7L1199.6 245.9L1200.2 210.7L1200.7 279.3L1201.3 158.4L1201.9 195.3L1202.5 230.5L1203.0 221.7L1203.6 211.1L1204.2 219.8L1204.7 248.3L1205.3 222.0L1205.9 210.6L1206.4 211.8L1207.0 220.7L1207.5 195.2L1208.1 221.3L1208.6 216.6L1209.2 234.5L1209.7 206.4L1210.2 166.1L1210.8 210.8L1211.3 246.5L1211.8 219.5L1212.4 219.9L1212.9 139.1L1213.4 198.5L1213.9 227.7L1214.5 175.4L1215.0 249.3L1215.5 251.6L1216.0 283.6L1216.5 182.0L1217.0 180.0L1217.5 256.5L1218.0 202.4L1218.5 193.2L1219.0 201.3L1219.5 223.1L1220.0 184.8L1220.5 209.1L1221.0 223.5L1221.5 229.8L1222.0 162.2L1222.5 241.7L1223.0 323.6L1223.4 205.9L1223.9 215.6L1224.4 194.9L1224.9 256.9L1225.4 189.9L1225.8 214.4L1226.3 186.3L1226.8 220.8L1227.2 261.6L1227.7 256.8L1228.2 183.5L1228.6 222.0L1229.1 259.7L1229.5 189.6L1230.0 205.6L1230.4 231.1L1230.9 234.1L1231.3 208.6L1231.8 223.9L1232.2 226.9L1232.7 201.7L1233.1 225.5L1233.6 218.9L1234.0 230.3L1234.5 213.8L1234.9 200.8L1235.3 208.1L1235.8 270.9L1236.2 189.5L1236.6 186.0L1237.1 163.5L1237.5 253.0L1237.9 324.3L1238.3 193.9L1238.8 196.2L1239.2 190.9L1239.6 222.2L1240.0 212.8L1240.4 248.1L1240.9 192.1L1241.3 259.6L1241.7 211.5L1242.1 246.4L1242.5 156.4L1242.9 269.1L1243.3 214.5L1243.7 223.9L1244.1 219.8L1244.5 191.0L1244.9 215.1L1245.3 275.5L1245.7 269.4L1246.1 168.3L1246.5 229.6L1246.9 202.2L1247.3 186.3L1247.7 186.7L1248.1 245.8L1248.5 292.6L1248.9 217.2L1249.3 206.7L1249.7 216.4L1250.0 251.6L1250.4 239.5L1250.8 178.0L1251.2 193.8L1251.6 259.5L1252.0 215.4L1252.3 229.8L1252.7 243.9L1253.1 227.8L1253.5 238.3L1253.8 219.9L1254.2 195.5L1254.6 192.0L1254.9 337.3L1255.3 164.6L1255.7 233.7L1256.0 263.1L1256.4 195.9L1256.8 176.0L1257.1 385.4L1257.5 203.7L1257.9 213.7L1258.2 211.1L1258.6 284.3L1258.9 185.9L1259.3 285.4L1259.6 175.8L1260.0 282.7L1260.4 204.3L1260.7 238.4L1261.1 163.3L1261.4 213.0L1261.8 233.1L1262.1 228.2L1262.5 249.5L1262.8 189.9L1263.1 209.7L1263.5 227.0L1263.8 172.4L1264.2 254.7L1264.5 154.2L1264.9 198.1L1265.2 196.2L1265.5 230.8L1265.9 176.9L1266.2 198.1L1266.5 202.8L1266.9 199.3L1267.2 239.7L1267.5 225.6L1267.9 271.1L1268.2 236.4L1268.5 202.3L1268.9 204.6L1269.2 187.6L1269.5 198.4L1269.8 227.0L1270.2 240.1L1270.5 202.7L1270.8 206.4L1271.1 250.1L1271.5 295.6L1271.8 183.3L1272.1 181.5L1272.4 244.0L1272.7 218.2L1273.1 212.7L1273.4 230.2L1273.7 244.3L1274.0 181.5L1274.3 298.3L1274.6 295.7L1274.9 212.3L1275.3 216.4L1275.6 201.5L1275.9 226.2L1276.2 196.1L1276.5 352.0L1276.8 272.4L1277.1 219.6L1277.4 128.0L1277.7 194.0L1278.0 266.8L1278.3 188.6L1278.6 197.0L1278.9 240.0L1279.2 204.2L1279.5 188.3L1279.8 184.5L1280.1 249.8L1280.4 171.5L1280.7 180.1L1281.0 289.2L1281.3 248.3L1281.6 209.7L1281.9 195.7L1282.2 263.5L1282.5 249.2L1282.8 234.8L1283.1 222.3L1283.4 221.9L1283.7 315.0L1284.0 221.7L1284.2 184.7L1284.5 183.4L1284.8 228.1L1285.1 242.2L1285.4 231.1L1285.7 243.6L1286.0 204.4L1286.2 210.3L1286.5 202.2L1286.8 210.5L1287.1 202.4L1287.4 257.5L1287.7 192.2L1287.9 197.7L1288.2 240.4L1288.5 212.6L1288.8 208.3L1289.1 311.7L1289.3 271.0L1289.6 198.8L1289.9 193.2L1290.2 220.1L1290.4 226.9L1290.7 209.0L1291.0 228.5L1291.3 236.9L1291.5 254.6L1291.8 201.0L1292.1 233.6L1292.3 181.8L1292.6 182.9L1292.9 149.1L1293.1 189.6L1293.4 249.8L1293.7 211.1L1293.9 220.5L1294.2 217.3L1294.5 198.4L1294.7 179.8L1295.0 196.3L1295.3 263.2L1295.5 208.9L1295.8 215.2L1296.1 203.3L1296.3 244.7L1296.6 240.1L1296.8 212.5L1297.1 222.0L1297.4 213.5L1297.6 227.7L1297.9 229.5L1298.1 228.1L1298.4 274.4L1298.6 294.1L1298.9 181.4L1299.1 212.5L1299.4 179.2L1299.7 212.2L1299.9 253.8L1300.2 238.1L1300.4 227.5L1300.7 186.9L1300.9 255.2L1301.2 231.6L1301.4 206.9L1301.7 251.3L1301.9 179.3L1302.2 197.6L1302.4 252.0L1302.7 139.1L1302.9 192.5L1303.2 222.4L1303.4 241.8L1303.6 229.8L1303.9 179.0L1304.1 205.1L1304.4 241.5L1304.6 210.8L1304.9 198.5L1305.1 166.5L1305.4 204.3L1305.6 285.5L1305.8 181.8L1306.1 227.0L1306.3 277.9L1306.6 241.2L1306.8 205.9L1307.0 235.8L1307.3 191.6L1307.5 222.6L1307.7 204.5L1308.0 268.6L1308.2 266.4L1308.5 248.8L1308.7 213.2L1308.9 253.8L1309.2 320.8L1309.4 212.8L1309.6 224.9L1309.9 196.1L1310.1 190.5L1310.3 146.7L1310.6 184.0L1310.8 231.5L1311.0 191.1L1311.3 238.1L1311.5 247.8L1311.7 290.5L1311.9 214.4L1312.2 214.4L1312.4 215.2L1312.6 242.1L1312.9 252.7L1313.1 370.8L1313.3 209.6L1313.5 183.3L1313.8 202.6L1314.0 245.5L1314.2 288.8L1314.4 321.9L1314.7 185.4L1314.9 215.5L1315.1 268.3L1315.3 223.5L1315.5 211.6L1315.8 252.1L1316.0 266.6L1316.2 194.8L1316.4 224.6L1316.7 194.9L1316.9 198.0L1317.1 225.7L1317.3 204.2L1317.5 255.6L1317.7 212.9L1318.0 198.2L1318.2 234.5L1318.4 205.0L1318.6 185.3L1318.8 354.2L1319.0 198.5L1319.3 193.4L1319.5 221.8L1319.7 166.6L1319.9 253.3L1320.1 186.7L1320.3 180.6L1320.5 306.9L1320.8 224.8L1321.0 285.8L1321.2 275.1L1321.4 245.9L1321.6 178.2L1321.8 236.1L1322.0 185.3L1322.2 171.2L1322.4 262.8L1322.7 208.7L1322.9 247.7L1323.1 226.0L1323.3 252.8L1323.5 235.8L1323.7 313.4L1323.9 221.6L1324.1 264.7L1324.3 258.8L1324.5 230.9L1324.7 224.2L1324.9 218.2L1325.1 375.6L1325.3 199.8L1325.5 218.9L1325.8 236.7L1326.0 208.9L1326.2 201.7L1326.4 191.0L1326.6 256.1L1326.8 269.8L1327.0 261.1L1327.2 243.0L1327.4 232.7L1327.6 184.4L1327.8 271.1L1328.0 221.7L1328.2 240.9L1328.4 192.8L1328.6 247.8L1328.8 195.5L1329.0 301.7L1329.2 243.6L1329.4 226.4L1329.6 237.5L1329.8 202.9L1330.0 223.8L1330.2 188.7L1330.3 207.0L1330.5 207.4L1330.7 197.3L1330.9 217.4L1331.1 185.4L1331.3 177.6L1331.5 211.1L1331.7 346.4L1331.9 245.7L1332.1 218.4L1332.3 200.5L1332.5 193.0L1332.7 217.5L1332.9 237.7L1333.1 260.0L1333.3 221.1L1333.4 265.0L1333.6 257.6L1333.8 264.5L1334.0 211.2L1334.2 221.5L1334.4 197.0L1334.6 231.3L1334.8 181.8L1335.0 221.8L1335.2 197.4L1335.3 222.4L1335.5 199.0L1335.7 166.6L1335.9 218.1L1336.1 218.6L1336.3 227.6L1336.5 193.6L1336.6 224.1L1336.8 208.8L1337.0 188.4L1337.2 217.3L1337.4 239.3L1337.6 209.1L1337.8 244.4L1337.9 254.3L1338.1 173.6L1338.3 202.2L1338.5 207.7L1338.7 232.2L1338.9 223.3L1339.0 230.1L1339.2 187.4L1339.4 208.0L1339.6 197.3L1339.8 340.9L1340.0 241.2L1340.1 209.4L1340.3 270.7L1340.5 194.9L1340.7 175.3L1340.9 214.7L1341.0 239.7L1341.2 295.1L1341.4 225.2L1341.6 195.0L1341.7 232.8L1341.9 175.0L1342.1 259.1L1342.3 210.9L1342.5 191.3L1342.6 196.4L1342.8 261.0L1343.0 279.2L1343.2 199.7L1343.3 359.6L1343.5 267.3L1343.7 211.5L1343.9 184.0L1344.0 196.6L1344.2 219.7L1344.4 201.6L1344.6 199.5L1344.7 207.1L1344.9 271.3L1345.1 181.0L1345.3 284.8L1345.4 220.7L1345.6 247.8L1345.8 225.7L1345.9 295.0L1346.1 199.6L1346.3 205.8L1346.5 225.4L1346.6 225.4L1346.8 211.7L1347.0 209.8L1347.1 189.9L1347.3 225.0L1347.5 261.6L1347.7 268.9L1347.8 218.2L1348.0 323.0L1348.2 309.4L1348.3 210.9L1348.5 193.2L1348.7 262.6L1348.8 292.8L1349.0 238.1L1349.2 307.4L1349.3 223.1L1349.5 226.9L1349.7 188.0L1349.8 214.9L1350.0 285.9L1350.2 191.8L1350.3 195.6L1350.5 180.5L1350.7 224.6L1350.8 233.8L1351.0 227.7L1351.2 272.0L1351.3 241.5L1351.5 237.0L1351.7 233.8L1351.8 225.5L1352.0 188.1L1352.1 191.2L1352.3 237.8L1352.5 202.5L1352.6 218.5L1352.8 238.1L1353.0 233.6L1353.1 205.3L1353.3 207.1L1353.4 196.0L1353.6 239.7L1353.8 246.0L1353.9 195.2L1354.1 207.4L1354.3 196.9L1354.4 234.8L1354.6 209.4L1354.7 270.0L1354.9 207.1L1355.1 237.9L1355.2 237.1L1355.4 293.7L1355.5 246.4L1355.7 289.6L1355.8 232.4L1356.0 166.6L1356.2 211.8L1356.3 248.6L1356.5 213.1L1356.6 239.4L1356.8 193.8L1357.0 353.1L1357.1 216.4L1357.3 295.9L1357.4 187.9L1357.6 214.5L1357.7 252.2L1357.9 216.9L1358.0 222.4L1358.2 212.6L1358.4 191.5L1358.5 211.5L1358.7 271.8L1358.8 252.3L1359.0 210.7L1359.1 240.6L1359.3 256.2L1359.4 256.6L1359.6 185.4L1359.7 198.6L1359.9 302.0L1360.0 208.4L1360.2 253.9L1360.4 236.8L1360.5 270.8L1360.7 189.1L1360.8 290.3L1361.0 271.8L1361.1 205.2L1361.3 245.3L1361.4 169.6L1361.6 269.3L1361.7 218.8L1361.9 248.9L1362.0 256.5L1362.2 179.3L1362.3 273.3L1362.5 192.6L1362.6 197.9L1362.8 222.1L1362.9 206.5L1363.1 238.7L1363.2 201.2L1363.4 236.3L1363.5 182.8L1363.7 160.6L1363.8 191.7L1364.0 209.1L1364.1 232.2L1364.3 239.1L1364.4 286.0L1364.5 232.9L1364.7 220.8L1364.8 161.2L1365.0 247.2L1365.1 237.8L1365.3 188.3L1365.4 210.2L1365.6 199.2L1365.7 225.3L1365.9 216.5L1366.0 198.4L1366.2 228.2L1366.3 240.0L1366.4 213.5L1366.6 263.3L1366.7 192.4L1366.9 186.2L1367.0 245.2L1367.2 231.1L1367.3 250.6L1367.5 290.9L1367.6 226.7L1367.7 260.3L1367.9 238.9L1368.0 227.0L1368.2 226.1L1368.3 350.3L1368.5 213.9L1368.6 219.9L1368.7 223.8L1368.9 238.2L1369.0 186.9L1369.2 239.4L1369.3 182.6L1369.4 216.5L1369.6 221.3L1369.7 231.4L1369.9 231.9L1370.0 234.8L1370.2 179.0L1370.3 212.7L1370.4 249.0L1370.6 219.5L1370.7 262.0L1370.9 229.6L1371.0 231.8L1371.1 242.0L1371.3 329.3L1371.4 167.8L1371.5 194.6L1371.7 191.0L1371.8 203.0L1372.0 177.9L1372.1 338.6L1372.2 197.9L1372.4 224.0L1372.5 273.8L1372.7 224.0L1372.8 206.4L1372.9 210.0L1373.1 219.9L1373.2 211.2L1373.3 223.7L1373.5 219.3L1373.6 190.1L1373.7 271.9L1373.9 312.7L1374.0 231.3L1374.2 191.9L1374.3 281.5L1374.4 215.5L1374.6 216.9L1374.7 207.2L1374.8 288.8L1375.0 243.8L1375.1 210.8L1375.2 216.0L1375.4 220.1L1375.5 216.9L1375.6 241.8L1375.8 298.7L1375.9 183.9L1376.0 266.3L1376.2 266.6L1376.3 204.3L1376.4 322.7L1376.6 272.5L1376.7 247.4L1376.8 193.5L1377.0 222.1L1377.1 251.8L1377.2 230.7L1377.4 187.1L1377.5 252.2L1377.6 219.1L1377.8 204.6L1377.9 214.4L1378.0 193.7L1378.2 215.4L1378.3 177.5L1378.4 363.0L1378.6 197.5L1378.7 213.8L1378.8 211.0L1378.9 222.5L1379.1 213.8L1379.2 271.3L1379.3 202.4L1379.5 359.7L1379.6 217.5L1379.7 319.7L1379.9 213.5L1380.0 192.3L1380.1 258.8L1380.2 200.3L1380.4 246.1L1380.5 267.2L1380.6 205.2L1380.8 212.3L1380.9 229.4L1381.0 263.8L1381.1 260.9L1381.3 223.6L1381.4 229.3L1381.5 252.2L1381.7 200.7L1381.8 278.7L1381.9 261.2L1382.0 206.7L1382.2 233.6L1382.3 242.8L1382.4 235.0L1382.5 193.1L1382.7 191.9L1382.8 206.2L1382.9 196.9L1383.0 222.8L1383.2 242.4L1383.3 228.9L1383.4 267.3L1383.6 223.0L1383.7 220.4L1383.8 199.5L1383.9 282.4L1384.1 235.6L1384.2 300.7L1384.3 273.7L1384.4 196.0L1384.6 230.0L1384.7 222.4L1384.8 242.2L1384.9 191.4L1385.0 233.7L1385.2 230.1L1385.3 215.6L1385.4 200.2L1385.5 235.3L1385.7 192.5L1385.8 213.6L1385.9 189.3L1386.0 211.9L1386.2 208.6L1386.3 229.9L1386.4 234.4L1386.5 236.2L1386.6 217.5L1386.8 239.9L1386.9 232.2L1387.0 224.2L1387.1 241.8L1387.3 282.9L1387.4 220.6L1387.5 275.9L1387.6 227.9L1387.7 214.1L1387.9 218.3L1388.0 228.5L1388.1 208.9L1388.2 258.9L1388.3 211.6L1388.5 224.4L1388.6 245.3L1388.7 240.8L1388.8 226.1L1388.9 228.6L1389.1 231.7L1389.2 219.0L1389.3 210.0L1389.4 248.1L1389.5 194.4L1389.7 191.7L1389.8 201.9L1389.9 197.3L1390.0 271.4L1390.1 211.7L1390.3 241.8L1390.4 212.0L1390.5 193.9L1390.6 238.7L1390.7 239.3L1390.9 186.6L1391.0 224.3L1391.1 209.9L1391.2 188.8L1391.3 196.8L1391.4 219.5L1391.6 187.8L1391.7 209.7L1391.8 204.9L1391.9 204.3L1392.0 185.7L1392.1 225.1L1392.3 203.1L1392.4 211.8L1392.5 207.0L1392.6 189.8L1392.7 213.6L1392.8 192.5L1393.0 237.1L1393.1 194.3L1393.2 179.9L1393.3 193.4L1393.4 189.2L1393.5 150.8L1393.7 130.5L1393.8 147.3L1393.9 160.9L1394.0 171.6L1394.1 180.3L1394.2 206.2L1394.3 195.6L1394.5 185.3L1394.6 185.2L1394.7 216.0L1394.8 174.8L1394.9 209.9L1395.0 183.1L1395.1 201.7L1395.3 213.0L1395.4 186.0L1395.5 173.5L1395.6 176.1L1395.7 176.5L1395.8 166.7L1395.9 185.9L1396.1 198.4L1396.2 183.8L1396.3 241.8L1396.4 235.3L1396.5 208.9L1396.6 210.5L1396.7 180.0L1396.8 207.2L1397.0 162.4L1397.1 156.9L1397.2 164.1L1397.3 116.0L1397.4 104.2L1397.5 88.9L1397.6 118.9L1397.7 120.4L1397.8 216.8L1398.0 193.4L1398.1 176.4L1398.2 165.8L1398.3 190.1L1398.4 212.0L1398.5 215.0L1398.6 196.8L1398.7 172.6L1398.8 164.7L1399.0 161.8L1399.1 177.7L1399.2 191.7L1399.3 170.6L1399.4 196.9L1399.5 180.1L1399.6 210.3L1399.7 191.5L1399.8 208.1L1399.9 177.0L1400.1 193.8L1400.2 223.2L1400.3 156.0L1400.4 233.7L1400.5 195.1L1400.6 296.9L1400.7 178.5L1400.8 189.3L1400.9 201.3L1401.0 195.3L1401.1 197.0L1401.2 219.6L1401.4 171.4L1401.5 203.9L1401.6 186.9L1401.7 228.5L1401.8 238.9L1401.9 186.8L1402.0 182.3L1402.1 225.9L1402.2 236.4L1402.3 208.8L1402.4 226.7L1402.5 238.8L1402.6 189.0L1402.8 182.4L1402.9 162.8L1403.0 186.5L1403.1 174.8L1403.2 204.6L1403.3 196.4L1403.4 234.9L1403.5 201.8L1403.6 176.6L1403.7 183.2L1403.8 189.9L1403.9 191.9L1404.0 236.4L1404.1 197.8L1404.2 180.7L1404.3 178.0L1404.4 194.2L1404.6 165.6L1404.7 187.6L1404.8 225.2L1404.9 230.0L1405.0 193.3L1405.1 192.4L1405.2 181.0L1405.3 195.0L1405.4 187.6L1405.5 198.9L1405.6 241.1L1405.7 207.2L1405.8 169.7L1405.9 172.0L1406.0 201.9L1406.1 253.0L1406.2 195.7L1406.3 216.2L1406.4 178.2L1406.5 176.2L1406.6 260.6L1406.7 221.9L1406.8 187.2L1406.9 213.5L1407.1 198.6L1407.2 209.7L1407.3 195.1L1407.4 201.4L1407.5 237.3L1407.6 186.2L1407.7 205.7L1407.8 244.6L1407.9 160.5L1408.0 176.7L1408.1 182.4L1408.2 194.2L1408.3 187.5L1408.4 237.3L1408.5 162.0L1408.6 139.5L1408.7 155.8L1408.8 172.3L1408.9 195.5L1409.0 162.0L1409.1 237.0L1409.2 207.8L1409.3 165.5L1409.4 210.7L1409.5 168.6L1409.6 190.9L1409.7 174.6L1409.8 172.0L1409.9 191.8L1410.0 223.3L1410.1 165.4L1410.2 174.2L1410.3 189.2L1410.4 242.5L1410.5 182.6L1410.6 220.9L1410.7 192.3L1410.8 187.4L1410.9 208.1L1411.0 173.4L1411.1 191.5L1411.2 159.4L1411.3 191.3L1411.4 290.6L1411.5 164.1L1411.6 166.7L1411.7 194.2L1411.8 234.2L1411.9 193.2L1412.0 245.8L1412.1 180.3L1412.2 275.2L1412.3 174.4L1412.4 209.2L1412.5 181.2L1412.6 216.1L1412.7 159.6L1412.8 180.0L1412.9 232.0L1413.0 209.2L1413.1 189.2L1413.2 183.4L1413.3 238.3L1413.4 173.4L1413.5 173.1L1413.6 163.0L1413.7 200.6L1413.8 229.7L1413.9 169.0L1414.0 208.3L1414.1 208.6L1414.2 173.9L1414.2 191.2L1414.3 194.3L1414.4 162.4L1414.5 238.7L1414.6 169.3L1414.7 170.4L1414.8 203.2L1414.9 190.1L1415.0 210.5L1415.1 198.9L1415.2 166.3L1415.3 187.4L1415.4 257.8L1415.5 179.7L1415.6 172.6L1415.7 224.2L1415.8 165.3L1415.9 185.0L1416.0 286.4L1416.1 219.9L1416.2 169.2L1416.3 165.5L1416.4 189.1L1416.5 201.8L1416.6 213.4L1416.6 173.6L1416.7 186.0L1416.8 187.4L1416.9 179.5L1417.0 201.5L1417.1 151.7L1417.2 130.5L1417.3 152.4L1417.4 179.2L1417.5 196.2L1417.6 210.3L1417.7 181.4L1417.8 158.8L1417.9 146.6L1418.0 211.0L1418.1 213.7L1418.2 204.1L1418.3 157.2L1418.3 176.9L1418.4 240.5L1418.5 193.5L1418.6 186.2L1418.7 252.0L1418.8 250.3L1418.9 176.6L1419.0 204.8L1419.1 214.2L1419.2 218.7L1419.3 229.9L1419.4 207.5L1419.5 163.6L1419.6 179.6L1419.7 173.6L1419.7 198.5L1419.8 192.8L1419.9 252.6L1420.0 175.9L1420.1 168.7L1420.2 158.4L1420.3 173.6L1420.4 225.8L1420.5 197.0L1420.6 176.4L1420.7 194.6L1420.8 199.3L1420.9 181.0L1420.9 156.0L1421.0 203.3L1421.1 194.9L1421.2 164.9L1421.3 190.2L1421.4 170.0L1421.5 185.4L1421.6 205.9L1421.7 196.4L1421.8 180.9L1421.9 208.8L1421.9 176.7L1422.0 199.5L1422.1 178.9L1422.2 198.2L1422.3 194.5L1422.4 196.2L1422.5 218.0L1422.6 213.8L1422.7 259.4L1422.8 175.2L1422.9 264.2L1422.9 200.8L1423.0 170.3L1423.1 147.7L1423.2 137.6L1423.3 121.7L1423.4 139.2L1423.5 224.8L1423.6 217.1L1423.7 231.8L1423.8 222.1L1423.8 221.8L1423.9 263.3L1424.0 207.4L1424.1 170.6L1424.2 194.6L1424.3 187.3L1424.4 201.8L1424.5 178.7L1424.6 232.9L1424.6 178.4L1424.7 187.8L1424.8 171.8L1424.9 231.5L1425.0 226.8L1425.1 241.4L1425.2 174.7L1425.3 181.1L1425.4 230.1L1425.4 223.5L1425.5 167.7L1425.6 188.3L1425.7 162.1L1425.8 215.9L1425.9 217.4L1426.0 237.5L1426.1 214.0L1426.1 185.9L1426.2 183.4L1426.3 200.2L1426.4 185.9L1426.5 246.2L1426.6 188.3L1426.7 187.8L1426.8 255.6L1426.8 177.1L1426.9 180.8L1427.0 164.3L1427.1 233.8L1427.2 191.4L1427.3 187.1L1427.4 225.7L1427.5 230.0L1427.5 174.1L1427.6 142.7L1427.7 118.8L1427.8 143.6L1427.9 192.7L1428.0 205.7L1428.1 155.8L1428.2 189.7L1428.2 164.7L1428.3 169.0L1428.4 162.0L1428.5 192.3L1428.6 194.7L1428.7 186.3L1428.8 204.6L1428.8 164.9L1428.9 175.5L1429.0 172.1L1429.1 190.6L1429.2 211.6L1429.3 172.1L1429.4 227.7L1429.4 182.0L1429.5 173.5L1429.6 176.7L1429.7 209.3L1429.8 151.6L1429.9 186.2L1429.9 178.8L1430.0 192.1L1430.1 184.4L1430.2 165.8L1430.3 170.5L1430.4 247.5L1430.5 194.0L1430.5 232.2L1430.6 243.6L1430.7 196.4L1430.8 230.7L1430.9 185.8L1431.0 179.1L1431.0 214.0L1431.1 180.8L1431.2 177.3L1431.3 188.9L1431.4 185.0L1431.5 245.5L1431.6 227.4L1431.6 205.3L1431.7 226.5L1431.8 176.6L1431.9 177.2L1432.0 181.7L1432.1 196.1L1432.1 156.9L1432.2 166.3L1432.3 176.6L1432.4 166.1L1432.5 176.6L1432.6 166.6L1432.6 179.1L1432.7 186.6L1432.8 192.9L1432.9 213.3L1433.0 178.8L1433.1 183.9L1433.1 221.8L1433.2 155.4L1433.3 191.0L1433.4 167.9L1433.5 153.9L1433.6 225.0L1433.6 200.9L1433.7 188.3L1433.8 214.0L1433.9 244.7L1434.0 195.1L1434.0 187.8L1434.1 143.8L1434.2 241.3L1434.3 210.4L1434.4 166.9L1434.5 187.3L1434.5 176.3L1434.6 104.1L1434.7 93.1L1434.8 66.5L1434.9 89.4L1434.9 93.4L1435.0 168.7L1435.1 162.6L1435.2 171.1L1435.3 186.6L1435.4 176.5L1435.4 201.7L1435.5 225.8L1435.6 170.0L1435.7 159.4L1435.8 208.8L1435.8 200.7L1435.9 222.0L1436.0 167.9L1436.1 203.4L1436.2 178.3L1436.2 172.6L1436.3 183.6L1436.4 219.2L1436.5 214.9L1436.6 217.7L1436.6 176.2L1436.7 187.6L1436.8 171.9L1436.9 174.8L1437.0 218.3L1437.0 166.9L1437.1 232.0L1437.2 248.8L1437.3 186.8L1437.4 196.3L1437.4 248.8L1437.5 205.3L1437.6 211.8L1437.7 207.3L1437.8 161.8L1437.8 211.2L1437.9 203.5L1438.0 181.4L1438.1 160.2L1438.2 182.4L1438.2 125.5L1438.3 94.8L1438.4 119.8L1438.5 185.2L1438.6 204.1L1438.6 238.8L1438.7 154.8L1438.8 198.9L1438.9 215.8L1439.0 157.5L1439.0 189.4L1439.1 215.7L1439.2 204.3L1439.3 185.5L1439.3 183.2L1439.4 159.6L1439.5 192.4L1439.6 218.3L1439.7 219.0L1439.7 207.6L1439.8 192.6L1439.9 178.4L1440.0 180.6L1440.1 173.9L1440.1 183.5L1440.2 152.0L1440.3 190.8L1440.4 215.3L1440.4 184.0L1440.5 224.8L1440.6 197.5L1440.7 216.0L1440.8 301.6L1440.8 169.6L1440.9 188.9L1441.0 174.4L1441.1 172.3L1441.1 210.1L1441.2 151.7L1441.3 201.0L1441.4 238.9L1441.5 190.5L1441.5 208.3L1441.6 172.6L1441.7 214.5L1441.8 216.9L1441.8 201.2L1441.9 240.1L1442.0 199.1L1442.1 202.2L1442.1 158.1L1442.2 223.3L1442.3 187.1L1442.4 210.1L1442.5 196.1L1442.5 175.4L1442.6 195.4L1442.7 246.4L1442.8 207.6L1442.8 172.2L1442.9 199.8L1443.0 239.0L1443.1 161.3L1443.1 139.5L1443.2 171.3L1443.3 203.9L1443.4 217.2L1443.4 187.3L1443.5 202.2L1443.6 176.0L1443.7 173.5L1443.7 201.8L1443.8 230.5L1443.9 201.4L1444.0 159.6L1444.0 152.3L1444.1 219.5L1444.2 190.7L1444.3 180.3L1444.3 184.4L1444.4 247.0L1444.5 198.2L1444.6 176.2L1444.7 179.5L1444.7 168.8L1444.8 256.6L1444.9 197.2L1445.0 196.9L1445.0 168.6L1445.1 186.4L1445.2 227.3L1445.3 232.1L1445.3 197.3L1445.4 187.0L1445.5 263.6L1445.5 189.9L1445.6 186.9L1445.7 177.8L1445.8 200.7L1445.8 232.8L1445.9 202.9L1446.0 230.4L1446.1 190.8L1446.1 215.9L1446.2 181.2L1446.3 199.6L1446.4 190.4L1446.4 190.0L1446.5 223.9L1446.6 184.8L1446.7 203.4L1446.7 194.5L1446.8 243.3L1446.9 186.2L1447.0 194.0L1447.0 220.0L1447.1 190.9L1447.2 222.5L1447.3 285.8L1447.3 195.6L1447.4 207.1L1447.5 164.9L1447.5 231.2L1447.6 196.9L1447.7 212.9L1447.8 186.1L1447.8 218.1L1447.9 205.4L1448.0 312.6L1448.1 266.0L1448.1 210.9L1448.2 184.3L1448.3 192.6L1448.4 209.4L1448.4 233.3L1448.5 248.8L1448.6 246.4L1448.6 231.0L1448.7 204.2L1448.8 212.4L1448.9 191.6L1448.9 211.6L1449.0 199.5L1449.1 211.6L1449.1 171.0L1449.2 179.0L1449.3 220.2L1449.4 203.7L1449.4 190.3L1449.5 281.7L1449.6 167.2L1449.7 266.1L1449.7 242.7L1449.8 153.6L1449.9 248.7L1449.9 227.2L1450.0 191.1L1450.1 224.5L1450.2 266.8L1450.2 177.3L1450.3 196.9L1450.4 184.4L1450.4 249.2L1450.5 184.5L1450.6 182.3L1450.7 181.5L1450.7 244.0L1450.8 191.0L1450.9 285.4L1450.9 173.7L1451.0 208.9L1451.1 185.9L1451.2 190.2L1451.2 190.4L1451.3 216.7L1451.4 193.4L1451.4 201.9L1451.5 250.4L1451.6 220.6L1451.7 164.7L1451.7 197.4L1451.8 221.7L1451.9 201.0L1451.9 183.4L1452.0 184.6L1452.1 204.1L1452.2 223.2L1452.2 212.2L1452.3 196.4L1452.4 190.0L1452.4 201.3L1452.5 256.3L1452.6 182.9L1452.6 182.1L1452.7 184.0L1452.8 219.4L1452.9 174.4L1452.9 202.4L1453.0 202.2L1453.1 210.4L1453.1 211.1L1453.2 249.9L1453.3 202.3L1453.3 192.0L1453.4 242.3L1453.5 196.9L1453.6 190.3L1453.6 173.2L1453.7 285.3L1453.8 229.5L1453.8 226.4L1453.9 185.5L1454.0 249.8L1454.0 181.9L1454.1 232.6L1454.2 249.5L1454.3 214.1L1454.3 195.0L1454.4 299.5L1454.5 179.3L1454.5 201.2L1454.6 225.8L1454.7 227.4L1454.7 195.4L1454.8 201.2L1454.9 210.5L1454.9 302.9L1455.0 331.1L1455.1 187.5L1455.1 254.5L1455.2 210.5L1455.3 200.4L1455.4 213.3L1455.4 181.8L1455.5 237.1L1455.6 234.5L1455.6 200.5L1455.7 177.7L1455.8 239.3L1455.8 304.6L1455.9 191.2L1456.0 311.9L1456.0 222.4L1456.1 199.8L1456.2 242.3L1456.2 242.6L1456.3 208.4L1456.4 224.1L1456.4 198.9L1456.5 225.4L1456.6 197.3L1456.7 209.3L1456.7 246.2L1456.8 246.7L1456.9 232.3L1456.9 268.4L1457.0 244.5L1457.1 226.9L1457.1 233.0L1457.2 192.2L1457.3 181.4L1457.3 201.5L1457.4 242.9L1457.5 318.3L1457.5 199.7L1457.6 308.0L1457.7 251.4L1457.7 195.5L1457.8 222.6L1457.9 203.3L1457.9 241.8L1458.0 209.9L1458.1 212.6L1458.1 225.4L1458.2 205.9L1458.3 247.8L1458.3 228.8L1458.4 183.8L1458.5 225.4L1458.5 216.0L1458.6 277.9L1458.7 288.9L1458.7 185.2L1458.8 245.1L1458.9 230.1L1458.9 220.9L1459.0 191.7L1459.1 267.3L1459.1 232.5L1459.2 231.3L1459.3 294.0L1459.3 192.6L1459.4 213.1L1459.5 180.9L1459.5 206.0L1459.6 368.2L1459.7 213.1L1459.7 254.2L1459.8 260.8L1459.9 224.6L1459.9 255.3L1460.0 201.4L1460.1 188.4L1460.1 200.8L1460.2 190.9L1460.3 191.1L1460.3 184.2L1460.4 188.0L1460.5 192.7L1460.5 225.8L1460.6 208.2L1460.7 335.1L1460.7 232.6L1460.8 282.5L1460.9 242.9L1460.9 270.1L1461.0 286.0L1461.1 214.7L1461.1 203.8L1461.2 189.8L1461.3 298.3L1461.3 204.3L1461.4 315.3L1461.4 242.9L1461.5 254.1L1461.6 182.8L1461.6 274.9L1461.7 190.4L1461.8 253.6L1461.8 182.9L1461.9 290.1L1462.0 187.1L1462.0 198.5L1462.1 220.1L1462.2 177.1L1462.2 145.4L1462.3 168.3L1462.4 187.4L1462.4 229.9L1462.5 245.0L1462.6 223.8L1462.6 229.0L1462.7 206.0L1462.7 221.9L1462.8 234.1L1462.9 283.8L1462.9 225.9L1463.0 319.0L1463.1 217.1L1463.1 232.7L1463.2 244.9L1463.3 194.0L1463.3 258.9L1463.4 258.7L1463.5 195.5L1463.5 237.7L1463.6 218.5L1463.6 201.5L1463.7 204.4L1463.8 197.9L1463.8 282.9L1463.9 257.9L1464.0 246.4L1464.0 201.9L1464.1 246.1L1464.2 208.6L1464.2 226.0L1464.3 181.1L1464.4 278.2L1464.4 214.4L1464.5 242.1L1464.5 196.5L1464.6 203.6L1464.7 249.6L1464.7 243.2L1464.8 234.4L1464.9 218.1L1464.9 237.0L1465.0 276.9L1465.1 259.2L1465.1 254.1L1465.2 222.3L1465.2 222.6L1465.3 275.2L1465.4 210.2L1465.4 228.9L1465.5 205.8L1465.6 222.6L1465.6 207.5L1465.7 270.5L1465.7 277.0L1465.8 216.7L1465.9 254.9L1465.9 256.3L1466.0 270.3L1466.1 248.3L1466.1 206.9L1466.2 238.3L1466.2 210.3L1466.3 225.4L1466.4 190.3L1466.4 182.0L1466.5 280.7L1466.6 224.8L1466.6 227.3L1466.7 238.8L1466.7 186.1L1466.8 240.7L1466.9 248.1L1466.9 191.8L1467.0 260.6L1467.1 229.3L1467.1 229.9L1467.2 215.3L1467.2 191.9L1467.3 207.5L1467.4 206.8L1467.4 257.7L1467.5 239.4L1467.6 295.4L1467.6 206.5L1467.7 257.5L1467.7 244.8L1467.8 227.0L1467.9 249.3L1467.9 205.8L1468.0 251.8L1468.1 213.7L1468.1 233.2L1468.2 244.5L1468.2 210.7L1468.3 309.8L1468.4 201.8L1468.4 279.9L1468.5 313.5L1468.5 262.7L1468.6 227.7L1468.7 259.7L1468.7 242.4L1468.8 332.1L1468.9 249.1L1468.9 203.1L1469.0 235.6L1469.0 198.2L1469.1 234.2L1469.2 202.9L1469.2 231.5L1469.3 261.6L1469.3 189.6L1469.4 222.1L1469.5 196.8L1469.5 220.0L1469.6 224.2L1469.6 186.0L1469.7 220.3L1469.8 248.4L1469.8 231.0L1469.9 204.7L1470.0 227.0L1470.0 188.4L1470.1 207.2L1470.1 229.0L1470.2 208.8L1470.3 238.2L1470.3 205.4L1470.4 260.6L1470.4 270.1L1470.5 269.1L1470.6 259.1L1470.6 243.3L1470.7 276.5L1470.7 205.8L1470.8 196.3L1470.9 223.6L1470.9 320.2L1471.0 233.3L1471.0 240.5L1471.1 218.5L1471.2 240.5L1471.2 261.0L1471.3 241.6L1471.3 196.4L1471.4 226.1L1471.5 229.1L1471.5 207.2L1471.6 195.9L1471.6 254.8L1471.7 189.1L1471.8 221.7L1471.8 246.3L1471.9 265.7L1471.9 220.6L1472.0 202.9L1472.1 293.8L1472.1 252.4L1472.2 262.6L1472.2 252.9L1472.3 449.8" stroke="#4b4b4b"/>
<path d="M923.3 165.0L929.1 200.0L934.7 175.0L940.0 196.0L945.0 200.0L949.9 204.0L954.6 186.0L959.1 183.0L963.4 160.0L967.6 188.0L971.6 220.5L975.5 179.9L979.3 177.5L983.0 207.6L986.6 274.2L990.0 174.6L993.4 263.4L996.6 245.9L999.8 160.8L1002.9 192.6L1005.9 245.9L1008.9 246.9L1011.7 197.6L1014.6 156.9L1017.3 183.9L1020.0 183.6L1022.6 184.0L1025.2 243.4L1027.7 163.2L1030.1 151.2L1032.5 161.9L1034.9 162.4L1037.2 184.5L1039.5 149.8L1041.7 128.3L1043.9 114.9L1046.0 131.5L1048.2 162.3L1050.2 160.2L1052.3 155.0L1054.3 186.1L1056.2 192.4L1058.2 159.4L1060.1 173.1L1062.0 168.4L1063.8 158.4L1065.6 161.3L1067.4 228.7L1069.2 207.5L1070.9 169.8L1072.6 191.3L1074.3 147.8L1076.0 214.4L1077.6 178.3L1079.3 199.8L1080.9 164.8L1082.5 170.0L1084.0 168.7L1085.5 237.6L1087.1 173.0L1088.6 176.9L1090.0 229.3L1091.5 213.9L1093.0 171.5L1094.4 167.0L1095.8 200.0L1097.2 154.7L1098.6 171.6L1099.9 209.9L1101.3 218.4L1102.6 163.2L1103.9 152.3L1105.2 198.8L1106.5 185.4L1107.8 163.6L1109.1 178.4L1110.3 286.7L1111.5 191.4L1112.8 179.9L1114.0 192.0L1115.2 153.4L1116.4 187.8L1117.5 171.6L1118.7 178.9L1119.8 170.0L1121.0 187.7L1122.1 183.6L1123.2 186.9L1124.3 151.9L1125.4 164.5L1126.5 153.1L1127.6 173.7L1128.7 179.3L1129.7 157.2L1130.8 191.7L1131.8 180.1L1132.9 181.0L1133.9 187.2L1134.9 228.9L1135.9 186.9L1136.9 156.4L1137.9 160.9L1138.9 195.0L1139.8 172.0L1140.8 200.7L1141.8 182.9L1142.7 175.5L1143.7 199.6L1144.6 164.2L1145.5 170.6L1146.4 171.1L1147.4 178.2L1148.3 223.7L1149.2 208.3L1150.1 209.5L1150.9 192.1L1151.8 143.6L1152.7 171.6L1153.6 184.1L1154.4 222.9L1155.3 176.3L1156.1 187.4L1157.0 214.4L1157.8 175.4L1158.6 202.8L1159.5 190.8L1160.3 310.5L1161.1 193.5L1161.9 184.2L1162.7 161.3L1163.5 224.1L1164.3 250.7L1165.1 213.5L1165.9 177.2L1166.6 194.6L1167.4 206.5L1168.2 156.9L1168.9 208.7L1169.7 159.6L1170.5 237.1L1171.2 171.3L1171.9 248.0L1172.7 171.7L1173.4 189.8L1174.1 215.5L1174.9 271.5L1175.6 203.0L1176.3 216.9L1177.0 183.5L1177.7 208.1L1178.4 183.9L1179.1 236.5L1179.8 211.3L1180.5 184.8L1181.2 213.0L1181.9 165.0L1182.6 236.3L1183.2 205.7L1183.9 183.9L1184.6 203.0L1185.2 214.8L1185.9 202.4L1186.6 229.2L1187.2 190.6L1187.9 185.9L1188.5 189.0L1189.1 184.6L1189.8 195.5L1190.4 291.6L1191.1 228.8L1191.7 205.6L1192.3 218.2L1192.9 257.8L1193.6 208.4L1194.2 175.1L1194.8 206.7L1195.4 167.2L1196.0 210.9L1196.6 293.7L1197.2 200.1L1197.8 243.8L1198.4 168.9L1199.0 257.0L1199.6 184.0L1200.2 227.8L1200.7 191.6L1201.3 196.7L1201.9 182.2L1202.5 173.1L1203.0 219.9L1203.6 219.6L1204.2 182.1L1204.7 210.8L1205.3 190.8L1205.9 239.7L1206.4 183.5L1207.0 209.5L1207.5 239.3L1208.1 206.9L1208.6 215.7L1209.2 228.6L1209.7 219.0L1210.2 230.8L1210.8 190.4L1211.3 245.6L1211.8 206.3L1212.4 247.4L1212.9 219.6L1213.4 222.8L1213.9 259.6L1214.5 183.2L1215.0 239.7L1215.5 195.7L1216.0 233.1L1216.5 192.0L1217.0 206.1L1217.5 186.6L1218.0 232.1L1218.5 196.6L1219.0 207.0L1219.5 231.7L1220.0 201.6L1220.5 245.2L1221.0 209.9L1221.5 261.1L1222.0 230.2L1222.5 307.9L1223.0 225.0L1223.4 199.3L1223.9 212.2L1224.4 261.7L1224.9 256.8L1225.4 196.2L1225.8 196.6L1226.3 196.6L1226.8 219.7L1227.2 193.1L1227.7 226.3L1228.2 201.1L1228.6 241.3L1229.1 197.0L1229.5 259.9L1230.0 202.4L1230.4 178.4L1230.9 191.8L1231.3 239.6L1231.8 192.7L1232.2 198.2L1232.7 317.4L1233.1 208.5L1233.6 223.6L1234.0 216.8L1234.5 212.1L1234.9 255.2L1235.3 179.8L1235.8 207.2L1236.2 211.6L1236.6 228.2L1237.1 232.4L1237.5 169.8L1237.9 188.2L1238.3 199.2L1238.8 205.3L1239.2 237.3L1239.6 234.8L1240.0 265.9L1240.4 209.9L1240.9 211.2L1241.3 193.0L1241.7 258.1L1242.1 259.1L1242.5 278.9L1242.9 235.3L1243.3 256.1L1243.7 221.8L1244.1 248.9L1244.5 206.6L1244.9 238.7L1245.3 239.0L1245.7 226.4L1246.1 249.8L1246.5 231.4L1246.9 202.2L1247.3 184.8L1247.7 207.4L1248.1 198.7L1248.5 263.7L1248.9 221.0L1249.3 237.2L1249.7 270.0L1250.0 244.3L1250.4 256.0L1250.8 223.5L1251.2 240.9L1251.6 283.5L1252.0 215.5L1252.3 235.4L1252.7 282.5L1253.1 202.9L1253.5 188.4L1253.8 218.7L1254.2 262.4L1254.6 221.7L1254.9 200.7L1255.3 311.2L1255.7 218.5L1256.0 216.3L1256.4 189.0L1256.8 216.0L1257.1 303.9L1257.5 216.4L1257.9 245.2L1258.2 274.5L1258.6 172.7L1258.9 236.4L1259.3 196.4L1259.6 222.0L1260.0 257.0L1260.4 212.1L1260.7 239.7L1261.1 207.4L1261.4 229.0L1261.8 241.3L1262.1 224.8L1262.5 210.3L1262.8 242.4L1263.1 196.7L1263.5 210.9L1263.8 248.2L1264.2 222.5L1264.5 192.6L1264.9 236.8L1265.2 273.2L1265.5 199.9L1265.9 274.4L1266.2 173.4L1266.5 289.4L1266.9 231.4L1267.2 206.7L1267.5 199.7L1267.9 219.0L1268.2 218.7L1268.5 224.0L1268.9 224.8L1269.2 192.4L1269.5 206.4L1269.8 198.4L1270.2 255.0L1270.5 199.0L1270.8 237.4L1271.1 192.9L1271.5 236.4L1271.8 219.7L1272.1 224.6L1272.4 246.2L1272.7 211.4L1273.1 240.8L1273.4 275.9L1273.7 245.3L1274.0 232.4L1274.3 240.6L1274.6 270.5L1274.9 183.0L1275.3 342.4L1275.6 222.8L1275.9 271.3L1276.2 189.6L1276.5 210.3L1276.8 229.8L1277.1 230.8L1277.4 286.8L1277.7 212.8L1278.0 207.3L1278.3 236.5L1278.6 201.4L1278.9 277.6L1279.2 207.1L1279.5 174.6L1279.8 236.2L1280.1 206.8L1280.4 278.7L1280.7 196.2L1281.0 226.4L1281.3 234.2L1281.6 226.1L1281.9 190.7L1282.2 227.8L1282.5 198.8L1282.8 188.0L1283.1 276.2L1283.4 209.5L1283.7 192.2L1284.0 179.4L1284.2 266.1L1284.5 264.7L1284.8 248.1L1285.1 254.2L1285.4 210.8L1285.7 232.8L1286.0 247.2L1286.2 208.8L1286.5 246.6L1286.8 254.9L1287.1 228.1L1287.4 238.0L1287.7 184.2L1287.9 217.8L1288.2 214.0L1288.5 216.6L1288.8 281.8L1289.1 288.3L1289.3 190.9L1289.6 232.9L1289.9 205.0L1290.2 238.7L1290.4 309.3L1290.7 200.5L1291.0 218.5L1291.3 215.5L1291.5 244.3L1291.8 257.2L1292.1 188.8L1292.3 205.9L1292.6 217.6L1292.9 298.4L1293.1 250.2L1293.4 236.5L1293.7 302.5L1293.9 219.3L1294.2 255.3L1294.5 209.1L1294.7 209.9L1295.0 278.6L1295.3 257.8L1295.5 236.3L1295.8 202.1L1296.1 213.7L1296.3 281.6L1296.6 223.4L1296.8 188.8L1297.1 208.0L1297.4 233.5L1297.6 265.1L1297.9 223.5L1298.1 209.1L1298.4 254.3L1298.6 213.6L1298.9 210.6L1299.1 375.6L1299.4 227.9L1299.7 265.5L1299.9 223.4L1300.2 238.2L1300.4 223.7L1300.7 241.0L1300.9 274.0L1301.2 196.4L1301.4 272.2L1301.7 274.3L1301.9 217.1L1302.2 175.2L1302.4 223.8L1302.7 240.9L1302.9 205.8L1303.2 204.4L1303.4 217.3L1303.6 273.2L1303.9 234.3L1304.1 243.1L1304.4 233.4L1304.6 240.9L1304.9 222.3L1305.1 380.2L1305.4 197.7L1305.6 346.9L1305.8 203.4L1306.1 257.5L1306.3 237.3L1306.6 248.8L1306.8 229.0L1307.0 230.6L1307.3 216.0L1307.5 194.5L1307.7 236.8L1308.0 235.6L1308.2 215.3L1308.5 279.2L1308.7 281.8L1308.9 217.7L1309.2 224.2L1309.4 207.1L1309.6 245.4L1309.9 205.6L1310.1 214.4L1310.3 295.1L1310.6 202.3L1310.8 272.1L1311.0 231.3L1311.3 206.0L1311.5 256.2L1311.7 233.2L1311.9 251.9L1312.2 218.5L1312.4 214.1L1312.6 198.4L1312.9 200.1L1313.1 228.1L1313.3 219.8L1313.5 192.3L1313.8 205.4L1314.0 226.0L1314.2 190.7L1314.4 180.1L1314.7 240.0L1314.9 196.4L1315.1 221.1L1315.3 284.1L1315.5 196.4L1315.8 219.6L1316.0 206.0L1316.2 253.6L1316.4 228.2L1316.7 195.8L1316.9 249.5L1317.1 279.5L1317.3 253.3L1317.5 207.9L1317.7 327.9L1318.0 241.0L1318.2 218.7L1318.4 196.4L1318.6 229.1L1318.8 195.3L1319.0 200.7L1319.3 238.9L1319.5 248.5L1319.7 235.8L1319.9 223.6L1320.1 260.2L1320.3 263.8L1320.5 188.9L1320.8 247.1L1321.0 255.8L1321.2 235.0L1321.4 222.1L1321.6 251.3L1321.8 187.1L1322.0 273.5L1322.2 229.7L1322.4 233.4L1322.7 239.9L1322.9 224.9L1323.1 213.5L1323.3 210.1L1323.5 203.9L1323.7 183.2L1323.9 263.3L1324.1 305.2L1324.3 242.2L1324.5 214.0L1324.7 220.4L1324.9 256.2L1325.1 225.5L1325.3 219.8L1325.5 251.9L1325.8 211.9L1326.0 198.9L1326.2 220.1L1326.4 268.7L1326.6 348.3L1326.8 208.3L1327.0 252.0L1327.2 198.6L1327.4 239.5L1327.6 200.3L1327.8 208.0L1328.0 252.1L1328.2 199.3L1328.4 228.3L1328.6 216.6L1328.8 331.3L1329.0 250.1L1329.2 212.8L1329.4 315.8L1329.6 237.5L1329.8 203.5L1330.0 212.9L1330.2 256.0L1330.3 294.6L1330.5 189.5L1330.7 232.4L1330.9 206.8L1331.1 243.9L1331.3 177.6L1331.5 247.4L1331.7 229.9L1331.9 237.5L1332.1 226.0L1332.3 240.8L1332.5 259.4L1332.7 195.4L1332.9 216.6L1333.1 206.9L1333.3 224.4L1333.4 234.9L1333.6 220.9L1333.8 252.6L1334.0 182.5L1334.2 204.1L1334.4 202.0L1334.6 197.5L1334.8 234.9L1335.0 241.8L1335.2 218.0L1335.3 243.7L1335.5 218.1L1335.7 233.6L1335.9 190.6L1336.1 217.0L1336.3 193.4L1336.5 248.8L1336.6 239.9L1336.8 263.1L1337.0 267.5L1337.2 230.7L1337.4 202.7L1337.6 214.2L1337.8 237.7L1337.9 241.9L1338.1 243.6L1338.3 198.7L1338.5 201.1L1338.7 245.6L1338.9 196.8L1339.0 228.0L1339.2 223.2L1339.4 257.2L1339.6 197.5L1339.8 247.3L1340.0 216.5L1340.1 241.4L1340.3 204.4L1340.5 236.2L1340.7 248.4L1340.9 242.4L1341.0 250.4L1341.2 235.7L1341.4 228.5L1341.6 240.4L1341.7 200.8L1341.9 240.2L1342.1 203.3L1342.3 225.3L1342.5 224.9L1342.6 200.4L1342.8 208.6L1343.0 245.5L1343.2 237.7L1343.3 226.3L1343.5 241.6L1343.7 220.1L1343.9 225.8L1344.0 222.2L1344.2 248.9L1344.4 195.0L1344.6 256.1L1344.7 182.9L1344.9 216.0L1345.1 303.6L1345.3 209.3L1345.4 218.3L1345.6 205.0L1345.8 260.3L1345.9 205.8L1346.1 220.3L1346.3 217.3L1346.5 208.4L1346.6 231.3L1346.8 218.3L1347.0 285.3L1347.1 224.7L1347.3 244.8L1347.5 188.6L1347.7 259.7L1347.8 234.1L1348.0 214.4L1348.2 231.1L1348.3 183.8L1348.5 204.1L1348.7 244.0L1348.8 225.3L1349.0 271.2L1349.2 244.1L1349.3 283.9L1349.5 262.0L1349.7 201.2L1349.8 261.0L1350.0 242.7L1350.2 206.5L1350.3 203.2L1350.5 214.9L1350.7 255.3L1350.8 220.2L1351.0 230.3L1351.2 227.6L1351.3 237.1L1351.5 223.2L1351.7 195.7L1351.8 294.4L1352.0 232.6L1352.1 190.9L1352.3 207.5L1352.5 285.0L1352.6 293.2L1352.8 228.4L1353.0 218.6L1353.1 223.5L1353.3 216.9L1353.4 227.5L1353.6 236.4L1353.8 203.3L1353.9 300.6L1354.1 208.9L1354.3 198.3L1354.4 236.6L1354.6 218.5L1354.7 248.6L1354.9 206.7L1355.1 231.2L1355.2 202.6L1355.4 258.7L1355.5 210.8L1355.7 295.0L1355.8 210.0L1356.0 233.9L1356.2 223.2L1356.3 296.1L1356.5 218.8L1356.6 234.1L1356.8 270.6L1357.0 199.6L1357.1 227.9L1357.3 266.4L1357.4 213.0L1357.6 202.8L1357.7 234.5L1357.9 257.7L1358.0 270.2L1358.2 227.5L1358.4 208.4L1358.5 185.0L1358.7 221.0L1358.8 203.6L1359.0 234.8L1359.1 243.2L1359.3 242.5L1359.4 209.3L1359.6 330.5L1359.7 252.6L1359.9 239.0L1360.0 256.0L1360.2 291.4L1360.4 218.6L1360.5 254.0L1360.7 223.3L1360.8 222.0L1361.0 335.6L1361.1 204.8L1361.3 228.6L1361.4 255.6L1361.6 239.3L1361.7 221.7L1361.9 252.9L1362.0 211.7L1362.2 229.8L1362.3 229.1L1362.5 206.0L1362.6 207.8L1362.8 265.0L1362.9 202.2L1363.1 315.9L1363.2 218.1L1363.4 307.8L1363.5 246.1L1363.7 228.1L1363.8 268.6L1364.0 202.2L1364.1 233.0L1364.3 247.3L1364.4 247.2L1364.5 216.4L1364.7 196.8L1364.8 297.0L1365.0 278.9L1365.1 216.9L1365.3 261.1L1365.4 205.4L1365.6 214.7L1365.7 324.4L1365.9 202.2L1366.0 235.1L1366.2 247.9L1366.3 257.2L1366.4 284.5L1366.6 198.5L1366.7 246.6L1366.9 240.9L1367.0 229.1L1367.2 213.6L1367.3 263.1L1367.5 219.7L1367.6 241.1L1367.7 217.8L1367.9 224.9L1368.0 315.3L1368.2 210.1L1368.3 261.6L1368.5 198.1L1368.6 297.3L1368.7 238.4L1368.9 218.6L1369.0 254.9L1369.2 248.9L1369.3 300.7L1369.4 244.4L1369.6 252.2L1369.7 221.2L1369.9 258.2L1370.0 252.0L1370.2 228.2L1370.3 212.9L1370.4 317.6L1370.6 226.8L1370.7 256.5L1370.9 197.9L1371.0 217.0L1371.1 209.5L1371.3 248.5L1371.4 221.7L1371.5 256.4L1371.7 219.1L1371.8 217.7L1372.0 217.9L1372.1 212.8L1372.2 234.1L1372.4 229.9L1372.5 276.0L1372.7 219.4L1372.8 204.5L1372.9 267.5L1373.1 294.4L1373.2 232.3L1373.3 198.8L1373.5 229.1L1373.6 209.2L1373.7 219.1L1373.9 223.8L1374.0 196.6L1374.2 229.5L1374.3 229.6L1374.4 213.3L1374.6 201.7L1374.7 235.6L1374.8 241.0L1375.0 318.9L1375.1 236.6L1375.2 209.6L1375.4 209.4L1375.5 186.9L1375.6 200.1L1375.8 257.4L1375.9 192.4L1376.0 225.9L1376.2 209.1L1376.3 238.6L1376.4 252.6L1376.6 232.4L1376.7 243.7L1376.8 193.4L1377.0 200.8L1377.1 196.1L1377.2 213.4L1377.4 190.0L1377.5 249.4L1377.6 263.3L1377.8 251.8L1377.9 215.7L1378.0 225.5L1378.2 242.5L1378.3 210.5L1378.4 220.8L1378.6 247.3L1378.7 232.5L1378.8 226.1L1378.9 216.2L1379.1 259.1L1379.2 222.8L1379.3 229.7L1379.5 239.1L1379.6 215.6L1379.7 280.0L1379.9 224.7L1380.0 257.9L1380.1 247.9L1380.2 215.4L1380.4 194.0L1380.5 235.9L1380.6 259.0L1380.8 214.3L1380.9 265.8L1381.0 220.0L1381.1 232.0L1381.3 215.0L1381.4 218.2L1381.5 249.5L1381.7 260.9L1381.8 208.7L1381.9 273.5L1382.0 246.2L1382.2 247.4L1382.3 244.3L1382.4 218.6L1382.5 305.2L1382.7 282.5L1382.8 218.4L1382.9 232.7L1383.0 225.2L1383.2 241.6L1383.3 242.6L1383.4 305.7L1383.6 260.0L1383.7 305.5L1383.8 281.6L1383.9 226.3L1384.1 270.4L1384.2 256.2L1384.3 225.6L1384.4 254.1L1384.6 266.8L1384.7 227.2L1384.8 293.2L1384.9 312.9L1385.0 376.2L1385.2 212.2L1385.3 245.6L1385.4 233.5L1385.5 231.4L1385.7 263.5L1385.8 254.2L1385.9 268.5L1386.0 281.5L1386.2 254.4L1386.3 290.7L1386.4 296.2L1386.5 386.0L1386.6 215.0L1386.8 253.3L1386.9 319.7L1387.0 300.4L1387.1 248.5L1387.3 298.5L1387.4 316.5L1387.5 293.4L1387.6 244.1L1387.7 287.3L1387.9 220.4L1388.0 276.0L1388.1 277.0L1388.2 294.3L1388.3 261.4L1388.5 272.6L1388.6 268.3L1388.7 249.3L1388.8 268.9L1388.9 291.0L1389.1 290.7L1389.2 259.0L1389.3 243.9L1389.4 315.2L1389.5 291.5L1389.7 256.1L1389.8 287.3L1389.9 266.0L1390.0 295.6L1390.1 312.8L1390.3 273.3L1390.4 306.5L1390.5 249.7L1390.6 265.8L1390.7 274.5L1390.9 279.6L1391.0 278.0L1391.1 320.7L1391.2 267.5L1391.3 262.5L1391.4 314.3L1391.6 287.2L1391.7 290.5L1391.8 277.1L1391.9 286.6L1392.0 310.9L1392.1 265.1L1392.3 280.0L1392.4 269.0L1392.5 286.1L1392.6 272.4L1392.7 272.6L1392.8 273.0L1393.0 272.5L1393.1 288.4L1393.2 257.6L1393.3 272.3L1393.4 243.8L1393.5 275.8L1393.7 259.8L1393.8 284.6L1393.9 258.7L1394.0 363.6L1394.1 288.1L1394.2 254.0L1394.3 335.2L1394.5 294.7L1394.6 239.5L1394.7 272.0L1394.8 292.9L1394.9 211.4L1395.0 230.1L1395.1 232.8L1395.3 257.5L1395.4 252.7L1395.5 218.7L1395.6 218.3L1395.7 213.4L1395.8 233.2L1395.9 222.4L1396.1 229.6L1396.2 281.1L1396.3 229.2L1396.4 218.2L1396.5 218.2L1396.6 230.4L1396.7 270.7L1396.8 219.2L1397.0 248.0L1397.1 240.2L1397.2 233.9L1397.3 228.9L1397.4 229.7L1397.5 221.6L1397.6 198.0L1397.7 231.9L1397.8 196.6L1398.0 242.4L1398.1 206.7L1398.2 237.0L1398.3 228.0L1398.4 214.4L1398.5 236.7L1398.6 345.3L1398.7 225.6L1398.8 225.4L1399.0 226.1L1399.1 185.7L1399.2 206.0L1399.3 245.4L1399.4 197.2L1399.5 207.9L1399.6 286.3L1399.7 345.3L1399.8 218.5L1399.9 198.9L1400.1 245.0L1400.2 294.6L1400.3 221.6L1400.4 245.5L1400.5 206.8L1400.6 247.1L1400.7 180.6L1400.8 279.7L1400.9 219.3L1401.0 226.8L1401.1 233.1L1401.2 218.7L1401.4 214.5L1401.5 207.2L1401.6 226.9L1401.7 269.7L1401.8 251.6L1401.9 203.2L1402.0 234.0L1402.1 254.1L1402.2 202.3L1402.3 220.4L1402.4 220.7L1402.5 229.3L1402.6 196.9L1402.8 222.2L1402.9 221.2L1403.0 246.2L1403.1 232.5L1403.2 248.9L1403.3 216.6L1403.4 228.6L1403.5 200.1L1403.6 239.9L1403.7 282.9L1403.8 240.7L1403.9 239.2L1404.0 221.7L1404.1 269.2L1404.2 236.5L1404.3 270.8L1404.4 194.8L1404.6 233.5L1404.7 210.2L1404.8 199.3L1404.9 212.1L1405.0 232.0L1405.1 194.2L1405.2 191.1L1405.3 239.8L1405.4 218.9L1405.5 220.5L1405.6 194.6L1405.7 184.0L1405.8 213.6L1405.9 242.6L1406.0 208.9L1406.1 225.5L1406.2 212.6L1406.3 203.5L1406.4 227.3L1406.5 204.9L1406.6 222.1L1406.7 206.8L1406.8 206.0L1406.9 191.5L1407.1 206.5L1407.2 234.4L1407.3 226.6L1407.4 233.1L1407.5 240.0L1407.6 293.4L1407.7 219.9L1407.8 220.5L1407.9 242.6L1408.0 180.7L1408.1 217.6L1408.2 211.3L1408.3 233.8L1408.4 176.7L1408.5 212.3L1408.6 272.3L1408.7 200.9L1408.8 243.4L1408.9 242.0L1409.0 202.6L1409.1 193.7L1409.2 238.4L1409.3 193.1L1409.4 189.2L1409.5 253.3L1409.6 208.0L1409.7 220.8L1409.8 203.3L1409.9 209.4L1410.0 287.4L1410.1 219.1L1410.2 222.3L1410.3 209.6L1410.4 180.1L1410.5 236.9L1410.6 303.1L1410.7 203.0L1410.8 230.7L1410.9 225.3L1411.0 231.1L1411.1 225.0L1411.2 234.4L1411.3 224.8L1411.4 230.6L1411.5 209.9L1411.6 252.0L1411.7 277.4L1411.8 224.5L1411.9 207.2L1412.0 196.0L1412.1 240.1L1412.2 257.2L1412.3 188.8L1412.4 217.1L1412.5 205.9L1412.6 217.8L1412.7 204.7L1412.8 197.3L1412.9 234.1L1413.0 194.8L1413.1 198.8L1413.2 221.9L1413.3 234.3L1413.4 248.4L1413.5 230.7L1413.6 225.1L1413.7 259.8L1413.8 338.2L1413.9 258.7L1414.0 255.8L1414.1 214.7L1414.2 216.4L1414.2 211.6L1414.3 208.0L1414.4 208.7L1414.5 189.4L1414.6 222.7L1414.7 227.2L1414.8 243.7L1414.9 225.7L1415.0 202.3L1415.1 220.0L1415.2 221.8L1415.3 203.9L1415.4 247.3L1415.5 202.7L1415.6 210.9L1415.7 270.9L1415.8 239.8L1415.9 251.6L1416.0 213.9L1416.1 239.2L1416.2 208.5L1416.3 217.6L1416.4 222.4L1416.5 246.0L1416.6 197.7L1416.6 288.3L1416.7 194.0L1416.8 245.4L1416.9 206.0L1417.0 198.3L1417.1 263.2L1417.2 217.1L1417.3 252.1L1417.4 213.7L1417.5 203.2L1417.6 207.2L1417.7 224.7L1417.8 273.9L1417.9 215.5L1418.0 219.6L1418.1 188.0L1418.2 221.0L1418.3 214.4L1418.3 214.2L1418.4 228.3L1418.5 245.9L1418.6 205.1L1418.7 212.0L1418.8 223.3L1418.9 252.6L1419.0 225.1L1419.1 195.8L1419.2 283.5L1419.3 206.6L1419.4 232.2L1419.5 250.5L1419.6 187.2L1419.7 237.2L1419.7 251.2L1419.8 232.4L1419.9 227.2L1420.0 203.3L1420.1 297.0L1420.2 175.3L1420.3 276.0L1420.4 246.7L1420.5 262.0L1420.6 190.2L1420.7 262.2L1420.8 246.5L1420.9 242.3L1420.9 209.2L1421.0 205.2L1421.1 194.2L1421.2 246.6L1421.3 248.8L1421.4 196.7L1421.5 198.1L1421.6 210.8L1421.7 203.8L1421.8 218.4L1421.9 235.0L1421.9 245.6L1422.0 200.1L1422.1 215.2L1422.2 191.3L1422.3 213.3L1422.4 197.0L1422.5 193.2L1422.6 210.0L1422.7 200.2L1422.8 196.2L1422.9 197.7L1422.9 230.2L1423.0 196.1L1423.1 202.9L1423.2 246.0L1423.3 213.5L1423.4 205.3L1423.5 285.0L1423.6 291.2L1423.7 220.1L1423.8 211.0L1423.8 240.0L1423.9 255.2L1424.0 216.7L1424.1 249.0L1424.2 256.4L1424.3 179.4L1424.4 283.9L1424.5 193.7L1424.6 212.1L1424.6 261.3L1424.7 269.6L1424.8 204.1L1424.9 215.1L1425.0 240.1L1425.1 271.9L1425.2 245.0L1425.3 216.8L1425.4 283.3L1425.4 214.7L1425.5 217.0L1425.6 280.2L1425.7 208.6L1425.8 185.2L1425.9 209.1L1426.0 238.6L1426.1 226.1L1426.1 185.0L1426.2 204.6L1426.3 254.1L1426.4 245.9L1426.5 217.6L1426.6 208.1L1426.7 228.8L1426.8 187.7L1426.8 218.3L1426.9 235.1L1427.0 241.5L1427.1 208.0L1427.2 176.0L1427.3 216.0L1427.4 223.8L1427.5 223.6L1427.5 200.8L1427.6 208.8L1427.7 220.2L1427.8 201.9L1427.9 215.2L1428.0 182.9L1428.1 221.2L1428.2 214.3L1428.2 259.6L1428.3 253.2L1428.4 177.8L1428.5 209.2L1428.6 197.0L1428.7 210.9L1428.8 210.0L1428.8 186.6L1428.9 205.3L1429.0 208.7L1429.1 258.0L1429.2 231.6L1429.3 221.6L1429.4 199.7L1429.4 252.9L1429.5 183.6L1429.6 269.2L1429.7 256.7L1429.8 197.8L1429.9 188.2L1429.9 224.4L1430.0 229.5L1430.1 219.9L1430.2 237.4L1430.3 246.5L1430.4 191.3L1430.5 226.8L1430.5 198.6L1430.6 272.2L1430.7 246.3L1430.8 229.1L1430.9 214.0L1431.0 234.2L1431.0 180.3L1431.1 230.6L1431.2 198.0L1431.3 215.3L1431.4 215.2L1431.5 240.1L1431.6 207.5L1431.6 211.8L1431.7 209.7L1431.8 222.7L1431.9 193.5L1432.0 230.5L1432.1 203.6L1432.1 227.7L1432.2 243.7L1432.3 247.7L1432.4 200.5L1432.5 236.3L1432.6 222.6L1432.6 188.7L1432.7 198.9L1432.8 197.3L1432.9 207.6L1433.0 210.7L1433.1 219.9L1433.1 223.4L1433.2 210.8L1433.3 257.6L1433.4 236.0L1433.5 267.0L1433.6 229.1L1433.6 220.2L1433.7 224.6L1433.8 193.2L1433.9 220.5L1434.0 202.0L1434.0 294.0L1434.1 254.8L1434.2 206.8L1434.3 225.7L1434.4 235.3L1434.5 236.4L1434.5 227.0L1434.6 220.7L1434.7 262.7L1434.8 213.2L1434.9 184.8L1434.9 244.5L1435.0 247.6L1435.1 187.1L1435.2 214.3L1435.3 226.5L1435.4 204.5L1435.4 246.5L1435.5 199.9L1435.6 224.0L1435.7 257.7L1435.8 248.2L1435.8 198.3L1435.9 206.8L1436.0 193.3L1436.1 212.2L1436.2 288.8L1436.2 186.0L1436.3 211.8L1436.4 214.9L1436.5 218.5L1436.6 208.9L1436.6 229.9L1436.7 199.3L1436.8 237.1L1436.9 218.5L1437.0 230.8L1437.0 236.5L1437.1 213.3L1437.2 211.1L1437.3 243.0L1437.4 215.9L1437.4 221.4L1437.5 227.9L1437.6 204.5L1437.7 248.8L1437.8 194.4L1437.8 275.1L1437.9 230.5L1438.0 204.3L1438.1 242.4L1438.2 246.2L1438.2 217.7L1438.3 230.2L1438.4 189.6L1438.5 219.6L1438.6 284.2L1438.6 185.6L1438.7 214.5L1438.8 239.4L1438.9 208.0L1439.0 187.2L1439.0 216.2L1439.1 264.6L1439.2 246.5L1439.3 277.1L1439.3 192.7L1439.4 205.7L1439.5 267.2L1439.6 278.4L1439.7 218.7L1439.7 180.6L1439.8 225.3L1439.9 255.9L1440.0 213.3L1440.1 263.5L1440.1 182.5L1440.2 239.9L1440.3 194.1L1440.4 259.4L1440.4 219.2L1440.5 238.2L1440.6 188.5L1440.7 232.4L1440.8 196.5L1440.8 217.6L1440.9 222.0L1441.0 243.3L1441.1 215.9L1441.1 196.7L1441.2 230.7L1441.3 187.4L1441.4 196.9L1441.5 220.8L1441.5 220.0L1441.6 193.5L1441.7 196.0L1441.8 240.7L1441.8 230.9L1441.9 212.3L1442.0 250.1L1442.1 201.5L1442.1 243.0L1442.2 196.6L1442.3 256.5L1442.4 224.2L1442.5 212.9L1442.5 203.6L1442.6 196.0L1442.7 213.3L1442.8 235.9L1442.8 228.8L1442.9 218.8L1443.0 203.9L1443.1 258.6L1443.1 206.4L1443.2 206.7L1443.3 235.6L1443.4 225.5L1443.4 213.3L1443.5 209.9L1443.6 270.3L1443.7 220.0L1443.7 195.1L1443.8 209.9L1443.9 276.1L1444.0 196.4L1444.0 224.4L1444.1 181.0L1444.2 241.7L1444.3 214.1L1444.3 239.2L1444.4 249.0L1444.5 226.9L1444.6 192.3L1444.7 208.4L1444.7 216.0L1444.8 240.2L1444.9 207.2L1445.0 202.1L1445.0 203.5L1445.1 220.4L1445.2 239.2L1445.3 273.4L1445.3 224.7L1445.4 246.9L1445.5 268.7L1445.5 226.7L1445.6 266.0L1445.7 221.0L1445.8 221.8L1445.8 221.8L1445.9 200.8L1446.0 194.9L1446.1 235.2L1446.1 188.2L1446.2 221.2L1446.3 302.1L1446.4 213.8L1446.4 235.0L1446.5 214.3L1446.6 211.7L1446.7 232.2L1446.7 243.6L1446.8 203.8L1446.9 232.5L1447.0 210.0L1447.0 185.7L1447.1 217.3L1447.2 233.1L1447.3 216.7L1447.3 231.2L1447.4 233.4L1447.5 217.9L1447.5 229.9L1447.6 213.1L1447.7 287.7L1447.8 236.0L1447.8 183.2L1447.9 253.2L1448.0 248.3L1448.1 253.0L1448.1 219.0L1448.2 193.7L1448.3 236.0L1448.4 215.3L1448.4 216.5L1448.5 202.6L1448.6 319.0L1448.6 218.3L1448.7 203.4L1448.8 221.3L1448.9 252.5L1448.9 232.3L1449.0 253.7L1449.1 260.0L1449.1 262.2L1449.2 249.7L1449.3 241.0L1449.4 224.7L1449.4 229.4L1449.5 222.4L1449.6 212.5L1449.7 242.0L1449.7 194.6L1449.8 255.1L1449.9 190.2L1449.9 215.4L1450.0 218.5L1450.1 240.0L1450.2 231.0L1450.2 208.4L1450.3 256.1L1450.4 259.8L1450.4 218.1L1450.5 228.6L1450.6 272.3L1450.7 224.9L1450.7 252.0L1450.8 188.8L1450.9 197.1L1450.9 257.1L1451.0 216.8L1451.1 220.0L1451.2 217.1L1451.2 209.0L1451.3 218.7L1451.4 282.4L1451.4 300.5L1451.5 198.6L1451.6 223.1L1451.7 221.0L1451.7 199.8L1451.8 206.9L1451.9 208.8L1451.9 201.5L1452.0 241.9L1452.1 252.2L1452.2 229.2L1452.2 295.8L1452.3 287.5L1452.4 205.3L1452.4 228.1L1452.5 207.4L1452.6 224.1L1452.6 218.7L1452.7 224.4L1452.8 276.2L1452.9 249.2L1452.9 210.5L1453.0 189.9L1453.1 230.7L1453.1 214.6L1453.2 228.4L1453.3 215.8L1453.3 200.0L1453.4 202.1L1453.5 208.9L1453.6 241.4L1453.6 210.6L1453.7 311.0L1453.8 241.3L1453.8 259.1L1453.9 218.8L1454.0 218.8L1454.0 189.2L1454.1 227.7L1454.2 256.0L1454.3 195.8L1454.3 221.2L1454.4 246.9L1454.5 244.6L1454.5 234.1L1454.6 214.5L1454.7 207.0L1454.7 207.0L1454.8 197.2L1454.9 231.6L1454.9 213.9L1455.0 237.6L1455.1 256.1L1455.1 183.6L1455.2 209.2L1455.3 226.1L1455.4 221.2L1455.4 229.7L1455.5 263.0L1455.6 204.1L1455.6 220.8L1455.7 195.2L1455.8 218.4L1455.8 217.1L1455.9 184.4L1456.0 209.2L1456.0 246.0L1456.1 221.5L1456.2 217.4L1456.2 218.3L1456.3 239.9L1456.4 196.0L1456.4 222.7L1456.5 193.6L1456.6 242.1L1456.7 214.6L1456.7 206.9L1456.8 213.2L1456.9 230.7L1456.9 252.4L1457.0 240.1L1457.1 295.6L1457.1 208.3L1457.2 203.0L1457.3 224.2L1457.3 197.5L1457.4 202.4L1457.5 229.3L1457.5 252.5L1457.6 235.8L1457.7 190.3L1457.7 277.2L1457.8 242.6L1457.9 227.0L1457.9 228.0L1458.0 212.5L1458.1 209.0L1458.1 235.1L1458.2 199.8L1458.3 247.9L1458.3 222.4L1458.4 228.1L1458.5 230.7L1458.5 258.6L1458.6 183.9L1458.7 221.7L1458.7 195.8L1458.8 197.9L1458.9 281.6L1458.9 186.4L1459.0 195.6L1459.1 249.6L1459.1 227.5L1459.2 195.6L1459.3 269.9L1459.3 221.9L1459.4 283.5L1459.5 194.8L1459.5 231.0L1459.6 197.4L1459.7 200.0L1459.7 206.4L1459.8 211.6L1459.9 211.5L1459.9 208.2L1460.0 204.2L1460.1 201.9L1460.1 216.3L1460.2 210.8L1460.3 194.6L1460.3 198.2L1460.4 221.6L1460.5 208.4L1460.5 200.3L1460.6 249.2L1460.7 207.5L1460.7 248.2L1460.8 212.7L1460.9 193.8L1460.9 220.7L1461.0 211.2L1461.1 191.4L1461.1 193.4L1461.2 208.3L1461.3 247.8L1461.3 216.3L1461.4 237.2L1461.4 215.0L1461.5 211.3L1461.6 264.7L1461.6 287.1L1461.7 213.0L1461.8 250.5L1461.8 216.5L1461.9 215.8L1462.0 242.4L1462.0 236.1L1462.1 234.9L1462.2 254.1L1462.2 183.5L1462.3 272.1L1462.4 229.2L1462.4 275.9L1462.5 259.4L1462.6 229.8L1462.6 225.9L1462.7 258.7L1462.7 255.4L1462.8 207.0L1462.9 188.6L1462.9 221.4L1463.0 223.5L1463.1 197.5L1463.1 256.9L1463.2 283.0L1463.3 235.5L1463.3 223.2L1463.4 209.5L1463.5 201.8L1463.5 232.3L1463.6 192.0L1463.6 239.3L1463.7 191.8L1463.8 264.7L1463.8 221.8L1463.9 234.5L1464.0 256.1L1464.0 274.1L1464.1 202.2L1464.2 211.2L1464.2 262.5L1464.3 210.9L1464.4 221.4L1464.4 230.7L1464.5 249.0L1464.5 236.3L1464.6 237.2L1464.7 212.1L1464.7 263.8L1464.8 244.4L1464.9 302.2L1464.9 241.8L1465.0 258.9L1465.1 218.9L1465.1 243.4L1465.2 225.9L1465.2 211.0L1465.3 340.4L1465.4 305.3L1465.4 224.2L1465.5 251.6L1465.6 268.2L1465.6 220.0L1465.7 225.1L1465.7 283.3L1465.8 236.9L1465.9 244.0L1465.9 266.7L1466.0 243.1L1466.1 250.4L1466.1 232.3L1466.2 296.8L1466.2 282.5L1466.3 240.7L1466.4 272.6L1466.4 301.6L1466.5 301.8L1466.6 211.8L1466.6 248.1L1466.7 254.8L1466.7 233.3L1466.8 239.0L1466.9 242.4L1466.9 249.4L1467.0 262.3L1467.1 283.7L1467.1 287.6L1467.2 275.9L1467.2 262.9L1467.3 227.1L1467.4 247.4L1467.4 204.6L1467.5 196.1L1467.6 229.4L1467.6 249.5L1467.7 248.9L1467.7 252.9L1467.8 336.2L1467.9 276.0L1467.9 240.2L1468.0 236.4L1468.1 250.5L1468.1 246.4L1468.2 241.6L1468.2 277.2L1468.3 268.3L1468.4 235.8L1468.4 226.4L1468.5 264.4L1468.5 274.4L1468.6 253.0L1468.7 280.7L1468.7 262.2L1468.8 254.8L1468.9 236.7L1468.9 247.6L1469.0 262.6L1469.0 300.2L1469.1 251.4L1469.2 216.3L1469.2 239.0L1469.3 272.5L1469.3 264.1L1469.4 238.4L1469.5 257.5L1469.5 298.7L1469.6 237.7L1469.6 278.5L1469.7 249.0L1469.8 240.1L1469.8 313.3L1469.9 246.1L1470.0 243.0L1470.0 340.3L1470.1 244.0L1470.1 232.4L1470.2 221.3L1470.3 278.1L1470.3 276.7L1470.4 240.9L1470.4 262.1L1470.5 262.8L1470.6 289.2L1470.6 211.5L1470.7 244.0L1470.7 213.0L1470.8 230.6L1470.9 258.3L1470.9 260.9L1471.0 241.3L1471.0 226.7L1471.1 326.3L1471.2 238.6L1471.2 327.4L1471.3 334.3L1471.3 277.6L1471.4 241.9L1471.5 242.6L1471.5 228.8L1471.6 270.3L1471.6 279.9L1471.7 270.8L1471.8 264.6L1471.8 254.6L1471.9 262.5L1471.9 239.2L1472.0 263.6L1472.1 234.8L1472.1 283.4L1472.2 242.3L1472.2 330.3L1472.3 385.4" stroke="#ee3a3a" stroke-dasharray="15.5 18.6"/>
</g>
<path d="M923.30 7.73V449.80H1472.30" fill="none" stroke="#000" stroke-width="3.9" stroke-linecap="square" stroke-linejoin="miter"/>
<path d="M923.30 436.53h-7.1M923.30 417.65h-7.1M923.30 404.26h-7.1M923.30 393.87h-7.1M923.30 385.38h-7.1M923.30 378.21h-7.1M923.30 371.99h-7.1M923.30 366.51h-7.1M923.30 361.60h-13.8M923.30 329.33h-7.1M923.30 310.45h-7.1M923.30 297.06h-7.1M923.30 286.67h-7.1M923.30 278.18h-7.1M923.30 271.01h-7.1M923.30 264.79h-7.1M923.30 259.31h-7.1M923.30 254.40h-13.8M923.30 222.13h-7.1M923.30 203.25h-7.1M923.30 189.86h-7.1M923.30 179.47h-7.1M923.30 170.98h-7.1M923.30 163.81h-7.1M923.30 157.59h-7.1M923.30 152.11h-7.1M923.30 147.20h-13.8M923.30 114.93h-7.1M923.30 96.05h-7.1M923.30 82.66h-7.1M923.30 72.27h-7.1M923.30 63.78h-7.1M923.30 56.61h-7.1M923.30 50.39h-7.1M923.30 44.91h-7.1M923.30 40.00h-13.8M923.30 7.73h-7.1M923.30 449.80v13.8M1005.93 449.80v7.1M1054.27 449.80v7.1M1088.57 449.80v7.1M1115.17 449.80v7.1M1136.90 449.80v7.1M1155.28 449.80v7.1M1171.20 449.80v7.1M1185.24 449.80v7.1M1197.80 449.80v13.8M1280.43 449.80v7.1M1328.77 449.80v7.1M1363.07 449.80v7.1M1389.67 449.80v7.1M1411.40 449.80v7.1M1429.78 449.80v7.1M1445.70 449.80v7.1M1459.74 449.80v7.1M1472.30 449.80v13.8" fill="none" stroke="#000" stroke-width="3.9"/>
<text x="898.8" y="52.2" font-size="36" text-anchor="end" >10.00</text>
<text x="898.8" y="159.4" font-size="36" text-anchor="end" >1.00</text>
<text x="898.8" y="266.6" font-size="36" text-anchor="end" >0.10</text>
<text x="898.8" y="373.8" font-size="36" text-anchor="end" >0.01</text>
<text x="923.3" y="500.6" font-size="36" text-anchor="middle" >1</text>
<text x="1197.8" y="500.6" font-size="36" text-anchor="middle" >10</text>
<text x="1472.3" y="500.6" font-size="36" text-anchor="middle" >100</text>
<text x="1197.8" y="542.3" font-size="36.5" text-anchor="middle" >Frequency (Hz)</text>
<clipPath id="clipc"><rect x="522.7" y="689.9295844648211" width="551.0" height="472.0704155351789"/></clipPath>
<g clip-path="url(#clipc)" fill="none" stroke-width="4.0" stroke-linejoin="round" stroke-linecap="round">
<path d="M522.7 936.7L528.5 909.5L534.1 956.1L539.4 899.8L544.4 896.0L549.3 903.0L554.0 910.0L558.5 897.0L562.8 885.3L567.0 894.0L571.0 915.4L574.9 875.6L578.7 868.0L582.4 865.9L586.0 920.0L589.4 887.3L592.8 880.0L596.0 870.6L599.2 907.1L602.3 860.7L605.3 864.3L608.3 868.0L611.1 871.6L614.0 899.8L616.7 859.0L619.4 857.0L622.0 880.0L624.6 905.0L627.1 890.0L629.5 911.0L631.9 870.0L634.3 880.0L636.6 885.0L638.9 890.0L641.1 860.0L643.3 827.8L645.4 860.0L647.6 880.0L649.6 915.0L651.7 918.0L653.7 843.4L655.6 934.2L657.6 870.8L659.5 879.4L661.4 935.4L663.2 898.0L665.0 898.4L666.8 873.6L668.6 842.7L670.3 976.2L672.0 857.4L673.7 947.0L675.4 888.3L677.0 987.5L678.7 892.0L680.3 978.9L681.9 907.4L683.4 878.8L684.9 930.1L686.5 921.5L688.0 923.0L689.4 900.6L690.9 879.3L692.4 918.8L693.8 867.6L695.2 925.5L696.6 919.1L698.0 895.1L699.3 941.9L700.7 879.6L702.0 897.4L703.3 942.5L704.6 897.3L705.9 930.4L707.2 919.1L708.5 984.0L709.7 1024.4L710.9 932.7L712.2 945.9L713.4 863.0L714.6 840.5L715.8 872.6L716.9 902.1L718.1 915.5L719.2 909.0L720.4 996.0L721.5 895.8L722.6 903.0L723.7 858.4L724.8 904.9L725.9 924.3L727.0 982.6L728.1 977.6L729.1 897.9L730.2 1027.8L731.2 886.1L732.3 951.1L733.3 883.4L734.3 905.1L735.3 873.5L736.3 958.7L737.3 952.7L738.3 882.5L739.2 916.2L740.2 894.0L741.2 913.4L742.1 919.0L743.1 879.5L744.0 961.0L744.9 865.4L745.8 840.5L746.8 867.3L747.7 862.3L748.6 889.9L749.5 902.4L750.3 981.5L751.2 968.3L752.1 914.2L753.0 912.1L753.8 931.9L754.7 960.8L755.5 903.1L756.4 948.7L757.2 908.3L758.0 925.1L758.9 940.9L759.7 917.1L760.5 935.4L761.3 936.3L762.1 864.6L762.9 872.4L763.7 888.1L764.5 894.3L765.3 893.5L766.0 875.1L766.8 895.1L767.6 927.1L768.3 968.9L769.1 906.3L769.9 907.7L770.6 911.8L771.3 935.7L772.1 949.2L772.8 989.1L773.5 909.0L774.3 939.1L775.0 906.6L775.7 956.0L776.4 897.9L777.1 965.9L777.8 920.1L778.5 941.8L779.2 922.8L779.9 905.4L780.6 919.6L781.3 870.4L782.0 877.0L782.6 922.9L783.3 918.6L784.0 958.6L784.6 871.4L785.3 925.6L786.0 920.1L786.6 929.4L787.3 943.4L787.9 923.2L788.5 926.6L789.2 920.7L789.8 931.5L790.5 901.8L791.1 926.0L791.7 937.5L792.3 897.2L793.0 1037.9L793.6 946.3L794.2 998.6L794.8 906.1L795.4 917.8L796.0 903.8L796.6 880.7L797.2 872.7L797.8 902.9L798.4 965.7L799.0 895.8L799.6 940.3L800.1 903.4L800.7 884.6L801.3 898.8L801.9 939.4L802.4 923.4L803.0 927.4L803.6 919.6L804.1 906.0L804.7 922.6L805.3 983.9L805.8 900.2L806.4 946.2L806.9 904.5L807.5 899.7L808.0 910.3L808.6 889.5L809.1 989.7L809.6 913.7L810.2 898.5L810.7 871.7L811.2 885.2L811.8 877.4L812.3 918.1L812.8 933.3L813.3 1025.2L813.9 974.8L814.4 904.8L814.9 934.5L815.4 984.8L815.9 891.6L816.4 966.5L816.9 917.0L817.4 954.2L817.9 911.6L818.4 936.3L818.9 926.0L819.4 892.4L819.9 951.4L820.4 961.1L820.9 924.3L821.4 917.0L821.9 997.2L822.4 916.1L822.8 973.1L823.3 919.6L823.8 916.2L824.3 915.4L824.8 887.0L825.2 909.0L825.7 905.3L826.2 887.6L826.6 929.8L827.1 921.9L827.6 879.9L828.0 899.1L828.5 985.4L828.9 896.9L829.4 917.0L829.8 1000.0L830.3 894.9L830.7 919.9L831.2 958.9L831.6 878.4L832.1 889.3L832.5 990.2L833.0 944.1L833.4 908.9L833.9 925.8L834.3 908.0L834.7 977.9L835.2 1000.1L835.6 890.3L836.0 929.6L836.5 902.8L836.9 920.3L837.3 951.2L837.7 947.9L838.2 903.6L838.6 915.1L839.0 922.2L839.4 919.3L839.8 944.7L840.3 958.0L840.7 915.6L841.1 923.7L841.5 890.5L841.9 918.1L842.3 999.3L842.7 928.7L843.1 933.3L843.5 937.7L843.9 934.3L844.3 961.0L844.7 910.3L845.1 914.8L845.5 977.7L845.9 928.9L846.3 1007.7L846.7 900.0L847.1 958.1L847.5 927.0L847.9 927.1L848.3 976.5L848.7 899.4L849.1 930.5L849.4 910.1L849.8 917.4L850.2 963.8L850.6 921.7L851.0 881.7L851.4 878.9L851.7 1051.1L852.1 1005.2L852.5 945.9L852.9 906.2L853.2 943.8L853.6 905.7L854.0 920.2L854.3 886.3L854.7 892.8L855.1 903.0L855.4 905.2L855.8 968.2L856.2 910.6L856.5 965.9L856.9 876.5L857.3 891.2L857.6 891.8L858.0 993.7L858.3 964.7L858.7 880.9L859.0 993.8L859.4 909.6L859.8 912.7L860.1 937.8L860.5 907.9L860.8 1022.4L861.2 920.6L861.5 936.8L861.9 937.0L862.2 914.4L862.5 953.5L862.9 1053.6L863.2 939.2L863.6 896.0L863.9 963.9L864.3 946.1L864.6 930.5L864.9 945.0L865.3 913.2L865.6 916.5L865.9 932.8L866.3 894.2L866.6 939.0L866.9 906.8L867.3 912.9L867.6 983.7L867.9 939.1L868.3 912.2L868.6 950.1L868.9 1055.0L869.2 983.2L869.6 963.1L869.9 919.3L870.2 939.0L870.5 939.2L870.9 897.6L871.2 949.7L871.5 933.9L871.8 934.0L872.1 955.0L872.5 896.4L872.8 910.3L873.1 1043.5L873.4 917.2L873.7 913.8L874.0 895.8L874.3 918.3L874.7 937.6L875.0 890.2L875.3 916.7L875.6 914.2L875.9 905.5L876.2 962.8L876.5 1012.4L876.8 989.6L877.1 928.4L877.4 829.5L877.7 921.5L878.0 935.0L878.3 924.0L878.6 955.0L878.9 956.5L879.2 984.0L879.5 930.8L879.8 913.3L880.1 988.5L880.4 980.9L880.7 903.5L881.0 911.3L881.3 947.6L881.6 968.1L881.9 1011.5L882.2 886.6L882.5 909.7L882.8 927.9L883.1 938.0L883.4 961.8L883.6 938.6L883.9 935.5L884.2 914.2L884.5 947.1L884.8 941.0L885.1 1003.2L885.4 910.3L885.6 904.2L885.9 923.2L886.2 921.2L886.5 930.8L886.8 908.9L887.1 953.5L887.3 969.2L887.6 880.2L887.9 989.3L888.2 900.8L888.5 920.2L888.7 933.8L889.0 929.0L889.3 913.2L889.6 956.5L889.8 972.5L890.1 914.3L890.4 909.0L890.7 936.7L890.9 907.6L891.2 1001.0L891.5 975.1L891.7 972.0L892.0 928.6L892.3 964.4L892.5 927.3L892.8 932.3L893.1 903.6L893.3 893.2L893.6 950.7L893.9 912.2L894.1 1010.5L894.4 941.1L894.7 942.1L894.9 985.6L895.2 920.7L895.5 884.9L895.7 914.7L896.0 932.8L896.2 908.9L896.5 919.7L896.8 958.6L897.0 927.0L897.3 924.4L897.5 916.2L897.8 938.9L898.0 1062.3L898.3 910.9L898.5 974.7L898.8 963.7L899.1 945.0L899.3 940.1L899.6 938.3L899.8 904.5L900.1 942.4L900.3 1049.2L900.6 958.2L900.8 934.3L901.1 932.6L901.3 980.5L901.6 833.3L901.8 914.2L902.1 1012.2L902.3 950.4L902.6 972.4L902.8 939.9L903.0 895.9L903.3 940.2L903.5 948.3L903.8 903.5L904.0 935.9L904.3 1004.2L904.5 900.0L904.8 897.3L905.0 905.5L905.2 953.7L905.5 986.7L905.7 911.1L906.0 976.0L906.2 916.9L906.4 940.9L906.7 963.4L906.9 907.5L907.1 936.2L907.4 980.6L907.6 927.2L907.9 968.3L908.1 934.7L908.3 1005.0L908.6 930.7L908.8 972.5L909.0 902.8L909.3 877.4L909.5 910.8L909.7 931.2L910.0 931.3L910.2 919.1L910.4 932.4L910.7 954.6L910.9 944.9L911.1 919.5L911.3 957.8L911.6 957.6L911.8 932.9L912.0 935.7L912.3 913.9L912.5 975.1L912.7 928.2L912.9 923.6L913.2 999.2L913.4 924.6L913.6 916.2L913.8 930.3L914.1 940.4L914.3 948.7L914.5 931.6L914.7 955.5L914.9 893.8L915.2 998.7L915.4 936.4L915.6 935.5L915.8 935.4L916.1 922.9L916.3 972.3L916.5 936.0L916.7 906.9L916.9 928.5L917.1 938.5L917.4 929.3L917.6 907.8L917.8 987.3L918.0 912.9L918.2 960.9L918.4 934.2L918.7 939.6L918.9 955.4L919.1 892.5L919.3 939.2L919.5 937.0L919.7 934.8L919.9 885.0L920.2 890.2L920.4 939.5L920.6 936.9L920.8 928.1L921.0 910.0L921.2 930.3L921.4 955.4L921.6 973.8L921.8 965.8L922.1 885.3L922.3 928.6L922.5 939.8L922.7 973.1L922.9 945.8L923.1 971.3L923.3 957.3L923.5 905.2L923.7 1036.7L923.9 945.4L924.1 949.3L924.3 923.1L924.5 992.1L924.7 1069.4L924.9 929.4L925.2 940.2L925.4 904.2L925.6 966.3L925.8 953.2L926.0 921.4L926.2 976.2L926.4 945.0L926.6 1001.0L926.8 974.7L927.0 909.4L927.2 921.9L927.4 979.8L927.6 898.6L927.8 912.8L928.0 997.8L928.2 973.4L928.4 923.5L928.6 929.7L928.8 900.4L929.0 912.6L929.2 892.0L929.4 948.8L929.6 950.8L929.7 914.5L929.9 977.4L930.1 884.0L930.3 950.0L930.5 955.8L930.7 920.0L930.9 972.7L931.1 935.4L931.3 941.9L931.5 913.0L931.7 924.1L931.9 938.8L932.1 962.5L932.3 939.0L932.5 947.0L932.7 966.5L932.8 935.1L933.0 894.9L933.2 947.3L933.4 1008.5L933.6 901.3L933.8 939.7L934.0 955.6L934.2 941.7L934.4 911.2L934.6 943.7L934.7 908.3L934.9 907.1L935.1 930.9L935.3 918.5L935.5 943.1L935.7 1009.0L935.9 921.8L936.0 1051.9L936.2 931.9L936.4 978.7L936.6 944.7L936.8 970.2L937.0 984.5L937.2 979.9L937.3 916.2L937.5 990.6L937.7 913.6L937.9 964.6L938.1 903.7L938.3 928.7L938.4 914.9L938.6 953.3L938.8 929.8L939.0 948.6L939.2 922.6L939.4 936.0L939.5 993.6L939.7 951.3L939.9 942.5L940.1 963.9L940.3 1063.1L940.4 931.5L940.6 913.0L940.8 924.7L941.0 917.7L941.1 936.8L941.3 966.0L941.5 969.1L941.7 913.0L941.9 918.4L942.0 933.7L942.2 981.1L942.4 942.7L942.6 947.0L942.7 928.8L942.9 947.9L943.1 952.6L943.3 932.2L943.4 952.3L943.6 967.8L943.8 933.5L944.0 940.9L944.1 915.8L944.3 926.7L944.5 904.0L944.7 906.9L944.8 910.9L945.0 993.3L945.2 965.5L945.3 951.2L945.5 974.0L945.7 920.3L945.9 933.7L946.0 951.1L946.2 983.7L946.4 947.7L946.5 915.8L946.7 905.2L946.9 903.3L947.1 968.6L947.2 992.7L947.4 917.9L947.6 976.1L947.7 904.9L947.9 980.3L948.1 962.6L948.2 942.9L948.4 943.2L948.6 924.4L948.7 1004.5L948.9 928.5L949.1 928.0L949.2 970.9L949.4 951.2L949.6 946.4L949.7 950.8L949.9 914.9L950.1 914.8L950.2 1036.5L950.4 963.0L950.6 954.6L950.7 950.1L950.9 926.0L951.1 919.6L951.2 952.1L951.4 895.9L951.5 902.4L951.7 934.2L951.9 952.3L952.0 1004.5L952.2 942.1L952.4 931.6L952.5 1016.4L952.7 931.0L952.8 944.3L953.0 944.0L953.2 906.4L953.3 915.0L953.5 895.2L953.7 974.6L953.8 937.1L954.0 961.3L954.1 941.9L954.3 945.6L954.5 986.6L954.6 938.3L954.8 914.8L954.9 960.3L955.1 903.6L955.2 947.3L955.4 936.6L955.6 940.8L955.7 966.6L955.9 982.1L956.0 1021.9L956.2 973.0L956.4 978.9L956.5 1008.0L956.7 938.0L956.8 935.0L957.0 903.5L957.1 943.0L957.3 909.4L957.4 925.6L957.6 940.1L957.8 940.1L957.9 971.3L958.1 943.9L958.2 964.6L958.4 902.4L958.5 966.2L958.7 971.0L958.8 898.7L959.0 936.0L959.1 957.9L959.3 919.4L959.4 977.2L959.6 1030.6L959.8 974.0L959.9 956.5L960.1 974.1L960.2 1009.1L960.4 1017.8L960.5 934.9L960.7 959.1L960.8 915.1L961.0 1000.6L961.1 910.3L961.3 931.8L961.4 952.8L961.6 927.1L961.7 941.4L961.9 936.5L962.0 961.2L962.2 948.6L962.3 981.4L962.5 957.1L962.6 966.9L962.8 901.0L962.9 962.3L963.1 999.5L963.2 920.0L963.4 974.8L963.5 975.0L963.7 914.4L963.8 957.0L963.9 934.2L964.1 938.4L964.2 1072.4L964.4 953.5L964.5 946.3L964.7 977.3L964.8 940.2L965.0 919.9L965.1 1041.3L965.3 922.9L965.4 998.0L965.6 1037.0L965.7 946.1L965.8 919.2L966.0 945.6L966.1 951.9L966.3 976.5L966.4 1082.3L966.6 930.1L966.7 907.1L966.9 1044.1L967.0 892.4L967.1 1025.3L967.3 996.7L967.4 998.5L967.6 941.9L967.7 926.9L967.9 957.0L968.0 944.2L968.1 967.8L968.3 926.4L968.4 947.1L968.6 1003.1L968.7 956.6L968.8 1008.4L969.0 972.8L969.1 921.5L969.3 961.8L969.4 926.1L969.6 914.3L969.7 958.2L969.8 898.9L970.0 911.5L970.1 941.8L970.3 926.0L970.4 964.1L970.5 933.8L970.7 931.1L970.8 954.2L970.9 880.9L971.1 866.4L971.2 890.6L971.4 1012.0L971.5 919.7L971.6 912.5L971.8 974.1L971.9 943.1L972.1 912.1L972.2 953.0L972.3 937.5L972.5 929.4L972.6 964.9L972.7 972.4L972.9 933.1L973.0 965.2L973.1 930.5L973.3 997.6L973.4 943.5L973.6 949.1L973.7 925.8L973.8 948.5L974.0 934.7L974.1 979.3L974.2 922.9L974.4 954.0L974.5 944.2L974.6 1005.9L974.8 964.7L974.9 956.6L975.0 924.2L975.2 919.8L975.3 960.4L975.4 1008.9L975.6 917.2L975.7 945.9L975.8 942.2L976.0 906.0L976.1 962.4L976.2 949.2L976.4 950.7L976.5 987.5L976.6 962.8L976.8 933.1L976.9 1031.2L977.0 1013.3L977.2 971.4L977.3 923.3L977.4 966.1L977.6 894.9L977.7 938.5L977.8 950.3L978.0 952.7L978.1 986.8L978.2 961.5L978.3 970.3L978.5 953.1L978.6 980.7L978.7 932.0L978.9 1013.0L979.0 999.3L979.1 1019.0L979.3 1037.8L979.4 990.7L979.5 942.4L979.6 1022.2L979.8 996.9L979.9 958.4L980.0 924.1L980.2 1062.8L980.3 937.1L980.4 933.3L980.5 967.5L980.7 1010.5L980.8 943.2L980.9 937.7L981.1 997.1L981.2 970.4L981.3 970.9L981.4 974.1L981.6 1003.3L981.7 998.7L981.8 944.8L981.9 954.0L982.1 1126.3L982.2 1013.2L982.3 972.2L982.4 951.9L982.6 1033.6L982.7 949.2L982.8 966.7L983.0 980.8L983.1 1005.3L983.2 996.5L983.3 994.4L983.5 943.6L983.6 957.5L983.7 1006.2L983.8 983.2L984.0 1049.9L984.1 925.9L984.2 1116.8L984.3 976.2L984.4 956.0L984.6 932.2L984.7 926.5L984.8 1148.9L984.9 1020.8L985.1 1116.1L985.2 1036.9L985.3 973.4L985.4 947.1L985.6 986.5L985.7 953.5L985.8 943.7L985.9 990.5L986.0 993.0L986.2 1141.2L986.3 1033.4L986.4 912.7L986.5 947.2L986.7 994.3L986.8 1015.0L986.9 1156.8L987.0 990.0L987.1 979.4L987.3 906.1L987.4 973.7L987.5 1041.3L987.6 923.8L987.7 981.0L987.9 1077.8L988.0 1086.7L988.1 908.2L988.2 954.3L988.3 941.5L988.5 1104.8L988.6 1012.0L988.7 947.4L988.8 958.2L988.9 988.3L989.1 909.5L989.2 933.9L989.3 1002.0L989.4 946.6L989.5 939.4L989.7 1028.3L989.8 986.0L989.9 1009.1L990.0 992.8L990.1 960.1L990.3 930.3L990.4 976.7L990.5 960.3L990.6 978.5L990.7 970.8L990.8 984.5L991.0 911.1L991.1 886.0L991.2 866.4L991.3 890.4L991.4 991.6L991.5 909.5L991.7 949.9L991.8 897.9L991.9 921.3L992.0 907.6L992.1 923.9L992.2 929.3L992.4 911.4L992.5 960.0L992.6 954.0L992.7 963.3L992.8 1038.2L992.9 930.6L993.1 927.5L993.2 932.1L993.3 978.7L993.4 959.2L993.5 969.5L993.6 926.4L993.7 917.6L993.9 943.6L994.0 996.5L994.1 927.8L994.2 970.0L994.3 962.9L994.4 935.3L994.5 962.3L994.7 1000.5L994.8 923.5L994.9 927.2L995.0 936.4L995.1 922.1L995.2 936.9L995.3 964.8L995.5 982.7L995.6 957.4L995.7 946.8L995.8 998.5L995.9 920.6L996.0 960.0L996.1 934.5L996.2 1003.4L996.4 920.8L996.5 925.3L996.6 913.5L996.7 939.2L996.8 958.1L996.9 927.6L997.0 989.2L997.1 970.8L997.2 925.8L997.4 949.7L997.5 954.2L997.6 914.8L997.7 953.2L997.8 951.1L997.9 873.7L998.0 855.4L998.1 873.8L998.2 944.0L998.4 978.3L998.5 912.6L998.6 919.9L998.7 910.9L998.8 1039.3L998.9 963.0L999.0 909.3L999.1 975.3L999.2 935.2L999.3 898.0L999.5 905.0L999.6 922.1L999.7 901.1L999.8 915.8L999.9 905.0L1000.0 913.3L1000.1 909.2L1000.2 933.4L1000.3 969.8L1000.4 963.7L1000.5 940.3L1000.6 904.3L1000.8 1000.4L1000.9 904.6L1001.0 892.9L1001.1 959.1L1001.2 947.3L1001.3 960.0L1001.4 922.3L1001.5 981.8L1001.6 977.1L1001.7 900.4L1001.8 1004.7L1001.9 961.0L1002.0 973.4L1002.2 935.5L1002.3 964.1L1002.4 986.4L1002.5 982.5L1002.6 921.5L1002.7 913.5L1002.8 948.1L1002.9 932.6L1003.0 973.9L1003.1 932.9L1003.2 912.0L1003.3 927.5L1003.4 1007.9L1003.5 952.3L1003.6 912.4L1003.7 906.5L1003.8 880.9L1004.0 902.0L1004.1 936.8L1004.2 919.6L1004.3 915.3L1004.4 917.9L1004.5 937.9L1004.6 915.1L1004.7 905.7L1004.8 966.7L1004.9 947.3L1005.0 942.2L1005.1 917.8L1005.2 929.1L1005.3 977.0L1005.4 918.0L1005.5 929.7L1005.6 904.0L1005.7 926.6L1005.8 902.3L1005.9 958.9L1006.0 1070.9L1006.1 900.8L1006.2 924.2L1006.3 1000.8L1006.5 905.6L1006.6 964.0L1006.7 904.4L1006.8 930.8L1006.9 960.0L1007.0 960.7L1007.1 962.7L1007.2 920.9L1007.3 936.2L1007.4 905.6L1007.5 1052.1L1007.6 953.5L1007.7 925.3L1007.8 932.4L1007.9 939.2L1008.0 922.7L1008.1 920.7L1008.2 982.8L1008.3 907.5L1008.4 999.3L1008.5 936.0L1008.6 929.4L1008.7 930.0L1008.8 885.7L1008.9 919.6L1009.0 929.1L1009.1 893.7L1009.2 884.2L1009.3 880.5L1009.4 941.1L1009.5 881.0L1009.6 1000.3L1009.7 941.5L1009.8 950.5L1009.9 892.0L1010.0 931.8L1010.1 909.9L1010.2 986.0L1010.3 920.6L1010.4 909.0L1010.5 925.8L1010.6 918.1L1010.7 904.0L1010.8 957.2L1010.9 910.0L1011.0 981.9L1011.1 951.7L1011.2 970.4L1011.3 950.7L1011.4 975.5L1011.5 1002.1L1011.6 881.0L1011.7 912.5L1011.8 980.7L1011.9 933.3L1012.0 985.7L1012.1 926.9L1012.2 918.1L1012.3 964.4L1012.4 912.3L1012.5 922.6L1012.6 963.2L1012.7 921.2L1012.8 942.2L1012.9 902.7L1013.0 907.6L1013.1 1022.4L1013.2 906.1L1013.3 903.6L1013.4 881.7L1013.5 894.1L1013.6 921.2L1013.6 938.0L1013.7 973.6L1013.8 1035.0L1013.9 917.7L1014.0 928.0L1014.1 920.9L1014.2 925.3L1014.3 967.5L1014.4 921.5L1014.5 950.4L1014.6 967.6L1014.7 920.9L1014.8 915.9L1014.9 894.5L1015.0 942.5L1015.1 957.6L1015.2 938.6L1015.3 910.8L1015.4 945.3L1015.5 906.6L1015.6 958.1L1015.7 992.5L1015.8 914.1L1015.9 935.4L1016.0 923.4L1016.0 914.3L1016.1 974.9L1016.2 912.9L1016.3 955.9L1016.4 950.5L1016.5 895.4L1016.6 961.4L1016.7 916.9L1016.8 916.4L1016.9 921.9L1017.0 918.5L1017.1 920.0L1017.2 950.2L1017.3 911.8L1017.4 899.4L1017.5 950.3L1017.6 920.3L1017.7 928.6L1017.7 900.4L1017.8 940.8L1017.9 934.9L1018.0 936.9L1018.1 986.9L1018.2 889.4L1018.3 926.7L1018.4 884.6L1018.5 915.0L1018.6 937.2L1018.7 957.8L1018.8 908.0L1018.9 974.9L1019.0 982.8L1019.1 982.6L1019.1 919.8L1019.2 935.1L1019.3 922.6L1019.4 887.4L1019.5 907.2L1019.6 961.5L1019.7 899.5L1019.8 919.8L1019.9 939.5L1020.0 917.3L1020.1 930.8L1020.2 929.2L1020.3 894.0L1020.3 881.4L1020.4 925.5L1020.5 935.1L1020.6 928.2L1020.7 1014.6L1020.8 896.0L1020.9 888.6L1021.0 960.3L1021.1 972.8L1021.2 1008.5L1021.3 973.0L1021.3 915.1L1021.4 928.5L1021.5 934.8L1021.6 928.7L1021.7 916.6L1021.8 958.5L1021.9 949.8L1022.0 878.1L1022.1 979.3L1022.2 916.3L1022.3 944.3L1022.3 1009.0L1022.4 935.5L1022.5 904.1L1022.6 931.2L1022.7 916.6L1022.8 897.0L1022.9 894.2L1023.0 948.5L1023.1 916.3L1023.2 917.0L1023.2 910.7L1023.3 931.1L1023.4 932.5L1023.5 952.1L1023.6 906.3L1023.7 930.1L1023.8 921.9L1023.9 887.1L1024.0 964.1L1024.0 930.5L1024.1 919.7L1024.2 922.5L1024.3 922.9L1024.4 913.9L1024.5 921.9L1024.6 956.7L1024.7 911.1L1024.8 946.5L1024.8 868.7L1024.9 906.4L1025.0 944.4L1025.1 934.2L1025.2 886.1L1025.3 909.2L1025.4 915.6L1025.5 954.4L1025.5 887.4L1025.6 891.9L1025.7 904.5L1025.8 912.5L1025.9 939.3L1026.0 911.4L1026.1 940.6L1026.2 898.3L1026.2 908.8L1026.3 947.6L1026.4 914.2L1026.5 920.1L1026.6 913.3L1026.7 884.5L1026.8 919.8L1026.9 876.8L1026.9 891.3L1027.0 942.0L1027.1 943.1L1027.2 1007.8L1027.3 943.7L1027.4 910.7L1027.5 895.2L1027.6 895.4L1027.6 899.2L1027.7 976.5L1027.8 912.8L1027.9 920.6L1028.0 919.7L1028.1 886.0L1028.2 927.4L1028.2 860.2L1028.3 930.4L1028.4 896.7L1028.5 998.7L1028.6 929.5L1028.7 917.6L1028.8 885.6L1028.8 899.9L1028.9 900.3L1029.0 982.9L1029.1 918.9L1029.2 918.4L1029.3 915.3L1029.3 905.9L1029.4 933.1L1029.5 914.9L1029.6 922.8L1029.7 938.1L1029.8 930.8L1029.9 891.3L1029.9 974.7L1030.0 890.8L1030.1 923.1L1030.2 977.6L1030.3 1025.1L1030.4 906.2L1030.4 922.3L1030.5 931.3L1030.6 896.5L1030.7 910.8L1030.8 926.8L1030.9 894.3L1031.0 944.0L1031.0 1071.9L1031.1 858.4L1031.2 1071.1L1031.3 917.0L1031.4 949.2L1031.5 917.5L1031.5 915.1L1031.6 880.5L1031.7 899.6L1031.8 873.4L1031.9 921.4L1032.0 932.7L1032.0 910.1L1032.1 971.7L1032.2 995.6L1032.3 897.4L1032.4 904.4L1032.5 893.7L1032.5 895.1L1032.6 934.8L1032.7 945.5L1032.8 1007.5L1032.9 919.6L1033.0 910.4L1033.0 991.7L1033.1 876.0L1033.2 920.1L1033.3 902.0L1033.4 843.9L1033.4 836.3L1033.5 814.2L1033.6 829.7L1033.7 850.5L1033.8 983.4L1033.9 890.2L1033.9 904.0L1034.0 908.5L1034.1 910.6L1034.2 920.4L1034.3 954.5L1034.3 1073.6L1034.4 944.4L1034.5 945.8L1034.6 915.8L1034.7 902.1L1034.8 1010.9L1034.8 909.8L1034.9 1003.9L1035.0 943.1L1035.1 904.7L1035.2 894.4L1035.2 939.9L1035.3 934.1L1035.4 925.1L1035.5 922.0L1035.6 900.4L1035.6 977.8L1035.7 919.2L1035.8 978.5L1035.9 952.2L1036.0 943.6L1036.0 890.8L1036.1 888.3L1036.2 907.8L1036.3 995.3L1036.4 887.2L1036.4 877.8L1036.5 894.1L1036.6 898.7L1036.7 926.6L1036.8 886.4L1036.8 945.5L1036.9 925.9L1037.0 927.4L1037.1 955.9L1037.2 905.7L1037.2 993.1L1037.3 915.4L1037.4 933.3L1037.5 949.8L1037.6 908.5L1037.6 955.6L1037.7 874.6L1037.8 856.5L1037.9 832.6L1038.0 860.3L1038.0 924.9L1038.1 1024.5L1038.2 937.2L1038.3 904.3L1038.4 928.2L1038.4 948.6L1038.5 944.8L1038.6 944.2L1038.7 952.6L1038.7 911.0L1038.8 944.2L1038.9 917.9L1039.0 906.9L1039.1 914.2L1039.1 1014.6L1039.2 942.0L1039.3 918.4L1039.4 1030.0L1039.5 932.8L1039.5 924.8L1039.6 933.0L1039.7 913.3L1039.8 874.6L1039.8 913.6L1039.9 898.7L1040.0 990.6L1040.1 941.8L1040.2 886.2L1040.2 892.6L1040.3 874.2L1040.4 950.8L1040.5 943.5L1040.5 905.5L1040.6 891.7L1040.7 899.8L1040.8 927.4L1040.9 888.0L1040.9 873.0L1041.0 902.0L1041.1 1077.2L1041.2 888.5L1041.2 935.3L1041.3 987.3L1041.4 970.7L1041.5 932.7L1041.5 916.5L1041.6 943.2L1041.7 967.3L1041.8 909.8L1041.9 924.3L1041.9 922.2L1042.0 864.7L1042.1 965.7L1042.2 960.7L1042.2 967.5L1042.3 891.8L1042.4 897.9L1042.5 919.1L1042.5 903.1L1042.6 890.7L1042.7 861.7L1042.8 892.0L1042.8 891.8L1042.9 919.7L1043.0 972.8L1043.1 877.6L1043.1 875.4L1043.2 1016.0L1043.3 863.8L1043.4 894.4L1043.4 944.8L1043.5 928.0L1043.6 912.7L1043.7 999.7L1043.7 885.5L1043.8 927.1L1043.9 960.3L1044.0 973.7L1044.1 883.7L1044.1 925.9L1044.2 898.4L1044.3 908.2L1044.4 886.3L1044.4 882.7L1044.5 1025.8L1044.6 907.5L1044.7 917.1L1044.7 937.3L1044.8 976.4L1044.9 959.1L1044.9 930.6L1045.0 997.3L1045.1 900.8L1045.2 956.9L1045.2 882.1L1045.3 943.6L1045.4 946.7L1045.5 940.0L1045.5 934.5L1045.6 1018.1L1045.7 894.2L1045.8 919.9L1045.8 904.3L1045.9 917.9L1046.0 948.1L1046.1 953.5L1046.1 916.5L1046.2 883.5L1046.3 894.5L1046.4 932.8L1046.4 935.6L1046.5 952.6L1046.6 911.0L1046.7 929.4L1046.7 903.7L1046.8 946.6L1046.9 888.0L1046.9 913.2L1047.0 973.0L1047.1 938.6L1047.2 922.1L1047.2 920.2L1047.3 887.2L1047.4 878.2L1047.5 971.9L1047.5 898.4L1047.6 929.6L1047.7 873.2L1047.8 858.0L1047.8 887.0L1047.9 903.0L1048.0 933.2L1048.0 909.0L1048.1 896.8L1048.2 889.7L1048.3 906.8L1048.3 1026.2L1048.4 919.4L1048.5 914.9L1048.5 917.5L1048.6 883.3L1048.7 971.3L1048.8 935.2L1048.8 910.9L1048.9 914.8L1049.0 968.4L1049.1 931.5L1049.1 908.1L1049.2 891.6L1049.3 1034.4L1049.3 927.5L1049.4 940.8L1049.5 915.3L1049.6 911.5L1049.6 900.2L1049.7 922.6L1049.8 963.3L1049.8 877.1L1049.9 927.3L1050.0 928.4L1050.1 893.9L1050.1 878.7L1050.2 927.4L1050.3 917.2L1050.3 948.9L1050.4 930.4L1050.5 913.6L1050.6 934.0L1050.6 934.7L1050.7 906.1L1050.8 901.8L1050.8 974.1L1050.9 926.9L1051.0 905.6L1051.1 974.6L1051.1 913.2L1051.2 895.2L1051.3 899.8L1051.3 905.8L1051.4 948.5L1051.5 905.0L1051.6 988.9L1051.6 890.6L1051.7 916.9L1051.8 945.3L1051.8 1024.8L1051.9 962.8L1052.0 912.5L1052.0 909.2L1052.1 873.6L1052.2 896.7L1052.3 889.7L1052.3 940.0L1052.4 880.8L1052.5 879.4L1052.5 953.1L1052.6 879.9L1052.7 932.6L1052.7 879.2L1052.8 919.3L1052.9 1072.4L1053.0 908.4L1053.0 1041.1L1053.1 933.8L1053.2 956.4L1053.2 906.5L1053.3 930.3L1053.4 912.8L1053.4 895.7L1053.5 984.3L1053.6 1070.3L1053.7 915.1L1053.7 907.1L1053.8 946.1L1053.9 884.6L1053.9 894.1L1054.0 879.8L1054.1 937.0L1054.1 996.9L1054.2 929.1L1054.3 879.8L1054.3 928.0L1054.4 961.3L1054.5 895.7L1054.5 914.6L1054.6 920.8L1054.7 916.1L1054.8 864.7L1054.8 850.9L1054.9 867.0L1055.0 888.3L1055.0 907.4L1055.1 915.8L1055.2 926.8L1055.2 927.3L1055.3 923.2L1055.4 946.1L1055.4 922.6L1055.5 919.4L1055.6 891.2L1055.6 990.5L1055.7 935.0L1055.8 889.6L1055.8 907.1L1055.9 936.8L1056.0 936.8L1056.1 872.2L1056.1 989.3L1056.2 909.8L1056.3 981.6L1056.3 970.2L1056.4 992.3L1056.5 899.7L1056.5 936.8L1056.6 902.6L1056.7 946.4L1056.7 965.1L1056.8 920.7L1056.9 907.7L1056.9 872.1L1057.0 1006.4L1057.1 877.7L1057.1 944.1L1057.2 972.2L1057.3 914.6L1057.3 900.2L1057.4 915.4L1057.5 945.4L1057.5 986.5L1057.6 911.4L1057.7 925.3L1057.7 926.2L1057.8 900.0L1057.9 890.3L1057.9 948.3L1058.0 912.4L1058.1 882.8L1058.1 915.0L1058.2 900.4L1058.3 907.0L1058.3 902.5L1058.4 941.1L1058.5 914.8L1058.5 913.8L1058.6 952.0L1058.7 922.5L1058.7 941.7L1058.8 956.5L1058.9 882.6L1058.9 962.5L1059.0 953.2L1059.1 982.5L1059.1 928.5L1059.2 943.5L1059.3 903.7L1059.3 911.2L1059.4 888.5L1059.5 875.3L1059.5 905.1L1059.6 908.0L1059.7 907.0L1059.7 869.3L1059.8 871.6L1059.9 1030.3L1059.9 953.9L1060.0 912.7L1060.1 900.6L1060.1 906.7L1060.2 911.4L1060.3 870.3L1060.3 940.5L1060.4 915.5L1060.5 896.2L1060.5 978.0L1060.6 964.5L1060.7 934.6L1060.7 960.4L1060.8 932.3L1060.8 904.6L1060.9 1036.3L1061.0 933.7L1061.0 886.9L1061.1 896.8L1061.2 919.2L1061.2 960.0L1061.3 979.2L1061.4 1080.5L1061.4 862.7L1061.5 843.7L1061.6 857.5L1061.6 998.3L1061.7 1032.3L1061.8 928.1L1061.8 911.8L1061.9 927.5L1062.0 927.1L1062.0 906.5L1062.1 978.5L1062.1 984.8L1062.2 903.5L1062.3 919.8L1062.3 930.3L1062.4 888.8L1062.5 871.8L1062.5 938.8L1062.6 912.7L1062.7 960.9L1062.7 955.4L1062.8 917.2L1062.9 934.0L1062.9 927.6L1063.0 960.6L1063.0 916.2L1063.1 971.6L1063.2 950.3L1063.2 928.9L1063.3 916.0L1063.4 939.2L1063.4 978.0L1063.5 894.8L1063.6 994.6L1063.6 960.5L1063.7 908.1L1063.8 875.6L1063.8 935.1L1063.9 888.8L1063.9 1005.8L1064.0 927.7L1064.1 921.7L1064.1 872.3L1064.2 932.7L1064.3 951.4L1064.3 938.0L1064.4 1015.2L1064.5 958.8L1064.5 951.9L1064.6 927.5L1064.6 931.5L1064.7 937.5L1064.8 1026.9L1064.8 978.5L1064.9 898.3L1065.0 898.9L1065.0 957.6L1065.1 914.9L1065.1 920.7L1065.2 903.7L1065.3 886.6L1065.3 907.1L1065.4 959.9L1065.5 942.9L1065.5 929.0L1065.6 956.5L1065.6 950.0L1065.7 906.9L1065.8 886.0L1065.8 881.3L1065.9 881.6L1066.0 939.6L1066.0 905.3L1066.1 952.1L1066.1 887.5L1066.2 945.3L1066.3 923.2L1066.3 918.5L1066.4 977.9L1066.5 963.7L1066.5 943.5L1066.6 1052.0L1066.6 968.5L1066.7 864.5L1066.8 936.1L1066.8 937.5L1066.9 936.8L1067.0 969.8L1067.0 913.9L1067.1 951.7L1067.1 1039.8L1067.2 900.7L1067.3 958.5L1067.3 952.3L1067.4 928.3L1067.5 1001.8L1067.5 896.0L1067.6 917.6L1067.6 969.5L1067.7 990.7L1067.8 974.7L1067.8 922.0L1067.9 933.9L1067.9 915.4L1068.0 976.8L1068.1 1005.0L1068.1 952.2L1068.2 906.3L1068.3 950.2L1068.3 983.6L1068.4 991.3L1068.4 936.7L1068.5 960.2L1068.6 963.4L1068.6 921.3L1068.7 958.6L1068.7 942.9L1068.8 940.1L1068.9 928.1L1068.9 932.7L1069.0 929.8L1069.0 955.4L1069.1 942.4L1069.2 945.7L1069.2 914.0L1069.3 960.0L1069.4 934.5L1069.4 900.0L1069.5 929.1L1069.5 913.8L1069.6 962.9L1069.7 904.3L1069.7 896.1L1069.8 926.7L1069.8 900.1L1069.9 951.2L1070.0 890.9L1070.0 897.0L1070.1 924.6L1070.1 925.2L1070.2 905.6L1070.3 967.0L1070.3 982.7L1070.4 935.9L1070.4 951.6L1070.5 913.7L1070.6 985.2L1070.6 895.9L1070.7 921.1L1070.7 950.4L1070.8 899.9L1070.9 946.7L1070.9 955.9L1071.0 933.4L1071.0 991.3L1071.1 930.6L1071.2 931.5L1071.2 982.1L1071.3 982.5L1071.3 1029.8L1071.4 899.9L1071.5 949.8L1071.5 873.8L1071.6 937.7L1071.6 966.0L1071.7 1106.1" stroke="#4b4b4b"/>
<path d="M522.7 911.3L528.5 900.3L534.1 894.3L539.4 896.2L544.4 963.0L549.3 911.7L554.0 916.5L558.5 900.4L562.8 921.5L567.0 887.5L571.0 879.8L574.9 924.6L578.7 870.1L582.4 954.2L586.0 918.6L589.4 913.7L592.8 872.9L596.0 882.2L599.2 916.8L602.3 890.1L605.3 898.4L608.3 873.9L611.1 876.5L614.0 889.3L616.7 903.0L619.4 889.6L622.0 868.8L624.6 910.5L627.1 869.2L629.5 882.0L631.9 887.9L634.3 872.9L636.6 873.4L638.9 896.9L641.1 868.1L643.3 867.9L645.4 915.2L647.6 868.6L649.6 913.7L651.7 882.1L653.7 884.4L655.6 944.5L657.6 880.8L659.5 958.3L661.4 951.1L663.2 965.2L665.0 880.1L666.8 897.9L668.6 943.6L670.3 912.5L672.0 870.3L673.7 934.1L675.4 947.3L677.0 1003.6L678.7 890.8L680.3 899.3L681.9 954.4L683.4 884.7L684.9 901.1L686.5 914.0L688.0 911.6L689.4 921.1L690.9 960.2L692.4 928.8L693.8 930.9L695.2 925.4L696.6 896.4L698.0 914.2L699.3 1023.8L700.7 971.1L702.0 943.8L703.3 920.8L704.6 960.8L705.9 929.1L707.2 910.6L708.5 920.4L709.7 895.7L710.9 924.2L712.2 904.6L713.4 946.1L714.6 953.2L715.8 1025.5L716.9 955.0L718.1 881.8L719.2 939.9L720.4 951.2L721.5 963.3L722.6 919.7L723.7 918.8L724.8 923.2L725.9 894.9L727.0 994.3L728.1 1026.6L729.1 904.5L730.2 995.1L731.2 900.8L732.3 889.1L733.3 943.8L734.3 955.3L735.3 901.1L736.3 993.9L737.3 916.4L738.3 900.7L739.2 909.7L740.2 894.4L741.2 950.3L742.1 909.3L743.1 941.6L744.0 922.3L744.9 896.9L745.8 932.5L746.8 1004.6L747.7 903.0L748.6 1001.5L749.5 897.3L750.3 932.6L751.2 902.9L752.1 1034.2L753.0 931.1L753.8 969.2L754.7 945.6L755.5 924.1L756.4 911.0L757.2 969.9L758.0 973.1L758.9 955.5L759.7 958.9L760.5 890.0L761.3 909.1L762.1 933.5L762.9 896.4L763.7 936.7L764.5 994.9L765.3 919.8L766.0 946.2L766.8 909.2L767.6 958.9L768.3 977.7L769.1 962.0L769.9 926.9L770.6 920.7L771.3 899.4L772.1 968.3L772.8 981.0L773.5 937.0L774.3 956.9L775.0 914.1L775.7 956.5L776.4 916.4L777.1 954.1L777.8 887.8L778.5 926.8L779.2 916.9L779.9 896.9L780.6 919.0L781.3 989.0L782.0 922.7L782.6 908.2L783.3 950.6L784.0 962.2L784.6 926.9L785.3 992.3L786.0 954.7L786.6 941.3L787.3 985.3L787.9 968.9L788.5 947.4L789.2 922.4L789.8 941.6L790.5 949.6L791.1 987.0L791.7 1000.9L792.3 906.2L793.0 943.4L793.6 1001.0L794.2 937.1L794.8 964.7L795.4 923.7L796.0 983.2L796.6 919.9L797.2 926.8L797.8 925.8L798.4 917.7L799.0 957.4L799.6 979.0L800.1 919.3L800.7 922.9L801.3 937.1L801.9 930.5L802.4 955.5L803.0 916.1L803.6 951.1L804.1 945.2L804.7 916.4L805.3 941.5L805.8 936.5L806.4 910.8L806.9 933.3L807.5 957.2L808.0 988.0L808.6 1014.1L809.1 967.1L809.6 939.6L810.2 920.4L810.7 961.9L811.2 952.2L811.8 986.3L812.3 929.4L812.8 959.9L813.3 915.3L813.9 933.6L814.4 942.3L814.9 977.6L815.4 936.6L815.9 957.2L816.4 1049.2L816.9 1013.8L817.4 946.4L817.9 926.9L818.4 957.6L818.9 977.1L819.4 956.0L819.9 971.4L820.4 927.7L820.9 933.3L821.4 923.1L821.9 911.8L822.4 946.2L822.8 975.4L823.3 940.2L823.8 1020.0L824.3 938.7L824.8 941.0L825.2 988.7L825.7 963.5L826.2 952.7L826.6 930.7L827.1 916.9L827.6 924.9L828.0 925.1L828.5 944.5L828.9 938.2L829.4 954.5L829.8 933.1L830.3 966.9L830.7 1018.6L831.2 984.3L831.6 957.5L832.1 933.5L832.5 980.6L833.0 987.9L833.4 918.8L833.9 990.1L834.3 1008.9L834.7 929.5L835.2 928.0L835.6 973.1L836.0 950.8L836.5 916.7L836.9 961.9L837.3 988.0L837.7 973.9L838.2 913.3L838.6 911.9L839.0 954.4L839.4 966.7L839.8 1010.9L840.3 972.5L840.7 969.1L841.1 998.3L841.5 946.5L841.9 928.3L842.3 922.7L842.7 943.0L843.1 996.5L843.5 958.0L843.9 912.9L844.3 1007.8L844.7 989.1L845.1 915.3L845.5 983.4L845.9 930.0L846.3 914.6L846.7 946.7L847.1 973.7L847.5 937.4L847.9 949.7L848.3 992.9L848.7 924.6L849.1 967.4L849.4 941.3L849.8 917.1L850.2 981.6L850.6 971.2L851.0 952.6L851.4 953.2L851.7 947.3L852.1 972.2L852.5 903.3L852.9 923.9L853.2 921.1L853.6 924.0L854.0 960.8L854.3 950.0L854.7 970.4L855.1 958.4L855.4 985.6L855.8 975.6L856.2 913.0L856.5 921.9L856.9 971.8L857.3 998.1L857.6 993.0L858.0 922.7L858.3 966.0L858.7 929.3L859.0 942.2L859.4 998.3L859.8 968.2L860.1 995.9L860.5 966.8L860.8 1011.7L861.2 940.5L861.5 956.4L861.9 1023.6L862.2 984.8L862.5 917.3L862.9 935.6L863.2 948.4L863.6 970.7L863.9 942.3L864.3 997.3L864.6 992.0L864.9 952.3L865.3 939.6L865.6 938.3L865.9 937.6L866.3 959.0L866.6 962.8L866.9 1010.4L867.3 959.2L867.6 964.7L867.9 938.1L868.3 1062.8L868.6 957.8L868.9 931.3L869.2 943.4L869.6 982.4L869.9 941.9L870.2 1085.4L870.5 965.2L870.9 991.1L871.2 969.0L871.5 977.6L871.8 952.0L872.1 994.2L872.5 993.8L872.8 993.6L873.1 972.1L873.4 992.4L873.7 993.2L874.0 939.7L874.3 918.6L874.7 1021.7L875.0 952.3L875.3 923.7L875.6 1007.0L875.9 1001.1L876.2 971.3L876.5 927.6L876.8 1007.2L877.1 960.5L877.4 925.7L877.7 935.4L878.0 932.0L878.3 1007.5L878.6 1012.3L878.9 1027.2L879.2 948.0L879.5 969.4L879.8 972.4L880.1 951.1L880.4 911.4L880.7 922.1L881.0 925.2L881.3 958.3L881.6 955.3L881.9 915.1L882.2 922.3L882.5 952.9L882.8 975.6L883.1 962.6L883.4 988.1L883.6 967.3L883.9 926.5L884.2 928.9L884.5 951.1L884.8 971.6L885.1 1007.4L885.4 1010.4L885.6 1043.7L885.9 1006.2L886.2 954.9L886.5 967.6L886.8 922.7L887.1 1032.0L887.3 970.2L887.6 919.6L887.9 1012.7L888.2 983.7L888.5 1072.0L888.7 928.3L889.0 956.7L889.3 929.4L889.6 1031.9L889.8 934.2L890.1 983.8L890.4 979.2L890.7 971.7L890.9 960.9L891.2 957.2L891.5 994.5L891.7 971.9L892.0 950.3L892.3 985.5L892.5 978.5L892.8 958.1L893.1 982.1L893.3 935.9L893.6 957.2L893.9 992.4L894.1 993.4L894.4 988.4L894.7 1091.8L894.9 954.4L895.2 1021.0L895.5 991.6L895.7 989.6L896.0 949.2L896.2 928.1L896.5 990.7L896.8 924.0L897.0 977.6L897.3 912.5L897.5 938.1L897.8 958.8L898.0 1001.3L898.3 947.7L898.5 1024.0L898.8 1032.4L899.1 988.3L899.3 951.4L899.6 959.7L899.8 1051.7L900.1 969.1L900.3 971.5L900.6 968.9L900.8 935.8L901.1 1087.6L901.3 971.4L901.6 979.9L901.8 997.4L902.1 963.0L902.3 943.9L902.6 1030.0L902.8 937.8L903.0 953.3L903.3 982.7L903.5 959.1L903.8 971.7L904.0 941.9L904.3 1003.8L904.5 1007.3L904.8 958.9L905.0 1021.9L905.2 1008.5L905.5 976.9L905.7 942.5L906.0 918.6L906.2 1027.8L906.4 1026.1L906.7 973.6L906.9 967.0L907.1 986.4L907.4 955.7L907.6 949.9L907.9 952.1L908.1 952.1L908.3 967.3L908.6 912.8L908.8 942.4L909.0 969.1L909.3 1012.6L909.5 966.0L909.7 947.0L910.0 1033.0L910.2 1005.6L910.4 946.1L910.7 1091.5L910.9 982.1L911.1 945.4L911.3 973.6L911.6 950.8L911.8 1024.7L912.0 974.0L912.3 923.4L912.5 965.4L912.7 967.9L912.9 999.0L913.2 1033.3L913.4 980.5L913.6 971.0L913.8 966.8L914.1 938.3L914.3 987.2L914.5 964.4L914.7 956.3L914.9 988.8L915.2 953.3L915.4 983.3L915.6 951.0L915.8 940.0L916.1 969.2L916.3 1022.0L916.5 940.0L916.7 936.4L916.9 950.5L917.1 1006.7L917.4 961.1L917.6 955.0L917.8 954.4L918.0 951.3L918.2 968.4L918.4 957.4L918.7 936.4L918.9 987.2L919.1 937.0L919.3 968.3L919.5 963.4L919.7 915.0L919.9 945.0L920.2 996.3L920.4 1002.4L920.6 1007.4L920.8 935.8L921.0 988.5L921.2 953.2L921.4 943.6L921.6 940.8L921.8 1011.5L922.1 1062.7L922.3 969.0L922.5 1032.5L922.7 935.7L922.9 908.7L923.1 961.9L923.3 1014.6L923.5 965.8L923.7 946.4L923.9 1023.4L924.1 977.4L924.3 953.1L924.5 971.5L924.7 978.0L924.9 929.0L925.2 969.0L925.4 973.7L925.6 929.8L925.8 939.9L926.0 921.1L926.2 943.6L926.4 920.8L926.6 972.2L926.8 998.8L927.0 932.9L927.2 1010.5L927.4 945.2L927.6 908.4L927.8 958.8L928.0 950.0L928.2 954.1L928.4 951.3L928.6 993.4L928.8 955.3L929.0 1002.8L929.2 980.8L929.4 981.5L929.6 991.9L929.7 939.7L929.9 1025.5L930.1 971.1L930.3 917.2L930.5 942.0L930.7 1019.6L930.9 977.0L931.1 908.6L931.3 932.5L931.5 1043.0L931.7 943.5L931.9 961.3L932.1 970.4L932.3 913.8L932.5 959.3L932.7 971.7L932.8 923.1L933.0 964.6L933.2 992.8L933.4 979.2L933.6 943.2L933.8 961.1L934.0 941.0L934.2 958.1L934.4 954.1L934.6 960.2L934.7 986.5L934.9 941.2L935.1 1028.7L935.3 991.9L935.5 1038.3L935.7 955.0L935.9 976.2L936.0 980.4L936.2 1045.1L936.4 983.0L936.6 966.6L936.8 938.3L937.0 994.4L937.2 1023.0L937.3 978.4L937.5 968.1L937.7 916.7L937.9 1088.1L938.1 1003.6L938.3 976.9L938.4 966.1L938.6 985.0L938.8 1006.8L939.0 954.4L939.2 938.6L939.4 955.2L939.5 936.2L939.7 962.8L939.9 989.9L940.1 956.8L940.3 963.1L940.4 941.1L940.6 1050.8L940.8 942.1L941.0 1016.9L941.1 947.7L941.3 1015.5L941.5 939.1L941.7 975.2L941.9 972.7L942.0 939.1L942.2 974.3L942.4 968.4L942.6 1013.8L942.7 932.2L942.9 965.2L943.1 920.2L943.3 1002.2L943.4 927.8L943.6 1006.6L943.8 987.0L944.0 1028.4L944.1 969.7L944.3 934.2L944.5 987.5L944.7 924.7L944.8 935.5L945.0 951.7L945.2 969.1L945.3 933.4L945.5 967.6L945.7 943.6L945.9 949.7L946.0 1027.9L946.2 970.5L946.4 1099.0L946.5 985.3L946.7 957.9L946.9 1002.2L947.1 981.7L947.2 948.6L947.4 951.2L947.6 954.7L947.7 957.9L947.9 1024.6L948.1 1019.9L948.2 928.2L948.4 961.3L948.6 940.4L948.7 999.1L948.9 967.1L949.1 961.8L949.2 990.4L949.4 1006.2L949.6 913.4L949.7 940.1L949.9 931.4L950.1 1033.1L950.2 955.4L950.4 953.4L950.6 952.3L950.7 940.9L950.9 943.2L951.1 956.4L951.2 1017.8L951.4 958.7L951.5 930.3L951.7 955.7L951.9 960.2L952.0 996.1L952.2 984.6L952.4 969.7L952.5 952.4L952.7 935.6L952.8 943.1L953.0 955.7L953.2 1009.7L953.3 918.6L953.5 959.5L953.7 980.1L953.8 934.1L954.0 965.8L954.1 996.6L954.3 971.4L954.5 955.2L954.6 1019.8L954.8 967.6L954.9 972.6L955.1 954.6L955.2 993.6L955.4 955.2L955.6 972.4L955.7 961.1L955.9 960.4L956.0 945.7L956.2 950.4L956.4 968.4L956.5 970.7L956.7 945.8L956.8 979.9L957.0 1017.1L957.1 978.2L957.3 975.5L957.4 1001.1L957.6 975.6L957.8 948.4L957.9 937.2L958.1 950.9L958.2 964.6L958.4 952.7L958.5 941.5L958.7 1029.7L958.8 1010.1L959.0 938.3L959.1 964.2L959.3 1090.1L959.4 1021.6L959.6 949.8L959.8 944.1L959.9 945.5L960.1 914.3L960.2 999.3L960.4 1012.6L960.5 922.2L960.7 1018.3L960.8 951.6L961.0 956.0L961.1 983.4L961.3 932.4L961.4 996.1L961.6 943.0L961.7 931.6L961.9 955.4L962.0 945.6L962.2 957.2L962.3 930.9L962.5 960.1L962.6 987.0L962.8 956.9L962.9 963.8L963.1 953.9L963.2 943.9L963.4 1005.8L963.5 975.7L963.7 987.1L963.8 969.0L963.9 976.6L964.1 960.5L964.2 966.8L964.4 976.1L964.5 954.3L964.7 956.3L964.8 932.3L965.0 996.0L965.1 939.1L965.3 966.0L965.4 955.7L965.6 934.1L965.7 961.7L965.8 970.1L966.0 987.1L966.1 935.1L966.3 959.0L966.4 1042.7L966.6 968.2L966.7 963.7L966.9 968.0L967.0 935.6L967.1 1035.3L967.3 944.8L967.4 982.8L967.6 944.2L967.7 972.9L967.9 934.3L968.0 941.9L968.1 984.2L968.3 938.1L968.4 970.3L968.6 976.3L968.7 986.7L968.8 1000.1L969.0 988.6L969.1 977.4L969.3 958.9L969.4 983.9L969.6 946.5L969.7 951.3L969.8 950.6L970.0 951.5L970.1 954.7L970.3 983.1L970.4 1045.3L970.5 973.4L970.7 1022.7L970.8 970.2L970.9 972.9L971.1 964.9L971.2 938.3L971.4 990.8L971.5 948.2L971.6 955.0L971.8 910.8L971.9 956.9L972.1 966.8L972.2 951.4L972.3 946.3L972.5 977.3L972.6 974.7L972.7 972.6L972.9 956.8L973.0 950.1L973.1 966.7L973.3 951.4L973.4 945.9L973.6 979.0L973.7 958.7L973.8 934.3L974.0 1017.7L974.1 954.9L974.2 956.3L974.4 966.8L974.5 991.7L974.6 983.7L974.8 943.5L974.9 979.6L975.0 959.8L975.2 999.3L975.3 1062.8L975.4 1051.3L975.6 984.0L975.7 964.3L975.8 994.2L976.0 1017.3L976.1 962.4L976.2 944.3L976.4 950.7L976.5 957.9L976.6 957.7L976.8 965.6L976.9 952.2L977.0 974.6L977.2 941.6L977.3 975.8L977.4 953.3L977.6 975.6L977.7 950.5L977.8 977.8L978.0 965.2L978.1 1019.8L978.2 947.4L978.3 963.2L978.5 965.4L978.6 963.8L978.7 962.8L978.9 983.0L979.0 924.6L979.1 966.2L979.3 967.5L979.4 1017.5L979.5 1049.8L979.6 1009.0L979.8 1014.2L979.9 1090.1L980.0 1107.8L980.2 988.8L980.3 939.3L980.4 1020.1L980.5 977.5L980.7 933.7L980.8 951.8L980.9 982.9L981.1 998.7L981.2 1058.7L981.3 1013.7L981.4 1029.7L981.6 941.6L981.7 975.8L981.8 1014.3L981.9 1016.1L982.1 961.7L982.2 992.3L982.3 967.4L982.4 959.9L982.6 1025.3L982.7 981.1L982.8 1042.7L983.0 950.1L983.1 1053.2L983.2 1027.1L983.3 994.6L983.5 999.8L983.6 982.3L983.7 1001.3L983.8 1022.2L984.0 1019.5L984.1 1009.5L984.2 976.0L984.3 989.4L984.4 1092.1L984.6 999.0L984.7 1001.2L984.8 1003.3L984.9 1051.2L985.1 1004.7L985.2 1019.3L985.3 1007.5L985.4 995.2L985.6 1002.1L985.7 996.2L985.8 1046.8L985.9 1153.8L986.0 1042.5L986.2 1017.6L986.3 1024.8L986.4 1017.4L986.5 1055.6L986.7 989.1L986.8 977.4L986.9 1036.4L987.0 1014.3L987.1 1040.3L987.3 1073.4L987.4 994.7L987.5 1041.8L987.6 1038.1L987.7 1028.2L987.9 1009.7L988.0 1025.9L988.1 1020.0L988.2 985.6L988.3 1023.7L988.5 961.4L988.6 1005.5L988.7 1033.1L988.8 1069.6L988.9 1063.8L989.1 1006.3L989.2 962.4L989.3 1069.5L989.4 988.6L989.5 1034.7L989.7 998.1L989.8 1054.0L989.9 987.9L990.0 1081.9L990.1 989.8L990.3 1027.9L990.4 1057.5L990.5 994.8L990.6 1013.2L990.7 1005.1L990.8 1079.8L991.0 1027.8L991.1 1068.7L991.2 1114.5L991.3 1024.8L991.4 1048.7L991.5 1019.4L991.7 1012.3L991.8 1103.3L991.9 1006.6L992.0 1006.8L992.1 1002.5L992.2 993.1L992.4 1001.0L992.5 994.8L992.6 1050.1L992.7 1031.9L992.8 1012.5L992.9 1038.1L993.1 1028.3L993.2 1069.2L993.3 978.6L993.4 988.5L993.5 1042.1L993.6 990.3L993.7 943.6L993.9 980.5L994.0 973.4L994.1 1009.1L994.2 1040.7L994.3 990.1L994.4 996.4L994.5 983.0L994.7 974.3L994.8 955.3L994.9 1094.5L995.0 985.4L995.1 1008.3L995.2 996.2L995.3 1070.2L995.5 1026.4L995.6 1009.3L995.7 971.8L995.8 1099.2L995.9 954.7L996.0 988.0L996.1 980.1L996.2 940.5L996.4 1013.5L996.5 957.6L996.6 979.7L996.7 978.2L996.8 967.6L996.9 969.4L997.0 1006.5L997.1 1039.2L997.2 993.9L997.4 981.0L997.5 954.9L997.6 933.7L997.7 989.0L997.8 1000.8L997.9 1015.7L998.0 964.0L998.1 985.0L998.2 967.6L998.4 946.8L998.5 1001.0L998.6 1036.2L998.7 972.7L998.8 1000.4L998.9 1015.1L999.0 939.8L999.1 988.5L999.2 963.7L999.3 968.2L999.5 1004.6L999.6 960.3L999.7 1018.3L999.8 1007.7L999.9 931.0L1000.0 952.4L1000.1 1064.7L1000.2 962.5L1000.3 1038.1L1000.4 991.7L1000.5 974.6L1000.6 964.2L1000.8 979.2L1000.9 977.2L1001.0 953.0L1001.1 1004.7L1001.2 1052.3L1001.3 922.4L1001.4 1010.2L1001.5 1059.1L1001.6 985.2L1001.7 968.9L1001.8 952.2L1001.9 954.9L1002.0 1063.2L1002.2 945.4L1002.3 992.1L1002.4 981.9L1002.5 974.4L1002.6 978.9L1002.7 1048.1L1002.8 979.5L1002.9 978.2L1003.0 984.9L1003.1 990.2L1003.2 978.7L1003.3 1001.1L1003.4 1050.1L1003.5 992.5L1003.6 1023.7L1003.7 949.1L1003.8 973.6L1004.0 971.7L1004.1 1006.5L1004.2 962.6L1004.3 962.7L1004.4 973.5L1004.5 954.3L1004.6 972.4L1004.7 983.1L1004.8 956.8L1004.9 952.7L1005.0 997.5L1005.1 1014.6L1005.2 983.8L1005.3 993.2L1005.4 943.5L1005.5 987.3L1005.6 978.5L1005.7 924.4L1005.8 959.1L1005.9 1019.9L1006.0 957.4L1006.1 953.7L1006.2 979.7L1006.3 947.1L1006.5 968.2L1006.6 994.3L1006.7 952.1L1006.8 972.7L1006.9 939.9L1007.0 964.2L1007.1 1023.2L1007.2 976.7L1007.3 1010.8L1007.4 985.0L1007.5 966.6L1007.6 988.4L1007.7 1004.3L1007.8 976.4L1007.9 984.9L1008.0 1026.4L1008.1 957.7L1008.2 988.7L1008.3 994.3L1008.4 1022.8L1008.5 972.4L1008.6 1009.3L1008.7 998.2L1008.8 976.8L1008.9 956.9L1009.0 967.2L1009.1 984.0L1009.2 976.0L1009.3 1002.7L1009.4 993.0L1009.5 977.1L1009.6 1024.6L1009.7 965.7L1009.8 983.9L1009.9 959.2L1010.0 1035.4L1010.1 1006.1L1010.2 949.9L1010.3 1044.7L1010.4 988.7L1010.5 966.6L1010.6 953.3L1010.7 963.7L1010.8 981.6L1010.9 997.2L1011.0 985.0L1011.1 968.8L1011.2 1001.0L1011.3 985.1L1011.4 988.6L1011.5 958.8L1011.6 969.3L1011.7 951.0L1011.8 971.2L1011.9 955.2L1012.0 971.8L1012.1 970.8L1012.2 1033.5L1012.3 965.7L1012.4 940.4L1012.5 970.8L1012.6 986.8L1012.7 983.9L1012.8 1011.0L1012.9 1001.0L1013.0 969.9L1013.1 966.9L1013.2 932.3L1013.3 995.6L1013.4 937.7L1013.5 968.9L1013.6 963.4L1013.6 990.3L1013.7 960.7L1013.8 956.9L1013.9 1049.9L1014.0 977.3L1014.1 958.1L1014.2 1010.3L1014.3 947.1L1014.4 1038.6L1014.5 958.5L1014.6 1009.6L1014.7 971.1L1014.8 1028.7L1014.9 949.0L1015.0 943.5L1015.1 1016.6L1015.2 968.1L1015.3 939.8L1015.4 992.0L1015.5 1008.3L1015.6 1001.7L1015.7 929.3L1015.8 1016.4L1015.9 973.3L1016.0 978.7L1016.0 960.1L1016.1 969.0L1016.2 945.0L1016.3 990.7L1016.4 967.8L1016.5 1046.7L1016.6 937.4L1016.7 992.6L1016.8 960.5L1016.9 982.8L1017.0 944.1L1017.1 1002.5L1017.2 952.3L1017.3 959.8L1017.4 960.4L1017.5 969.6L1017.6 1012.4L1017.7 935.3L1017.7 990.2L1017.8 985.5L1017.9 957.0L1018.0 965.7L1018.1 946.9L1018.2 1030.3L1018.3 1012.0L1018.4 1023.6L1018.5 983.0L1018.6 972.1L1018.7 980.6L1018.8 996.7L1018.9 979.2L1019.0 1025.8L1019.1 1046.3L1019.1 932.5L1019.2 997.8L1019.3 972.8L1019.4 944.3L1019.5 950.3L1019.6 1002.6L1019.7 983.3L1019.8 961.6L1019.9 1043.8L1020.0 988.5L1020.1 1019.6L1020.2 971.7L1020.3 987.1L1020.3 957.6L1020.4 983.2L1020.5 1002.2L1020.6 962.7L1020.7 974.0L1020.8 986.3L1020.9 1023.2L1021.0 948.9L1021.1 976.8L1021.2 954.7L1021.3 980.5L1021.3 960.1L1021.4 981.7L1021.5 984.3L1021.6 1004.8L1021.7 988.1L1021.8 976.0L1021.9 986.7L1022.0 934.4L1022.1 956.2L1022.2 1013.8L1022.3 970.6L1022.3 995.3L1022.4 1003.3L1022.5 1011.9L1022.6 964.4L1022.7 1091.8L1022.8 984.3L1022.9 953.2L1023.0 1023.0L1023.1 954.6L1023.2 983.6L1023.2 966.5L1023.3 1002.5L1023.4 980.8L1023.5 985.6L1023.6 992.1L1023.7 1020.3L1023.8 958.7L1023.9 954.8L1024.0 975.8L1024.0 953.3L1024.1 966.9L1024.2 1029.7L1024.3 983.6L1024.4 957.5L1024.5 961.4L1024.6 928.8L1024.7 1004.1L1024.8 941.5L1024.8 954.5L1024.9 959.4L1025.0 1008.3L1025.1 950.6L1025.2 948.6L1025.3 929.4L1025.4 1042.0L1025.5 966.2L1025.5 976.1L1025.6 962.5L1025.7 948.1L1025.8 975.9L1025.9 998.6L1026.0 976.1L1026.1 1016.5L1026.2 1029.5L1026.2 993.8L1026.3 983.9L1026.4 950.2L1026.5 952.3L1026.6 961.4L1026.7 942.1L1026.8 976.0L1026.9 977.4L1026.9 956.3L1027.0 1001.4L1027.1 990.6L1027.2 975.3L1027.3 945.1L1027.4 940.8L1027.5 969.8L1027.6 992.1L1027.6 1097.1L1027.7 988.0L1027.8 928.2L1027.9 1029.1L1028.0 1062.5L1028.1 1097.6L1028.2 1002.9L1028.2 958.9L1028.3 959.5L1028.4 1051.8L1028.5 1000.9L1028.6 943.6L1028.7 961.5L1028.8 978.6L1028.8 991.3L1028.9 983.8L1029.0 991.4L1029.1 951.9L1029.2 955.5L1029.3 963.4L1029.3 964.5L1029.4 1008.0L1029.5 950.9L1029.6 1025.3L1029.7 979.5L1029.8 987.1L1029.9 959.9L1029.9 946.4L1030.0 1010.4L1030.1 1005.4L1030.2 1002.5L1030.3 975.0L1030.4 1028.8L1030.4 963.8L1030.5 962.5L1030.6 955.3L1030.7 963.7L1030.8 952.0L1030.9 1020.8L1031.0 1040.9L1031.0 972.1L1031.1 983.4L1031.2 1036.5L1031.3 993.4L1031.4 945.9L1031.5 980.5L1031.5 1038.9L1031.6 1004.9L1031.7 1017.7L1031.8 1081.3L1031.9 966.2L1032.0 995.1L1032.0 989.8L1032.1 984.4L1032.2 1016.9L1032.3 954.3L1032.4 972.5L1032.5 974.1L1032.5 946.5L1032.6 981.6L1032.7 954.0L1032.8 995.5L1032.9 941.0L1033.0 984.9L1033.0 1004.4L1033.1 1016.5L1033.2 951.8L1033.3 980.5L1033.4 957.7L1033.4 954.6L1033.5 1099.3L1033.6 984.3L1033.7 1009.9L1033.8 980.2L1033.9 996.4L1033.9 1012.4L1034.0 961.1L1034.1 1021.0L1034.2 1020.5L1034.3 1024.5L1034.3 967.2L1034.4 1034.0L1034.5 993.4L1034.6 974.2L1034.7 989.8L1034.8 1011.7L1034.8 923.2L1034.9 976.8L1035.0 970.1L1035.1 946.6L1035.2 974.0L1035.2 961.5L1035.3 984.2L1035.4 947.0L1035.5 1022.9L1035.6 980.6L1035.6 959.4L1035.7 986.1L1035.8 995.3L1035.9 1029.8L1036.0 1016.5L1036.0 971.5L1036.1 1004.5L1036.2 1022.0L1036.3 973.7L1036.4 946.9L1036.4 956.0L1036.5 985.8L1036.6 966.3L1036.7 952.6L1036.8 980.3L1036.8 990.8L1036.9 958.8L1037.0 1012.1L1037.1 980.6L1037.2 941.8L1037.2 980.2L1037.3 1041.7L1037.4 944.2L1037.5 1011.5L1037.6 951.1L1037.6 955.2L1037.7 1019.4L1037.8 985.2L1037.9 973.5L1038.0 972.4L1038.0 971.8L1038.1 975.8L1038.2 997.4L1038.3 950.7L1038.4 963.2L1038.4 974.1L1038.5 973.0L1038.6 945.7L1038.7 965.4L1038.7 968.4L1038.8 957.8L1038.9 966.7L1039.0 996.4L1039.1 973.6L1039.1 975.8L1039.2 986.6L1039.3 1090.7L1039.4 938.7L1039.5 961.6L1039.5 1000.3L1039.6 967.0L1039.7 983.1L1039.8 959.2L1039.8 1006.3L1039.9 982.9L1040.0 957.7L1040.1 1042.7L1040.2 931.8L1040.2 1019.4L1040.3 973.4L1040.4 1042.6L1040.5 940.0L1040.5 983.3L1040.6 979.0L1040.7 931.0L1040.8 973.2L1040.9 1050.9L1040.9 990.1L1041.0 927.3L1041.1 975.7L1041.2 995.6L1041.2 1019.1L1041.3 973.3L1041.4 1010.2L1041.5 947.7L1041.5 986.6L1041.6 969.1L1041.7 1027.0L1041.8 960.6L1041.9 956.6L1041.9 987.4L1042.0 1016.0L1042.1 958.6L1042.2 984.3L1042.2 998.0L1042.3 950.9L1042.4 984.5L1042.5 970.3L1042.5 1004.4L1042.6 1005.5L1042.7 978.1L1042.8 950.0L1042.8 957.5L1042.9 947.5L1043.0 985.5L1043.1 1003.5L1043.1 1013.0L1043.2 997.8L1043.3 991.3L1043.4 1004.5L1043.4 1027.6L1043.5 945.4L1043.6 986.2L1043.7 994.4L1043.7 946.7L1043.8 990.1L1043.9 1012.4L1044.0 977.2L1044.1 948.1L1044.1 1013.3L1044.2 981.1L1044.3 976.1L1044.4 966.4L1044.4 933.7L1044.5 1021.2L1044.6 972.1L1044.7 988.8L1044.7 933.9L1044.8 1036.6L1044.9 1002.7L1044.9 1052.0L1045.0 975.4L1045.1 995.8L1045.2 989.2L1045.2 986.1L1045.3 982.2L1045.4 974.0L1045.5 945.3L1045.5 1005.9L1045.6 947.7L1045.7 930.2L1045.8 1020.9L1045.8 985.6L1045.9 964.1L1046.0 1005.6L1046.1 998.6L1046.1 987.7L1046.2 1017.3L1046.3 1012.4L1046.4 963.7L1046.4 988.9L1046.5 993.5L1046.6 976.4L1046.7 1017.9L1046.7 990.8L1046.8 974.3L1046.9 981.4L1046.9 1063.5L1047.0 997.9L1047.1 964.4L1047.2 960.7L1047.2 977.7L1047.3 1006.6L1047.4 954.5L1047.5 942.9L1047.5 984.4L1047.6 983.8L1047.7 974.7L1047.8 1020.2L1047.8 992.1L1047.9 960.6L1048.0 964.8L1048.0 953.6L1048.1 937.3L1048.2 975.4L1048.3 943.9L1048.3 957.7L1048.4 1119.8L1048.5 989.0L1048.5 1001.0L1048.6 971.6L1048.7 943.1L1048.8 954.1L1048.8 939.3L1048.9 1011.4L1049.0 981.1L1049.1 959.1L1049.1 970.8L1049.2 967.9L1049.3 1013.2L1049.3 939.9L1049.4 995.8L1049.5 953.9L1049.6 953.1L1049.6 947.7L1049.7 977.5L1049.8 991.2L1049.8 978.1L1049.9 1001.5L1050.0 978.9L1050.1 957.3L1050.1 945.4L1050.2 1001.1L1050.3 971.8L1050.3 1017.1L1050.4 1059.1L1050.5 971.4L1050.6 1037.8L1050.6 950.3L1050.7 947.1L1050.8 940.2L1050.8 977.8L1050.9 1099.8L1051.0 984.4L1051.1 969.0L1051.1 1063.1L1051.2 975.6L1051.3 998.7L1051.3 1024.1L1051.4 949.3L1051.5 963.4L1051.6 989.1L1051.6 979.9L1051.7 930.3L1051.8 962.9L1051.8 1002.7L1051.9 965.3L1052.0 958.5L1052.0 943.7L1052.1 975.9L1052.2 1029.3L1052.3 967.1L1052.3 1035.1L1052.4 960.9L1052.5 963.2L1052.5 993.0L1052.6 990.3L1052.7 953.8L1052.7 969.0L1052.8 935.8L1052.9 1003.2L1053.0 1026.1L1053.0 1025.6L1053.1 951.9L1053.2 970.1L1053.2 938.7L1053.3 1042.8L1053.4 972.1L1053.4 962.9L1053.5 943.4L1053.6 1092.6L1053.7 959.9L1053.7 967.7L1053.8 1003.2L1053.9 959.4L1053.9 999.0L1054.0 940.9L1054.1 938.5L1054.1 992.3L1054.2 1007.6L1054.3 990.9L1054.3 971.4L1054.4 938.4L1054.5 966.9L1054.5 1027.9L1054.6 944.7L1054.7 979.4L1054.8 960.4L1054.8 988.3L1054.9 924.2L1055.0 993.4L1055.0 953.3L1055.1 1006.4L1055.2 978.7L1055.2 955.1L1055.3 968.4L1055.4 975.8L1055.4 997.0L1055.5 1016.7L1055.6 961.5L1055.6 938.1L1055.7 997.9L1055.8 1011.8L1055.8 996.0L1055.9 956.5L1056.0 949.2L1056.1 953.2L1056.1 994.0L1056.2 979.9L1056.3 987.0L1056.3 1047.2L1056.4 960.6L1056.5 970.3L1056.5 947.1L1056.6 969.8L1056.7 946.6L1056.7 982.0L1056.8 961.8L1056.9 967.6L1056.9 987.6L1057.0 1075.2L1057.1 970.3L1057.1 959.5L1057.2 958.1L1057.3 1036.3L1057.3 1076.1L1057.4 1001.0L1057.5 936.2L1057.5 1005.0L1057.6 1040.4L1057.7 1081.2L1057.7 985.3L1057.8 979.3L1057.9 954.4L1057.9 998.2L1058.0 969.0L1058.1 966.8L1058.1 976.4L1058.2 1021.8L1058.3 960.5L1058.3 952.5L1058.4 991.0L1058.5 1045.3L1058.5 996.0L1058.6 1015.2L1058.7 998.6L1058.7 957.2L1058.8 1089.9L1058.9 972.6L1058.9 946.0L1059.0 978.8L1059.1 932.1L1059.1 945.1L1059.2 968.9L1059.3 972.2L1059.3 1098.7L1059.4 989.5L1059.5 970.1L1059.5 973.0L1059.6 951.4L1059.7 1007.5L1059.7 962.6L1059.8 1049.0L1059.9 987.0L1059.9 1004.3L1060.0 967.1L1060.1 948.1L1060.1 962.5L1060.2 956.4L1060.3 1014.3L1060.3 975.5L1060.4 968.3L1060.5 968.9L1060.5 1007.7L1060.6 975.2L1060.7 973.0L1060.7 999.0L1060.8 1006.1L1060.8 948.7L1060.9 945.4L1061.0 995.6L1061.0 966.5L1061.1 961.3L1061.2 982.7L1061.2 982.8L1061.3 972.0L1061.4 943.6L1061.4 1024.2L1061.5 961.5L1061.6 956.8L1061.6 999.5L1061.7 955.4L1061.8 978.0L1061.8 991.3L1061.9 991.9L1062.0 947.0L1062.0 988.0L1062.1 1017.8L1062.1 955.7L1062.2 1006.2L1062.3 1035.7L1062.3 960.8L1062.4 984.3L1062.5 1032.8L1062.5 977.0L1062.6 987.0L1062.7 1121.7L1062.7 947.8L1062.8 935.6L1062.9 946.1L1062.9 949.1L1063.0 977.0L1063.0 968.3L1063.1 953.5L1063.2 947.5L1063.2 950.2L1063.3 1017.4L1063.4 935.5L1063.4 950.5L1063.5 1033.1L1063.6 1006.3L1063.6 1063.0L1063.7 946.5L1063.8 956.5L1063.8 953.6L1063.9 989.0L1063.9 946.9L1064.0 944.9L1064.1 955.4L1064.1 999.7L1064.2 941.9L1064.3 975.9L1064.3 1012.2L1064.4 943.7L1064.5 970.6L1064.5 1001.9L1064.6 974.2L1064.6 951.7L1064.7 959.6L1064.8 1015.1L1064.8 973.3L1064.9 938.6L1065.0 974.2L1065.0 960.6L1065.1 941.3L1065.1 1002.8L1065.2 996.7L1065.3 956.1L1065.3 1020.1L1065.4 952.6L1065.5 1040.4L1065.5 1035.0L1065.6 953.9L1065.6 961.9L1065.7 967.1L1065.8 987.6L1065.8 990.8L1065.9 949.1L1066.0 984.9L1066.0 1034.1L1066.1 978.8L1066.1 963.5L1066.2 1055.7L1066.3 938.6L1066.3 1040.8L1066.4 939.5L1066.5 951.3L1066.5 1006.4L1066.6 959.0L1066.6 994.9L1066.7 972.6L1066.8 977.8L1066.8 958.6L1066.9 963.0L1067.0 1016.5L1067.0 1041.1L1067.1 937.3L1067.1 985.6L1067.2 989.9L1067.3 959.9L1067.3 1126.8L1067.4 988.0L1067.5 970.5L1067.5 957.0L1067.6 937.4L1067.6 992.5L1067.7 963.3L1067.8 924.9L1067.8 951.5L1067.9 961.4L1067.9 1046.1L1068.0 943.7L1068.1 980.4L1068.1 984.0L1068.2 986.6L1068.3 990.5L1068.3 975.0L1068.4 1000.5L1068.4 982.7L1068.5 980.9L1068.6 960.9L1068.6 977.3L1068.7 974.4L1068.7 972.6L1068.8 993.9L1068.9 989.7L1068.9 968.6L1069.0 980.2L1069.0 982.5L1069.1 979.2L1069.2 984.4L1069.2 947.4L1069.3 977.9L1069.4 989.7L1069.4 967.4L1069.5 977.0L1069.5 968.5L1069.6 1007.5L1069.7 986.3L1069.7 981.7L1069.8 1012.3L1069.8 968.4L1069.9 962.0L1070.0 1005.3L1070.0 988.3L1070.1 998.3L1070.1 970.0L1070.2 1011.1L1070.3 969.5L1070.3 968.5L1070.4 1001.5L1070.4 982.4L1070.5 995.5L1070.6 986.1L1070.6 993.7L1070.7 1038.8L1070.7 976.1L1070.8 1035.4L1070.9 1047.0L1070.9 1015.0L1071.0 962.2L1071.0 959.8L1071.1 964.1L1071.2 1030.6L1071.2 982.3L1071.3 1038.9L1071.3 987.4L1071.4 956.6L1071.5 999.4L1071.5 969.1L1071.6 974.0L1071.6 962.9L1071.7 1106.1" stroke="#ee3a3a" stroke-dasharray="15.5 18.6"/>
</g>
<path d="M522.70 719.93V1162.00H1071.70" fill="none" stroke="#000" stroke-width="3.9" stroke-linecap="square" stroke-linejoin="miter"/>
<path d="M522.70 1148.73h-7.1M522.70 1129.85h-7.1M522.70 1116.46h-7.1M522.70 1106.07h-7.1M522.70 1097.58h-7.1M522.70 1090.41h-7.1M522.70 1084.19h-7.1M522.70 1078.71h-7.1M522.70 1073.80h-13.8M522.70 1041.53h-7.1M522.70 1022.65h-7.1M522.70 1009.26h-7.1M522.70 998.87h-7.1M522.70 990.38h-7.1M522.70 983.21h-7.1M522.70 976.99h-7.1M522.70 971.51h-7.1M522.70 966.60h-13.8M522.70 934.33h-7.1M522.70 915.45h-7.1M522.70 902.06h-7.1M522.70 891.67h-7.1M522.70 883.18h-7.1M522.70 876.01h-7.1M522.70 869.79h-7.1M522.70 864.31h-7.1M522.70 859.40h-13.8M522.70 827.13h-7.1M522.70 808.25h-7.1M522.70 794.86h-7.1M522.70 784.47h-7.1M522.70 775.98h-7.1M522.70 768.81h-7.1M522.70 762.59h-7.1M522.70 757.11h-7.1M522.70 752.20h-13.8M522.70 719.93h-7.1M522.70 1162.00v13.8M605.33 1162.00v7.1M653.67 1162.00v7.1M687.97 1162.00v7.1M714.57 1162.00v7.1M736.30 1162.00v7.1M754.68 1162.00v7.1M770.60 1162.00v7.1M784.64 1162.00v7.1M797.20 1162.00v13.8M879.83 1162.00v7.1M928.17 1162.00v7.1M962.47 1162.00v7.1M989.07 1162.00v7.1M1010.80 1162.00v7.1M1029.18 1162.00v7.1M1045.10 1162.00v7.1M1059.14 1162.00v7.1M1071.70 1162.00v13.8" fill="none" stroke="#000" stroke-width="3.9"/>
<text x="498.2" y="764.4" font-size="36" text-anchor="end" >10.00</text>
<text x="498.2" y="871.6" font-size="36" text-anchor="end" >1.00</text>
<text x="498.2" y="978.8" font-size="36" text-anchor="end" >0.10</text>
<text x="498.2" y="1086.0" font-size="36" text-anchor="end" >0.01</text>
<text x="522.7" y="1212.8" font-size="36" text-anchor="middle" >1</text>
<text x="797.2" y="1212.8" font-size="36" text-anchor="middle" >10</text>
<text x="1071.7" y="1212.8" font-size="36" text-anchor="middle" >100</text>
<text x="797.2" y="1254.5" font-size="36.5" text-anchor="middle" >Frequency (Hz)</text>
<text transform="translate(36.6,373.2) rotate(-90)" font-size="37">Velocity (×10<tspan font-size="25.5" dy="-15">-8</tspan><tspan dy="15">m/s)</tspan></text>
<text transform="translate(801.1,373.8) rotate(-90)" font-size="37">Velocity (×10<tspan font-size="25.5" dy="-15">-8</tspan><tspan dy="15">m/s)</tspan></text>
<text transform="translate(400.0,1086.1) rotate(-90)" font-size="37">Velocity (×10<tspan font-size="25.5" dy="-15">-8</tspan><tspan dy="15">m/s)</tspan></text>
<path d="M460.70 28.00H543.05" stroke="#4b4b4b" stroke-width="3.9" stroke-linecap="round"/>
<path d="M460.70 73.40H543.05" stroke="#ee3a3a" stroke-width="3.9" stroke-linecap="round" stroke-dasharray="15.6 18.5"/>
<text x="553.2" y="40.5" font-size="36" text-anchor="start" >soil-z</text>
<text x="553.2" y="85.9" font-size="36" text-anchor="start" >conc-z</text>
<path d="M1198.55 27.60H1281.05" stroke="#4b4b4b" stroke-width="3.9" stroke-linecap="round"/>
<path d="M1198.55 73.20H1281.05" stroke="#ee3a3a" stroke-width="3.9" stroke-linecap="round" stroke-dasharray="15.6 18.5"/>
<text x="1290.5" y="40.1" font-size="36" text-anchor="start" >soil-x</text>
<text x="1290.5" y="85.7" font-size="36" text-anchor="start" >conc-x</text>
<path d="M797.95 740.20H880.05" stroke="#4b4b4b" stroke-width="3.9" stroke-linecap="round"/>
<path d="M797.95 785.30H880.05" stroke="#ee3a3a" stroke-width="3.9" stroke-linecap="round" stroke-dasharray="15.6 18.5"/>
<text x="890.0" y="752.7" font-size="36" text-anchor="start" >soil-y</text>
<text x="890.0" y="797.8" font-size="36" text-anchor="start" >conc-y</text>
<text x="451.6" y="616.7" font-size="41" text-anchor="middle" >(a) velocity in the z direction</text>
<text x="1217.0" y="616.7" font-size="41" text-anchor="middle" >(b) velocity in the x direction</text>
<text x="825.9" y="1327.7" font-size="41" text-anchor="middle" >(c) velocity in the y direction</text>
</svg>
</body></html>
